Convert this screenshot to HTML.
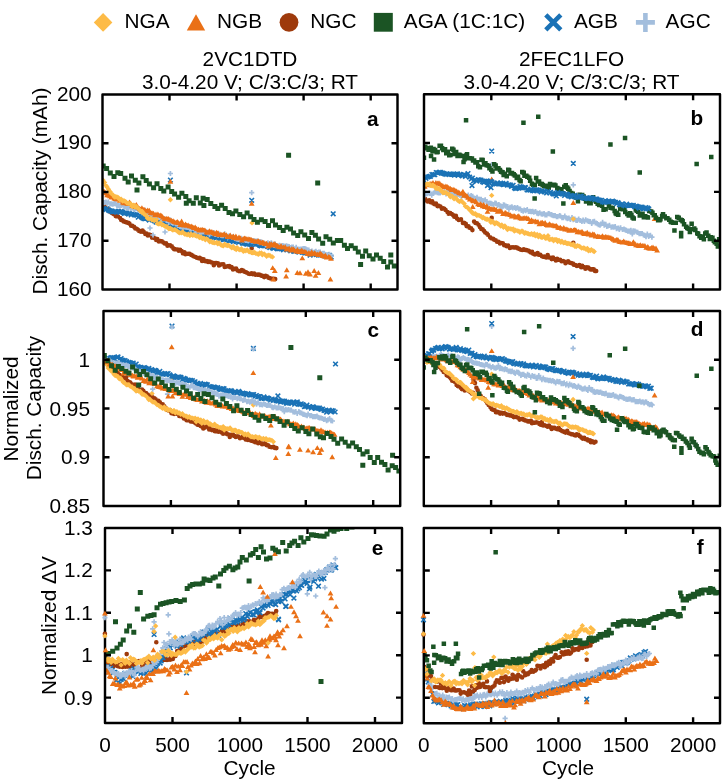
<!DOCTYPE html>
<html><head><meta charset="utf-8"><style>html,body{margin:0;padding:0;background:#fff;width:725px;height:782px;overflow:hidden}svg{display:block;will-change:transform}</style></head>
<body><svg width="725" height="782" viewBox="0 0 725 782" font-family="'Liberation Sans', sans-serif">
<rect width="725" height="782" fill="#fff"/>
<defs>
<clipPath id="cpa"><rect x="102.5" y="94.5" width="295.0" height="195.0"/></clipPath>
<clipPath id="cpb"><rect x="424.0" y="94.2" width="296.0" height="195.3"/></clipPath>
<clipPath id="cpc"><rect x="103.5" y="311.0" width="296.7" height="195.0"/></clipPath>
<clipPath id="cpd"><rect x="423.8" y="311.0" width="296.2" height="195.0"/></clipPath>
<clipPath id="cpe"><rect x="105.0" y="528.0" width="297.0" height="195.0"/></clipPath>
<clipPath id="cpf"><rect x="423.8" y="528.0" width="296.2" height="195.29999999999995"/></clipPath>
</defs>
<g clip-path="url(#cpa)">
<path fill="#9E3A0C" d="M101 204.9a2.3 2.3 0 1 0 4.6 0a2.3 2.3 0 1 0 -4.6 0M102.3 206.4a2.3 2.3 0 1 0 4.6 0a2.3 2.3 0 1 0 -4.6 0M103.7 208.2a2.3 2.3 0 1 0 4.6 0a2.3 2.3 0 1 0 -4.6 0M104.8 209.1a2.3 2.3 0 1 0 4.6 0a2.3 2.3 0 1 0 -4.6 0M106.3 209.4a2.3 2.3 0 1 0 4.6 0a2.3 2.3 0 1 0 -4.6 0M107.5 211.5a2.3 2.3 0 1 0 4.6 0a2.3 2.3 0 1 0 -4.6 0M109.3 212.7a2.3 2.3 0 1 0 4.6 0a2.3 2.3 0 1 0 -4.6 0M110.7 213.6a2.3 2.3 0 1 0 4.6 0a2.3 2.3 0 1 0 -4.6 0M111.7 214.2a2.3 2.3 0 1 0 4.6 0a2.3 2.3 0 1 0 -4.6 0M113.4 216.1a2.3 2.3 0 1 0 4.6 0a2.3 2.3 0 1 0 -4.6 0M114.8 216.3a2.3 2.3 0 1 0 4.6 0a2.3 2.3 0 1 0 -4.6 0M115.8 216.5a2.3 2.3 0 1 0 4.6 0a2.3 2.3 0 1 0 -4.6 0M117.8 218a2.3 2.3 0 1 0 4.6 0a2.3 2.3 0 1 0 -4.6 0M118.9 219.9a2.3 2.3 0 1 0 4.6 0a2.3 2.3 0 1 0 -4.6 0M120.2 220.4a2.3 2.3 0 1 0 4.6 0a2.3 2.3 0 1 0 -4.6 0M121.4 221.4a2.3 2.3 0 1 0 4.6 0a2.3 2.3 0 1 0 -4.6 0M123.3 222.1a2.3 2.3 0 1 0 4.6 0a2.3 2.3 0 1 0 -4.6 0M124.4 222.4a2.3 2.3 0 1 0 4.6 0a2.3 2.3 0 1 0 -4.6 0M125.9 222.9a2.3 2.3 0 1 0 4.6 0a2.3 2.3 0 1 0 -4.6 0M127.1 223.6a2.3 2.3 0 1 0 4.6 0a2.3 2.3 0 1 0 -4.6 0M128.8 225.7a2.3 2.3 0 1 0 4.6 0a2.3 2.3 0 1 0 -4.6 0M130 225.7a2.3 2.3 0 1 0 4.6 0a2.3 2.3 0 1 0 -4.6 0M131.7 226.8a2.3 2.3 0 1 0 4.6 0a2.3 2.3 0 1 0 -4.6 0M133 228.4a2.3 2.3 0 1 0 4.6 0a2.3 2.3 0 1 0 -4.6 0M134.4 228.7a2.3 2.3 0 1 0 4.6 0a2.3 2.3 0 1 0 -4.6 0M135.6 229.8a2.3 2.3 0 1 0 4.6 0a2.3 2.3 0 1 0 -4.6 0M136.8 230.9a2.3 2.3 0 1 0 4.6 0a2.3 2.3 0 1 0 -4.6 0M138.7 231.7a2.3 2.3 0 1 0 4.6 0a2.3 2.3 0 1 0 -4.6 0M140.2 230.5a2.3 2.3 0 1 0 4.6 0a2.3 2.3 0 1 0 -4.6 0M141.4 231.9a2.3 2.3 0 1 0 4.6 0a2.3 2.3 0 1 0 -4.6 0M143 233.9a2.3 2.3 0 1 0 4.6 0a2.3 2.3 0 1 0 -4.6 0M144.2 233.6a2.3 2.3 0 1 0 4.6 0a2.3 2.3 0 1 0 -4.6 0M145.6 235.4a2.3 2.3 0 1 0 4.6 0a2.3 2.3 0 1 0 -4.6 0M146.9 234.5a2.3 2.3 0 1 0 4.6 0a2.3 2.3 0 1 0 -4.6 0M148.2 235a2.3 2.3 0 1 0 4.6 0a2.3 2.3 0 1 0 -4.6 0M149.7 237.6a2.3 2.3 0 1 0 4.6 0a2.3 2.3 0 1 0 -4.6 0M150.9 237.3a2.3 2.3 0 1 0 4.6 0a2.3 2.3 0 1 0 -4.6 0M152.5 238.2a2.3 2.3 0 1 0 4.6 0a2.3 2.3 0 1 0 -4.6 0M153.9 239.9a2.3 2.3 0 1 0 4.6 0a2.3 2.3 0 1 0 -4.6 0M155 239.1a2.3 2.3 0 1 0 4.6 0a2.3 2.3 0 1 0 -4.6 0M156.6 241.5a2.3 2.3 0 1 0 4.6 0a2.3 2.3 0 1 0 -4.6 0M158 241a2.3 2.3 0 1 0 4.6 0a2.3 2.3 0 1 0 -4.6 0M159.6 241.4a2.3 2.3 0 1 0 4.6 0a2.3 2.3 0 1 0 -4.6 0M161.1 242.5a2.3 2.3 0 1 0 4.6 0a2.3 2.3 0 1 0 -4.6 0M162.4 243.5a2.3 2.3 0 1 0 4.6 0a2.3 2.3 0 1 0 -4.6 0M163.8 243.3a2.3 2.3 0 1 0 4.6 0a2.3 2.3 0 1 0 -4.6 0M165.2 245.8a2.3 2.3 0 1 0 4.6 0a2.3 2.3 0 1 0 -4.6 0M166.4 245.2a2.3 2.3 0 1 0 4.6 0a2.3 2.3 0 1 0 -4.6 0M167.8 245.4a2.3 2.3 0 1 0 4.6 0a2.3 2.3 0 1 0 -4.6 0M169.5 246.4a2.3 2.3 0 1 0 4.6 0a2.3 2.3 0 1 0 -4.6 0M171 248.2a2.3 2.3 0 1 0 4.6 0a2.3 2.3 0 1 0 -4.6 0M171.9 249.3a2.3 2.3 0 1 0 4.6 0a2.3 2.3 0 1 0 -4.6 0M173.2 249.3a2.3 2.3 0 1 0 4.6 0a2.3 2.3 0 1 0 -4.6 0M175.2 249.6a2.3 2.3 0 1 0 4.6 0a2.3 2.3 0 1 0 -4.6 0M176.5 250.8a2.3 2.3 0 1 0 4.6 0a2.3 2.3 0 1 0 -4.6 0M177.8 249.9a2.3 2.3 0 1 0 4.6 0a2.3 2.3 0 1 0 -4.6 0M179.3 251a2.3 2.3 0 1 0 4.6 0a2.3 2.3 0 1 0 -4.6 0M180.6 253.2a2.3 2.3 0 1 0 4.6 0a2.3 2.3 0 1 0 -4.6 0M182.1 252.3a2.3 2.3 0 1 0 4.6 0a2.3 2.3 0 1 0 -4.6 0M183.1 254.2a2.3 2.3 0 1 0 4.6 0a2.3 2.3 0 1 0 -4.6 0M184.7 253.8a2.3 2.3 0 1 0 4.6 0a2.3 2.3 0 1 0 -4.6 0M186.2 253.7a2.3 2.3 0 1 0 4.6 0a2.3 2.3 0 1 0 -4.6 0M187.3 253.8a2.3 2.3 0 1 0 4.6 0a2.3 2.3 0 1 0 -4.6 0M189 254.9a2.3 2.3 0 1 0 4.6 0a2.3 2.3 0 1 0 -4.6 0M190.2 255.6a2.3 2.3 0 1 0 4.6 0a2.3 2.3 0 1 0 -4.6 0M191.8 256.5a2.3 2.3 0 1 0 4.6 0a2.3 2.3 0 1 0 -4.6 0M193.3 257a2.3 2.3 0 1 0 4.6 0a2.3 2.3 0 1 0 -4.6 0M194.5 257.8a2.3 2.3 0 1 0 4.6 0a2.3 2.3 0 1 0 -4.6 0M196.2 258.2a2.3 2.3 0 1 0 4.6 0a2.3 2.3 0 1 0 -4.6 0M197.4 257.8a2.3 2.3 0 1 0 4.6 0a2.3 2.3 0 1 0 -4.6 0M198.9 258.9a2.3 2.3 0 1 0 4.6 0a2.3 2.3 0 1 0 -4.6 0M199.8 261a2.3 2.3 0 1 0 4.6 0a2.3 2.3 0 1 0 -4.6 0M201.3 259.4a2.3 2.3 0 1 0 4.6 0a2.3 2.3 0 1 0 -4.6 0M203 261.3a2.3 2.3 0 1 0 4.6 0a2.3 2.3 0 1 0 -4.6 0M204.6 261.1a2.3 2.3 0 1 0 4.6 0a2.3 2.3 0 1 0 -4.6 0M205.8 262a2.3 2.3 0 1 0 4.6 0a2.3 2.3 0 1 0 -4.6 0M207.3 261.6a2.3 2.3 0 1 0 4.6 0a2.3 2.3 0 1 0 -4.6 0M208.2 262.1a2.3 2.3 0 1 0 4.6 0a2.3 2.3 0 1 0 -4.6 0M210.1 262.8a2.3 2.3 0 1 0 4.6 0a2.3 2.3 0 1 0 -4.6 0M211.5 265.2a2.3 2.3 0 1 0 4.6 0a2.3 2.3 0 1 0 -4.6 0M212.8 263.1a2.3 2.3 0 1 0 4.6 0a2.3 2.3 0 1 0 -4.6 0M214.1 263a2.3 2.3 0 1 0 4.6 0a2.3 2.3 0 1 0 -4.6 0M215.6 263.3a2.3 2.3 0 1 0 4.6 0a2.3 2.3 0 1 0 -4.6 0M216.7 265.5a2.3 2.3 0 1 0 4.6 0a2.3 2.3 0 1 0 -4.6 0M218.4 264.6a2.3 2.3 0 1 0 4.6 0a2.3 2.3 0 1 0 -4.6 0M219.8 264.3a2.3 2.3 0 1 0 4.6 0a2.3 2.3 0 1 0 -4.6 0M221.1 264.4a2.3 2.3 0 1 0 4.6 0a2.3 2.3 0 1 0 -4.6 0M222.4 267a2.3 2.3 0 1 0 4.6 0a2.3 2.3 0 1 0 -4.6 0M223.6 266.8a2.3 2.3 0 1 0 4.6 0a2.3 2.3 0 1 0 -4.6 0M225.1 266.2a2.3 2.3 0 1 0 4.6 0a2.3 2.3 0 1 0 -4.6 0M226.9 266.1a2.3 2.3 0 1 0 4.6 0a2.3 2.3 0 1 0 -4.6 0M227.9 267.2a2.3 2.3 0 1 0 4.6 0a2.3 2.3 0 1 0 -4.6 0M229.2 267.1a2.3 2.3 0 1 0 4.6 0a2.3 2.3 0 1 0 -4.6 0M230.7 269.5a2.3 2.3 0 1 0 4.6 0a2.3 2.3 0 1 0 -4.6 0M232.3 268.8a2.3 2.3 0 1 0 4.6 0a2.3 2.3 0 1 0 -4.6 0M233.8 268.5a2.3 2.3 0 1 0 4.6 0a2.3 2.3 0 1 0 -4.6 0M235.3 270.5a2.3 2.3 0 1 0 4.6 0a2.3 2.3 0 1 0 -4.6 0M236.7 271.1a2.3 2.3 0 1 0 4.6 0a2.3 2.3 0 1 0 -4.6 0M238.2 271.1a2.3 2.3 0 1 0 4.6 0a2.3 2.3 0 1 0 -4.6 0M239.5 270.1a2.3 2.3 0 1 0 4.6 0a2.3 2.3 0 1 0 -4.6 0M240.7 270.5a2.3 2.3 0 1 0 4.6 0a2.3 2.3 0 1 0 -4.6 0M241.9 271.6a2.3 2.3 0 1 0 4.6 0a2.3 2.3 0 1 0 -4.6 0M243.8 272.2a2.3 2.3 0 1 0 4.6 0a2.3 2.3 0 1 0 -4.6 0M244.7 272.7a2.3 2.3 0 1 0 4.6 0a2.3 2.3 0 1 0 -4.6 0M246.4 273.8a2.3 2.3 0 1 0 4.6 0a2.3 2.3 0 1 0 -4.6 0M247.6 274a2.3 2.3 0 1 0 4.6 0a2.3 2.3 0 1 0 -4.6 0M249.3 273.2a2.3 2.3 0 1 0 4.6 0a2.3 2.3 0 1 0 -4.6 0M250.3 274.1a2.3 2.3 0 1 0 4.6 0a2.3 2.3 0 1 0 -4.6 0M251.9 273.5a2.3 2.3 0 1 0 4.6 0a2.3 2.3 0 1 0 -4.6 0M253.1 274.7a2.3 2.3 0 1 0 4.6 0a2.3 2.3 0 1 0 -4.6 0M254.9 274.7a2.3 2.3 0 1 0 4.6 0a2.3 2.3 0 1 0 -4.6 0M256.2 274.6a2.3 2.3 0 1 0 4.6 0a2.3 2.3 0 1 0 -4.6 0M257.6 274.9a2.3 2.3 0 1 0 4.6 0a2.3 2.3 0 1 0 -4.6 0M258.8 275.6a2.3 2.3 0 1 0 4.6 0a2.3 2.3 0 1 0 -4.6 0M260.1 275.9a2.3 2.3 0 1 0 4.6 0a2.3 2.3 0 1 0 -4.6 0M261.9 277.1a2.3 2.3 0 1 0 4.6 0a2.3 2.3 0 1 0 -4.6 0M263.3 275.9a2.3 2.3 0 1 0 4.6 0a2.3 2.3 0 1 0 -4.6 0M264.6 276.3a2.3 2.3 0 1 0 4.6 0a2.3 2.3 0 1 0 -4.6 0M266.2 277.8a2.3 2.3 0 1 0 4.6 0a2.3 2.3 0 1 0 -4.6 0M267.3 278.1a2.3 2.3 0 1 0 4.6 0a2.3 2.3 0 1 0 -4.6 0M268.5 278.5a2.3 2.3 0 1 0 4.6 0a2.3 2.3 0 1 0 -4.6 0M270.2 278.8a2.3 2.3 0 1 0 4.6 0a2.3 2.3 0 1 0 -4.6 0M271.4 278.9a2.3 2.3 0 1 0 4.6 0a2.3 2.3 0 1 0 -4.6 0M272.9 279a2.3 2.3 0 1 0 4.6 0a2.3 2.3 0 1 0 -4.6 0M249.4 248.2a2.3 2.3 0 1 0 4.6 0a2.3 2.3 0 1 0 -4.6 0"/>
<path fill="none" stroke="#1A72B6" stroke-width="1.6" d="M100.8 206.6l4.6 4.6m0 -4.6l-4.6 4.6M102.1 206.6l4.6 4.6m0 -4.6l-4.6 4.6M103.6 207.3l4.6 4.6m0 -4.6l-4.6 4.6M104.8 206.2l4.6 4.6m0 -4.6l-4.6 4.6M106.2 207.8l4.6 4.6m0 -4.6l-4.6 4.6M107.5 208.5l4.6 4.6m0 -4.6l-4.6 4.6M109 208.6l4.6 4.6m0 -4.6l-4.6 4.6M110.3 209.5l4.6 4.6m0 -4.6l-4.6 4.6M112.1 209.4l4.6 4.6m0 -4.6l-4.6 4.6M113.5 209.1l4.6 4.6m0 -4.6l-4.6 4.6M114.6 209.8l4.6 4.6m0 -4.6l-4.6 4.6M116.2 209l4.6 4.6m0 -4.6l-4.6 4.6M117.5 210l4.6 4.6m0 -4.6l-4.6 4.6M118.8 209l4.6 4.6m0 -4.6l-4.6 4.6M120.2 209.7l4.6 4.6m0 -4.6l-4.6 4.6M122 211l4.6 4.6m0 -4.6l-4.6 4.6M123 210.6l4.6 4.6m0 -4.6l-4.6 4.6M124.5 210.8l4.6 4.6m0 -4.6l-4.6 4.6M126.2 211.8l4.6 4.6m0 -4.6l-4.6 4.6M127.2 211.2l4.6 4.6m0 -4.6l-4.6 4.6M128.9 212.7l4.6 4.6m0 -4.6l-4.6 4.6M129.9 211.3l4.6 4.6m0 -4.6l-4.6 4.6M131.6 212.2l4.6 4.6m0 -4.6l-4.6 4.6M133.1 212.4l4.6 4.6m0 -4.6l-4.6 4.6M134.5 213l4.6 4.6m0 -4.6l-4.6 4.6M136 214.9l4.6 4.6m0 -4.6l-4.6 4.6M137.2 213.3l4.6 4.6m0 -4.6l-4.6 4.6M138.8 214.3l4.6 4.6m0 -4.6l-4.6 4.6M139.8 215.3l4.6 4.6m0 -4.6l-4.6 4.6M141.3 216l4.6 4.6m0 -4.6l-4.6 4.6M142.5 216.5l4.6 4.6m0 -4.6l-4.6 4.6M143.9 216l4.6 4.6m0 -4.6l-4.6 4.6M145.5 216.1l4.6 4.6m0 -4.6l-4.6 4.6M147 217.8l4.6 4.6m0 -4.6l-4.6 4.6M148.5 216.6l4.6 4.6m0 -4.6l-4.6 4.6M149.4 216.8l4.6 4.6m0 -4.6l-4.6 4.6M151.4 217.5l4.6 4.6m0 -4.6l-4.6 4.6M152.3 218.5l4.6 4.6m0 -4.6l-4.6 4.6M153.8 219.8l4.6 4.6m0 -4.6l-4.6 4.6M155.5 219.7l4.6 4.6m0 -4.6l-4.6 4.6M156.9 219.7l4.6 4.6m0 -4.6l-4.6 4.6M158.2 220l4.6 4.6m0 -4.6l-4.6 4.6M159.4 220.7l4.6 4.6m0 -4.6l-4.6 4.6M160.9 221l4.6 4.6m0 -4.6l-4.6 4.6M162.5 220.7l4.6 4.6m0 -4.6l-4.6 4.6M163.6 220.5l4.6 4.6m0 -4.6l-4.6 4.6M165.3 221.1l4.6 4.6m0 -4.6l-4.6 4.6M166.7 223.2l4.6 4.6m0 -4.6l-4.6 4.6M167.9 221.4l4.6 4.6m0 -4.6l-4.6 4.6M169.5 223.8l4.6 4.6m0 -4.6l-4.6 4.6M170.6 222.7l4.6 4.6m0 -4.6l-4.6 4.6M172.2 225.1l4.6 4.6m0 -4.6l-4.6 4.6M173.6 224.5l4.6 4.6m0 -4.6l-4.6 4.6M174.8 226.2l4.6 4.6m0 -4.6l-4.6 4.6M176.3 226l4.6 4.6m0 -4.6l-4.6 4.6M177.8 226.4l4.6 4.6m0 -4.6l-4.6 4.6M179.1 227.5l4.6 4.6m0 -4.6l-4.6 4.6M180.3 227.7l4.6 4.6m0 -4.6l-4.6 4.6M182.2 228.3l4.6 4.6m0 -4.6l-4.6 4.6M183.6 227.7l4.6 4.6m0 -4.6l-4.6 4.6M184.4 229.2l4.6 4.6m0 -4.6l-4.6 4.6M186.4 229.2l4.6 4.6m0 -4.6l-4.6 4.6M187.5 228.9l4.6 4.6m0 -4.6l-4.6 4.6M188.7 229.3l4.6 4.6m0 -4.6l-4.6 4.6M190.5 230.4l4.6 4.6m0 -4.6l-4.6 4.6M191.7 230.2l4.6 4.6m0 -4.6l-4.6 4.6M193.2 231.6l4.6 4.6m0 -4.6l-4.6 4.6M194.7 230.5l4.6 4.6m0 -4.6l-4.6 4.6M195.9 230.5l4.6 4.6m0 -4.6l-4.6 4.6M197 233l4.6 4.6m0 -4.6l-4.6 4.6M198.9 231.7l4.6 4.6m0 -4.6l-4.6 4.6M200.2 232.4l4.6 4.6m0 -4.6l-4.6 4.6M201.7 232.1l4.6 4.6m0 -4.6l-4.6 4.6M202.8 232.4l4.6 4.6m0 -4.6l-4.6 4.6M204.5 233.1l4.6 4.6m0 -4.6l-4.6 4.6M205.9 233.4l4.6 4.6m0 -4.6l-4.6 4.6M207 232.8l4.6 4.6m0 -4.6l-4.6 4.6M208.4 234.9l4.6 4.6m0 -4.6l-4.6 4.6M209.8 234l4.6 4.6m0 -4.6l-4.6 4.6M211 234.8l4.6 4.6m0 -4.6l-4.6 4.6M212.5 234.7l4.6 4.6m0 -4.6l-4.6 4.6M214 235.5l4.6 4.6m0 -4.6l-4.6 4.6M215.3 234.9l4.6 4.6m0 -4.6l-4.6 4.6M217.1 235.5l4.6 4.6m0 -4.6l-4.6 4.6M218.3 236.9l4.6 4.6m0 -4.6l-4.6 4.6M219.7 235.3l4.6 4.6m0 -4.6l-4.6 4.6M221 237.3l4.6 4.6m0 -4.6l-4.6 4.6M222.4 237.3l4.6 4.6m0 -4.6l-4.6 4.6M224.1 236.2l4.6 4.6m0 -4.6l-4.6 4.6M225.3 236.6l4.6 4.6m0 -4.6l-4.6 4.6M226.8 238.3l4.6 4.6m0 -4.6l-4.6 4.6M228.1 238.5l4.6 4.6m0 -4.6l-4.6 4.6M229.5 237.9l4.6 4.6m0 -4.6l-4.6 4.6M231.1 239.4l4.6 4.6m0 -4.6l-4.6 4.6M232.2 238.1l4.6 4.6m0 -4.6l-4.6 4.6M233.7 239l4.6 4.6m0 -4.6l-4.6 4.6M235.2 238.6l4.6 4.6m0 -4.6l-4.6 4.6M236.3 240.1l4.6 4.6m0 -4.6l-4.6 4.6M238.2 239.1l4.6 4.6m0 -4.6l-4.6 4.6M239.3 239.6l4.6 4.6m0 -4.6l-4.6 4.6M240.5 241.2l4.6 4.6m0 -4.6l-4.6 4.6M242.3 240.9l4.6 4.6m0 -4.6l-4.6 4.6M243.7 241.5l4.6 4.6m0 -4.6l-4.6 4.6M245 241.8l4.6 4.6m0 -4.6l-4.6 4.6M246.5 241.7l4.6 4.6m0 -4.6l-4.6 4.6M247.5 241.9l4.6 4.6m0 -4.6l-4.6 4.6M249.1 242.3l4.6 4.6m0 -4.6l-4.6 4.6M250.6 241.2l4.6 4.6m0 -4.6l-4.6 4.6M252.2 240.4l4.6 4.6m0 -4.6l-4.6 4.6M253.4 242.2l4.6 4.6m0 -4.6l-4.6 4.6M254.8 241.7l4.6 4.6m0 -4.6l-4.6 4.6M256 241.9l4.6 4.6m0 -4.6l-4.6 4.6M257.5 243.2l4.6 4.6m0 -4.6l-4.6 4.6M258.9 243.6l4.6 4.6m0 -4.6l-4.6 4.6M260.5 243l4.6 4.6m0 -4.6l-4.6 4.6M261.9 243.2l4.6 4.6m0 -4.6l-4.6 4.6M263.2 243l4.6 4.6m0 -4.6l-4.6 4.6M264.8 243.9l4.6 4.6m0 -4.6l-4.6 4.6M265.6 244.3l4.6 4.6m0 -4.6l-4.6 4.6M267.5 245.3l4.6 4.6m0 -4.6l-4.6 4.6M268.7 243.5l4.6 4.6m0 -4.6l-4.6 4.6M270.3 245.7l4.6 4.6m0 -4.6l-4.6 4.6M271.4 246.1l4.6 4.6m0 -4.6l-4.6 4.6M272.9 244.9l4.6 4.6m0 -4.6l-4.6 4.6M274.5 246l4.6 4.6m0 -4.6l-4.6 4.6M275.4 246.5l4.6 4.6m0 -4.6l-4.6 4.6M277 246.3l4.6 4.6m0 -4.6l-4.6 4.6M278.5 245.8l4.6 4.6m0 -4.6l-4.6 4.6M280.1 246.3l4.6 4.6m0 -4.6l-4.6 4.6M281.2 247.5l4.6 4.6m0 -4.6l-4.6 4.6M282.9 245.7l4.6 4.6m0 -4.6l-4.6 4.6M283.9 247.1l4.6 4.6m0 -4.6l-4.6 4.6M285.4 246.4l4.6 4.6m0 -4.6l-4.6 4.6M286.9 247.4l4.6 4.6m0 -4.6l-4.6 4.6M288.4 248.5l4.6 4.6m0 -4.6l-4.6 4.6M289.9 247.1l4.6 4.6m0 -4.6l-4.6 4.6M291.3 248.9l4.6 4.6m0 -4.6l-4.6 4.6M292.4 249.1l4.6 4.6m0 -4.6l-4.6 4.6M294 248l4.6 4.6m0 -4.6l-4.6 4.6M295.4 249.2l4.6 4.6m0 -4.6l-4.6 4.6M296.6 249.8l4.6 4.6m0 -4.6l-4.6 4.6M298.3 249.2l4.6 4.6m0 -4.6l-4.6 4.6M299.7 249.8l4.6 4.6m0 -4.6l-4.6 4.6M300.9 249.8l4.6 4.6m0 -4.6l-4.6 4.6M302.5 250.6l4.6 4.6m0 -4.6l-4.6 4.6M303.5 250.5l4.6 4.6m0 -4.6l-4.6 4.6M304.9 249.7l4.6 4.6m0 -4.6l-4.6 4.6M306.7 250l4.6 4.6m0 -4.6l-4.6 4.6M307.8 252.9l4.6 4.6m0 -4.6l-4.6 4.6M309.4 250.4l4.6 4.6m0 -4.6l-4.6 4.6M310.7 252.2l4.6 4.6m0 -4.6l-4.6 4.6M311.9 251.8l4.6 4.6m0 -4.6l-4.6 4.6M313.7 252l4.6 4.6m0 -4.6l-4.6 4.6M315 250.9l4.6 4.6m0 -4.6l-4.6 4.6M316.1 252.8l4.6 4.6m0 -4.6l-4.6 4.6M317.6 252.8l4.6 4.6m0 -4.6l-4.6 4.6M319.3 252.6l4.6 4.6m0 -4.6l-4.6 4.6M320.7 252.8l4.6 4.6m0 -4.6l-4.6 4.6M322.1 253.4l4.6 4.6m0 -4.6l-4.6 4.6M323.3 253.8l4.6 4.6m0 -4.6l-4.6 4.6M324.6 252.4l4.6 4.6m0 -4.6l-4.6 4.6M326.1 253.3l4.6 4.6m0 -4.6l-4.6 4.6M327.3 253.1l4.6 4.6m0 -4.6l-4.6 4.6M328.9 254.8l4.6 4.6m0 -4.6l-4.6 4.6M168.1 177.7l4.6 4.6m0 -4.6l-4.6 4.6M249.4 198l4.6 4.6m0 -4.6l-4.6 4.6M330.9 211.5l4.6 4.6m0 -4.6l-4.6 4.6"/>
<path fill="none" stroke="#A3BEDD" stroke-width="1.7" d="M100.2 202.7h5.2m-2.6 -2.6v5.2M101.8 202.6h5.2m-2.6 -2.6v5.2M103.4 202.2h5.2m-2.6 -2.6v5.2M104.7 203.2h5.2m-2.6 -2.6v5.2M105.7 202.2h5.2m-2.6 -2.6v5.2M107.4 203.8h5.2m-2.6 -2.6v5.2M108.7 203.8h5.2m-2.6 -2.6v5.2M110.2 204.2h5.2m-2.6 -2.6v5.2M111.7 203.6h5.2m-2.6 -2.6v5.2M113.3 203.9h5.2m-2.6 -2.6v5.2M114.3 205.3h5.2m-2.6 -2.6v5.2M115.7 205.7h5.2m-2.6 -2.6v5.2M117.3 205.9h5.2m-2.6 -2.6v5.2M118.8 205.3h5.2m-2.6 -2.6v5.2M120.1 205h5.2m-2.6 -2.6v5.2M121.4 206.4h5.2m-2.6 -2.6v5.2M123 206.9h5.2m-2.6 -2.6v5.2M124.2 207.9h5.2m-2.6 -2.6v5.2M125.9 208.2h5.2m-2.6 -2.6v5.2M126.9 206.7h5.2m-2.6 -2.6v5.2M128.2 208.7h5.2m-2.6 -2.6v5.2M130 207.9h5.2m-2.6 -2.6v5.2M131.1 209.3h5.2m-2.6 -2.6v5.2M132.8 208.9h5.2m-2.6 -2.6v5.2M134.1 208.3h5.2m-2.6 -2.6v5.2M135.4 209.9h5.2m-2.6 -2.6v5.2M136.6 210.3h5.2m-2.6 -2.6v5.2M138.4 211.1h5.2m-2.6 -2.6v5.2M139.3 211.3h5.2m-2.6 -2.6v5.2M141.3 211.8h5.2m-2.6 -2.6v5.2M142.6 210.4h5.2m-2.6 -2.6v5.2M143.7 212.6h5.2m-2.6 -2.6v5.2M145 212.4h5.2m-2.6 -2.6v5.2M146.8 213.6h5.2m-2.6 -2.6v5.2M148 213.8h5.2m-2.6 -2.6v5.2M149.2 214.6h5.2m-2.6 -2.6v5.2M150.8 214h5.2m-2.6 -2.6v5.2M152 217.1h5.2m-2.6 -2.6v5.2M153.5 215.6h5.2m-2.6 -2.6v5.2M155.1 216.5h5.2m-2.6 -2.6v5.2M156.6 216.4h5.2m-2.6 -2.6v5.2M158 218.3h5.2m-2.6 -2.6v5.2M159 219.4h5.2m-2.6 -2.6v5.2M160.6 218.8h5.2m-2.6 -2.6v5.2M162 218.8h5.2m-2.6 -2.6v5.2M163.7 220.5h5.2m-2.6 -2.6v5.2M164.6 220h5.2m-2.6 -2.6v5.2M166.2 222.3h5.2m-2.6 -2.6v5.2M167.8 220.2h5.2m-2.6 -2.6v5.2M168.9 222.3h5.2m-2.6 -2.6v5.2M170.3 223.2h5.2m-2.6 -2.6v5.2M171.8 222.9h5.2m-2.6 -2.6v5.2M173.1 223.8h5.2m-2.6 -2.6v5.2M174.9 225.4h5.2m-2.6 -2.6v5.2M175.8 225.5h5.2m-2.6 -2.6v5.2M177.2 226.5h5.2m-2.6 -2.6v5.2M178.6 225.5h5.2m-2.6 -2.6v5.2M180.3 228.6h5.2m-2.6 -2.6v5.2M181.5 225.8h5.2m-2.6 -2.6v5.2M183.2 227.2h5.2m-2.6 -2.6v5.2M184.6 227.3h5.2m-2.6 -2.6v5.2M186.1 227.4h5.2m-2.6 -2.6v5.2M187.1 228.9h5.2m-2.6 -2.6v5.2M188.3 229.2h5.2m-2.6 -2.6v5.2M189.9 228.2h5.2m-2.6 -2.6v5.2M191.7 229h5.2m-2.6 -2.6v5.2M193 230.5h5.2m-2.6 -2.6v5.2M193.9 232.6h5.2m-2.6 -2.6v5.2M195.7 230.7h5.2m-2.6 -2.6v5.2M197.3 232.4h5.2m-2.6 -2.6v5.2M198.7 232.1h5.2m-2.6 -2.6v5.2M199.9 231.8h5.2m-2.6 -2.6v5.2M201.4 231.9h5.2m-2.6 -2.6v5.2M202.8 231.3h5.2m-2.6 -2.6v5.2M203.9 231.9h5.2m-2.6 -2.6v5.2M205.2 232.7h5.2m-2.6 -2.6v5.2M206.9 234.7h5.2m-2.6 -2.6v5.2M208 232.5h5.2m-2.6 -2.6v5.2M209.5 233.1h5.2m-2.6 -2.6v5.2M211.3 232.6h5.2m-2.6 -2.6v5.2M212.4 234.3h5.2m-2.6 -2.6v5.2M213.8 234.1h5.2m-2.6 -2.6v5.2M215.5 235.1h5.2m-2.6 -2.6v5.2M216.5 234.2h5.2m-2.6 -2.6v5.2M218.3 235.4h5.2m-2.6 -2.6v5.2M219.6 235.7h5.2m-2.6 -2.6v5.2M220.7 235.6h5.2m-2.6 -2.6v5.2M222.1 233.9h5.2m-2.6 -2.6v5.2M223.4 236h5.2m-2.6 -2.6v5.2M225.2 237h5.2m-2.6 -2.6v5.2M226.2 236.1h5.2m-2.6 -2.6v5.2M227.5 236.2h5.2m-2.6 -2.6v5.2M229.4 237.2h5.2m-2.6 -2.6v5.2M230.7 237h5.2m-2.6 -2.6v5.2M232.1 238.4h5.2m-2.6 -2.6v5.2M233.5 238.7h5.2m-2.6 -2.6v5.2M234.5 239.2h5.2m-2.6 -2.6v5.2M236 239.3h5.2m-2.6 -2.6v5.2M237.6 239.1h5.2m-2.6 -2.6v5.2M238.7 238.3h5.2m-2.6 -2.6v5.2M240.4 239.9h5.2m-2.6 -2.6v5.2M241.9 240h5.2m-2.6 -2.6v5.2M243.3 240.3h5.2m-2.6 -2.6v5.2M244.7 240.4h5.2m-2.6 -2.6v5.2M245.7 240.9h5.2m-2.6 -2.6v5.2M247.2 240h5.2m-2.6 -2.6v5.2M249 241h5.2m-2.6 -2.6v5.2M250 240.9h5.2m-2.6 -2.6v5.2M251.6 240.8h5.2m-2.6 -2.6v5.2M252.7 241h5.2m-2.6 -2.6v5.2M254.7 240.9h5.2m-2.6 -2.6v5.2M255.6 241.8h5.2m-2.6 -2.6v5.2M257.1 241.8h5.2m-2.6 -2.6v5.2M258.6 241.8h5.2m-2.6 -2.6v5.2M260.1 243.4h5.2m-2.6 -2.6v5.2M261.7 243.2h5.2m-2.6 -2.6v5.2M262.9 244.9h5.2m-2.6 -2.6v5.2M264.1 244.4h5.2m-2.6 -2.6v5.2M265.3 242.9h5.2m-2.6 -2.6v5.2M267.1 243.8h5.2m-2.6 -2.6v5.2M268.7 242.9h5.2m-2.6 -2.6v5.2M269.5 244h5.2m-2.6 -2.6v5.2M271.4 245.5h5.2m-2.6 -2.6v5.2M272.4 243.8h5.2m-2.6 -2.6v5.2M274 245.5h5.2m-2.6 -2.6v5.2M275.4 246h5.2m-2.6 -2.6v5.2M276.9 245.4h5.2m-2.6 -2.6v5.2M278.5 246.3h5.2m-2.6 -2.6v5.2M279.7 245.7h5.2m-2.6 -2.6v5.2M280.9 245.8h5.2m-2.6 -2.6v5.2M282.5 246.3h5.2m-2.6 -2.6v5.2M283.8 245.9h5.2m-2.6 -2.6v5.2M285.1 246.4h5.2m-2.6 -2.6v5.2M286.5 246.6h5.2m-2.6 -2.6v5.2M288 247.7h5.2m-2.6 -2.6v5.2M289.3 247.1h5.2m-2.6 -2.6v5.2M290.6 247.1h5.2m-2.6 -2.6v5.2M292 248.9h5.2m-2.6 -2.6v5.2M293.6 247.4h5.2m-2.6 -2.6v5.2M294.9 249.5h5.2m-2.6 -2.6v5.2M296.6 249.4h5.2m-2.6 -2.6v5.2M298 249.2h5.2m-2.6 -2.6v5.2M299.1 249h5.2m-2.6 -2.6v5.2M300.7 248.7h5.2m-2.6 -2.6v5.2M302.2 248.7h5.2m-2.6 -2.6v5.2M303.3 249h5.2m-2.6 -2.6v5.2M304.8 249.8h5.2m-2.6 -2.6v5.2M306.2 250.2h5.2m-2.6 -2.6v5.2M307.7 251.7h5.2m-2.6 -2.6v5.2M309.3 251.2h5.2m-2.6 -2.6v5.2M310.2 252.5h5.2m-2.6 -2.6v5.2M312.1 252.2h5.2m-2.6 -2.6v5.2M313.3 251.3h5.2m-2.6 -2.6v5.2M314.8 252.5h5.2m-2.6 -2.6v5.2M316.1 252h5.2m-2.6 -2.6v5.2M317.6 252h5.2m-2.6 -2.6v5.2M318.7 254.4h5.2m-2.6 -2.6v5.2M320.3 253.4h5.2m-2.6 -2.6v5.2M321.5 253.4h5.2m-2.6 -2.6v5.2M323 254.7h5.2m-2.6 -2.6v5.2M324.5 255h5.2m-2.6 -2.6v5.2M325.6 254.9h5.2m-2.6 -2.6v5.2M326.9 254.3h5.2m-2.6 -2.6v5.2M328.8 256.2h5.2m-2.6 -2.6v5.2M167.8 173.5h5.2m-2.6 -2.6v5.2M249.1 192.6h5.2m-2.6 -2.6v5.2M147.4 228h5.2m-2.6 -2.6v5.2M150.4 235h5.2m-2.6 -2.6v5.2M162.4 232h5.2m-2.6 -2.6v5.2"/>
<path fill="#EA7016" d="M103.3 188.8l2.9 4.9h-5.8zM104.6 188.9l2.9 4.9h-5.8zM105.7 190.4l2.9 4.9h-5.8zM107.1 192.4l2.9 4.9h-5.8zM108.8 192.5l2.9 4.9h-5.8zM110 193.4l2.9 4.9h-5.8zM111.5 194.4l2.9 4.9h-5.8zM112.5 194.7l2.9 4.9h-5.8zM114.4 195.5l2.9 4.9h-5.8zM115.5 196.1l2.9 4.9h-5.8zM117 196.3l2.9 4.9h-5.8zM118.2 196.6l2.9 4.9h-5.8zM119.8 197.9l2.9 4.9h-5.8zM121.4 197.9l2.9 4.9h-5.8zM122.8 199.5l2.9 4.9h-5.8zM124 200.4l2.9 4.9h-5.8zM125.6 199.5l2.9 4.9h-5.8zM126.8 200.6l2.9 4.9h-5.8zM128.1 201l2.9 4.9h-5.8zM129.6 199.4l2.9 4.9h-5.8zM130.8 201.1l2.9 4.9h-5.8zM132.3 203.2l2.9 4.9h-5.8zM133.9 202.8l2.9 4.9h-5.8zM135.4 204.1l2.9 4.9h-5.8zM136.3 201.9l2.9 4.9h-5.8zM138.1 204.7l2.9 4.9h-5.8zM139.6 205.9l2.9 4.9h-5.8zM140.8 206.5l2.9 4.9h-5.8zM141.9 205.2l2.9 4.9h-5.8zM143.7 206.9l2.9 4.9h-5.8zM144.8 207.1l2.9 4.9h-5.8zM146.5 208.6l2.9 4.9h-5.8zM147.7 207.6l2.9 4.9h-5.8zM149.3 207.8l2.9 4.9h-5.8zM150.5 210.4l2.9 4.9h-5.8zM152 210.2l2.9 4.9h-5.8zM153.4 210.7l2.9 4.9h-5.8zM154.9 212.4l2.9 4.9h-5.8zM156 211.5l2.9 4.9h-5.8zM157.9 211.4l2.9 4.9h-5.8zM158.9 212.7l2.9 4.9h-5.8zM160.3 212.6l2.9 4.9h-5.8zM161.7 213l2.9 4.9h-5.8zM162.9 214.5l2.9 4.9h-5.8zM164.6 216l2.9 4.9h-5.8zM166.2 215.7l2.9 4.9h-5.8zM167.5 216.3l2.9 4.9h-5.8zM168.6 216.1l2.9 4.9h-5.8zM170 217.2l2.9 4.9h-5.8zM171.5 217.7l2.9 4.9h-5.8zM173.2 218.3l2.9 4.9h-5.8zM174.4 219.2l2.9 4.9h-5.8zM176.1 219.8l2.9 4.9h-5.8zM177.3 218.9l2.9 4.9h-5.8zM178.7 220.2l2.9 4.9h-5.8zM180.2 222.2l2.9 4.9h-5.8zM181.6 218.5l2.9 4.9h-5.8zM182.7 221.6l2.9 4.9h-5.8zM184.1 222.5l2.9 4.9h-5.8zM185.6 221.4l2.9 4.9h-5.8zM187 222.8l2.9 4.9h-5.8zM188.2 222.6l2.9 4.9h-5.8zM189.8 223.4l2.9 4.9h-5.8zM191.3 223.6l2.9 4.9h-5.8zM192.4 224.2l2.9 4.9h-5.8zM193.8 225.1l2.9 4.9h-5.8zM195.2 224.4l2.9 4.9h-5.8zM196.7 226l2.9 4.9h-5.8zM198.5 226.6l2.9 4.9h-5.8zM199.3 227.5l2.9 4.9h-5.8zM200.8 226.9l2.9 4.9h-5.8zM202.2 226.8l2.9 4.9h-5.8zM203.8 227.5l2.9 4.9h-5.8zM204.9 227.4l2.9 4.9h-5.8zM206.6 229.4l2.9 4.9h-5.8zM207.8 229.8l2.9 4.9h-5.8zM209.3 228.2l2.9 4.9h-5.8zM211 229.1l2.9 4.9h-5.8zM212 229.3l2.9 4.9h-5.8zM213.7 230l2.9 4.9h-5.8zM214.9 231.3l2.9 4.9h-5.8zM216.4 229.7l2.9 4.9h-5.8zM218 230.2l2.9 4.9h-5.8zM219 232l2.9 4.9h-5.8zM220.9 231.5l2.9 4.9h-5.8zM222.2 232.3l2.9 4.9h-5.8zM223.5 231.9l2.9 4.9h-5.8zM224.5 231.6l2.9 4.9h-5.8zM226.3 232.3l2.9 4.9h-5.8zM227.7 234l2.9 4.9h-5.8zM229.2 233.8l2.9 4.9h-5.8zM230.2 232.6l2.9 4.9h-5.8zM232.1 234.3l2.9 4.9h-5.8zM233.4 233.6l2.9 4.9h-5.8zM234.4 235l2.9 4.9h-5.8zM235.9 233.6l2.9 4.9h-5.8zM237.1 235.7l2.9 4.9h-5.8zM239 234.4l2.9 4.9h-5.8zM240.4 235.4l2.9 4.9h-5.8zM241.9 237.7l2.9 4.9h-5.8zM243.1 236.1l2.9 4.9h-5.8zM244.5 235.6l2.9 4.9h-5.8zM245.9 235.8l2.9 4.9h-5.8zM247.2 236.4l2.9 4.9h-5.8zM248.9 236.2l2.9 4.9h-5.8zM250.1 236.8l2.9 4.9h-5.8zM251.3 236.9l2.9 4.9h-5.8zM252.8 238.1l2.9 4.9h-5.8zM253.9 238l2.9 4.9h-5.8zM255.7 238.8l2.9 4.9h-5.8zM257.1 238.4l2.9 4.9h-5.8zM258.4 238.2l2.9 4.9h-5.8zM260 239.1l2.9 4.9h-5.8zM261.4 240.3l2.9 4.9h-5.8zM262.5 239.5l2.9 4.9h-5.8zM263.7 240.1l2.9 4.9h-5.8zM265.2 241.1l2.9 4.9h-5.8zM266.6 240.7l2.9 4.9h-5.8zM268.1 243.7l2.9 4.9h-5.8zM269.6 241l2.9 4.9h-5.8zM271.3 241.3l2.9 4.9h-5.8zM272.3 242.5l2.9 4.9h-5.8zM274 241l2.9 4.9h-5.8zM275.3 241.8l2.9 4.9h-5.8zM276.8 242.7l2.9 4.9h-5.8zM277.9 243.3l2.9 4.9h-5.8zM279.1 244.4l2.9 4.9h-5.8zM281 243l2.9 4.9h-5.8zM282 244.7l2.9 4.9h-5.8zM283.4 244.6l2.9 4.9h-5.8zM285.2 244.2l2.9 4.9h-5.8zM286.5 246.5l2.9 4.9h-5.8zM287.6 246.2l2.9 4.9h-5.8zM289.1 245.4l2.9 4.9h-5.8zM290.9 247.5l2.9 4.9h-5.8zM291.9 246.1l2.9 4.9h-5.8zM293.5 246.5l2.9 4.9h-5.8zM294.6 247.5l2.9 4.9h-5.8zM296.4 248.7l2.9 4.9h-5.8zM297.4 246.9l2.9 4.9h-5.8zM299 249.1l2.9 4.9h-5.8zM300.1 248.6l2.9 4.9h-5.8zM301.8 247.6l2.9 4.9h-5.8zM303.4 249.2l2.9 4.9h-5.8zM304.4 248.9l2.9 4.9h-5.8zM305.9 249.3l2.9 4.9h-5.8zM307.6 251.2l2.9 4.9h-5.8zM308.9 250l2.9 4.9h-5.8zM310.1 251.6l2.9 4.9h-5.8zM311.7 249.2l2.9 4.9h-5.8zM313 250.9l2.9 4.9h-5.8zM314.6 250.2l2.9 4.9h-5.8zM315.7 251.2l2.9 4.9h-5.8zM317.4 251.6l2.9 4.9h-5.8zM318.7 252l2.9 4.9h-5.8zM320.1 250.6l2.9 4.9h-5.8zM321.3 251.4l2.9 4.9h-5.8zM322.9 253l2.9 4.9h-5.8zM324.3 253.5l2.9 4.9h-5.8zM325.5 252.8l2.9 4.9h-5.8zM326.7 254.6l2.9 4.9h-5.8zM328.7 254l2.9 4.9h-5.8zM329.9 254.5l2.9 4.9h-5.8zM331 255.9l2.9 4.9h-5.8zM170.4 178.8l2.9 4.9h-5.8zM251.7 200.8l2.9 4.9h-5.8zM272.7 265.2l2.9 4.9h-5.8zM274.8 268l2.9 4.9h-5.8zM286.8 267.3l2.9 4.9h-5.8zM286.1 273.6l2.9 4.9h-5.8zM297.3 270.1l2.9 4.9h-5.8zM305.8 270.8l2.9 4.9h-5.8zM310 271.5l2.9 4.9h-5.8zM314.2 268l2.9 4.9h-5.8zM318.4 270.1l2.9 4.9h-5.8zM315.6 272.9l2.9 4.9h-5.8zM330.4 276.5l2.9 4.9h-5.8zM302.3 255.4l2.9 4.9h-5.8zM273.4 276.5l2.9 4.9h-5.8zM300 270.3l2.9 4.9h-5.8zM308 269.3l2.9 4.9h-5.8z"/>
<path fill="#FDBB47" d="M103.1 177.6l2.7 2.7 -2.7 2.7 -2.7 -2.7zM104.6 179.8l2.7 2.7 -2.7 2.7 -2.7 -2.7zM106 182.8l2.7 2.7 -2.7 2.7 -2.7 -2.7zM107 184.3l2.7 2.7 -2.7 2.7 -2.7 -2.7zM108.5 186.5l2.7 2.7 -2.7 2.7 -2.7 -2.7zM110.2 189l2.7 2.7 -2.7 2.7 -2.7 -2.7zM111.1 190.7l2.7 2.7 -2.7 2.7 -2.7 -2.7zM113 192.3l2.7 2.7 -2.7 2.7 -2.7 -2.7zM114.4 194.3l2.7 2.7 -2.7 2.7 -2.7 -2.7zM115.6 194.2l2.7 2.7 -2.7 2.7 -2.7 -2.7zM116.9 194.3l2.7 2.7 -2.7 2.7 -2.7 -2.7zM118.3 194.9l2.7 2.7 -2.7 2.7 -2.7 -2.7zM119.7 197l2.7 2.7 -2.7 2.7 -2.7 -2.7zM121.2 196.6l2.7 2.7 -2.7 2.7 -2.7 -2.7zM122.6 198.4l2.7 2.7 -2.7 2.7 -2.7 -2.7zM124 198.1l2.7 2.7 -2.7 2.7 -2.7 -2.7zM125.7 199.1l2.7 2.7 -2.7 2.7 -2.7 -2.7zM127 200.3l2.7 2.7 -2.7 2.7 -2.7 -2.7zM128.3 200.6l2.7 2.7 -2.7 2.7 -2.7 -2.7zM129.9 200.9l2.7 2.7 -2.7 2.7 -2.7 -2.7zM130.8 201.2l2.7 2.7 -2.7 2.7 -2.7 -2.7zM132.2 203.8l2.7 2.7 -2.7 2.7 -2.7 -2.7zM133.9 202.5l2.7 2.7 -2.7 2.7 -2.7 -2.7zM134.9 204.4l2.7 2.7 -2.7 2.7 -2.7 -2.7zM136.3 203.7l2.7 2.7 -2.7 2.7 -2.7 -2.7zM138 205.6l2.7 2.7 -2.7 2.7 -2.7 -2.7zM139.4 207l2.7 2.7 -2.7 2.7 -2.7 -2.7zM141.1 209.1l2.7 2.7 -2.7 2.7 -2.7 -2.7zM142.3 208.7l2.7 2.7 -2.7 2.7 -2.7 -2.7zM143.6 211.1l2.7 2.7 -2.7 2.7 -2.7 -2.7zM145 211.9l2.7 2.7 -2.7 2.7 -2.7 -2.7zM146.2 213.2l2.7 2.7 -2.7 2.7 -2.7 -2.7zM147.5 215.6l2.7 2.7 -2.7 2.7 -2.7 -2.7zM149 216l2.7 2.7 -2.7 2.7 -2.7 -2.7zM150.7 215.8l2.7 2.7 -2.7 2.7 -2.7 -2.7zM151.8 217.1l2.7 2.7 -2.7 2.7 -2.7 -2.7zM153.3 217.3l2.7 2.7 -2.7 2.7 -2.7 -2.7zM154.5 217.6l2.7 2.7 -2.7 2.7 -2.7 -2.7zM156.4 217.1l2.7 2.7 -2.7 2.7 -2.7 -2.7zM157.4 220.8l2.7 2.7 -2.7 2.7 -2.7 -2.7zM158.9 221.3l2.7 2.7 -2.7 2.7 -2.7 -2.7zM160.6 220.3l2.7 2.7 -2.7 2.7 -2.7 -2.7zM161.8 222l2.7 2.7 -2.7 2.7 -2.7 -2.7zM163.4 222.4l2.7 2.7 -2.7 2.7 -2.7 -2.7zM164.7 223.3l2.7 2.7 -2.7 2.7 -2.7 -2.7zM166.1 224.1l2.7 2.7 -2.7 2.7 -2.7 -2.7zM167.2 224l2.7 2.7 -2.7 2.7 -2.7 -2.7zM168.8 226.1l2.7 2.7 -2.7 2.7 -2.7 -2.7zM170.2 225.6l2.7 2.7 -2.7 2.7 -2.7 -2.7zM171.8 226.6l2.7 2.7 -2.7 2.7 -2.7 -2.7zM172.9 227.3l2.7 2.7 -2.7 2.7 -2.7 -2.7zM174.5 226.9l2.7 2.7 -2.7 2.7 -2.7 -2.7zM175.5 227.2l2.7 2.7 -2.7 2.7 -2.7 -2.7zM177.1 228.3l2.7 2.7 -2.7 2.7 -2.7 -2.7zM178.5 229.5l2.7 2.7 -2.7 2.7 -2.7 -2.7zM179.8 230l2.7 2.7 -2.7 2.7 -2.7 -2.7zM181.6 230.1l2.7 2.7 -2.7 2.7 -2.7 -2.7zM182.7 229.2l2.7 2.7 -2.7 2.7 -2.7 -2.7zM184.5 231.3l2.7 2.7 -2.7 2.7 -2.7 -2.7zM185.7 231.4l2.7 2.7 -2.7 2.7 -2.7 -2.7zM187.1 232l2.7 2.7 -2.7 2.7 -2.7 -2.7zM188.5 231.6l2.7 2.7 -2.7 2.7 -2.7 -2.7zM189.9 232.8l2.7 2.7 -2.7 2.7 -2.7 -2.7zM191 231.3l2.7 2.7 -2.7 2.7 -2.7 -2.7zM192.6 232.5l2.7 2.7 -2.7 2.7 -2.7 -2.7zM193.8 232l2.7 2.7 -2.7 2.7 -2.7 -2.7zM195.3 232.9l2.7 2.7 -2.7 2.7 -2.7 -2.7zM196.6 233.3l2.7 2.7 -2.7 2.7 -2.7 -2.7zM198.5 233.6l2.7 2.7 -2.7 2.7 -2.7 -2.7zM199.4 234.9l2.7 2.7 -2.7 2.7 -2.7 -2.7zM201.1 234.3l2.7 2.7 -2.7 2.7 -2.7 -2.7zM202.3 235.9l2.7 2.7 -2.7 2.7 -2.7 -2.7zM204 235.5l2.7 2.7 -2.7 2.7 -2.7 -2.7zM205.3 237.1l2.7 2.7 -2.7 2.7 -2.7 -2.7zM206.4 236.1l2.7 2.7 -2.7 2.7 -2.7 -2.7zM208.2 237.2l2.7 2.7 -2.7 2.7 -2.7 -2.7zM209.7 239l2.7 2.7 -2.7 2.7 -2.7 -2.7zM211 238.6l2.7 2.7 -2.7 2.7 -2.7 -2.7zM212.2 239.7l2.7 2.7 -2.7 2.7 -2.7 -2.7zM213.4 239.8l2.7 2.7 -2.7 2.7 -2.7 -2.7zM214.8 240.2l2.7 2.7 -2.7 2.7 -2.7 -2.7zM216.7 239.7l2.7 2.7 -2.7 2.7 -2.7 -2.7zM217.8 241.2l2.7 2.7 -2.7 2.7 -2.7 -2.7zM219 240.1l2.7 2.7 -2.7 2.7 -2.7 -2.7zM220.8 242l2.7 2.7 -2.7 2.7 -2.7 -2.7zM222.1 242.9l2.7 2.7 -2.7 2.7 -2.7 -2.7zM223.4 243l2.7 2.7 -2.7 2.7 -2.7 -2.7zM224.7 241.6l2.7 2.7 -2.7 2.7 -2.7 -2.7zM226.1 242.5l2.7 2.7 -2.7 2.7 -2.7 -2.7zM227.4 242.8l2.7 2.7 -2.7 2.7 -2.7 -2.7zM228.7 242.7l2.7 2.7 -2.7 2.7 -2.7 -2.7zM230.6 244.2l2.7 2.7 -2.7 2.7 -2.7 -2.7zM231.8 245l2.7 2.7 -2.7 2.7 -2.7 -2.7zM233.2 243.8l2.7 2.7 -2.7 2.7 -2.7 -2.7zM234.5 245.8l2.7 2.7 -2.7 2.7 -2.7 -2.7zM236.2 246.9l2.7 2.7 -2.7 2.7 -2.7 -2.7zM237.1 244.9l2.7 2.7 -2.7 2.7 -2.7 -2.7zM238.7 246.6l2.7 2.7 -2.7 2.7 -2.7 -2.7zM239.9 247.2l2.7 2.7 -2.7 2.7 -2.7 -2.7zM241.4 246.1l2.7 2.7 -2.7 2.7 -2.7 -2.7zM243.3 248.5l2.7 2.7 -2.7 2.7 -2.7 -2.7zM244.5 247.8l2.7 2.7 -2.7 2.7 -2.7 -2.7zM245.8 248l2.7 2.7 -2.7 2.7 -2.7 -2.7zM247.2 247.2l2.7 2.7 -2.7 2.7 -2.7 -2.7zM248.8 248.8l2.7 2.7 -2.7 2.7 -2.7 -2.7zM249.9 249l2.7 2.7 -2.7 2.7 -2.7 -2.7zM251.5 249.8l2.7 2.7 -2.7 2.7 -2.7 -2.7zM252.9 250.1l2.7 2.7 -2.7 2.7 -2.7 -2.7zM254.1 249.5l2.7 2.7 -2.7 2.7 -2.7 -2.7zM255.6 250.5l2.7 2.7 -2.7 2.7 -2.7 -2.7zM257.2 251.2l2.7 2.7 -2.7 2.7 -2.7 -2.7zM258.6 251.5l2.7 2.7 -2.7 2.7 -2.7 -2.7zM259.6 250.2l2.7 2.7 -2.7 2.7 -2.7 -2.7zM261.5 250.3l2.7 2.7 -2.7 2.7 -2.7 -2.7zM262.3 252l2.7 2.7 -2.7 2.7 -2.7 -2.7zM264.2 251.3l2.7 2.7 -2.7 2.7 -2.7 -2.7zM265.6 252.4l2.7 2.7 -2.7 2.7 -2.7 -2.7zM266.6 253.6l2.7 2.7 -2.7 2.7 -2.7 -2.7zM268.2 252.6l2.7 2.7 -2.7 2.7 -2.7 -2.7zM269.8 252.7l2.7 2.7 -2.7 2.7 -2.7 -2.7zM270.7 253.4l2.7 2.7 -2.7 2.7 -2.7 -2.7zM272.5 254.2l2.7 2.7 -2.7 2.7 -2.7 -2.7zM170.4 197l2.7 2.7 -2.7 2.7 -2.7 -2.7zM252 220.2l2.7 2.7 -2.7 2.7 -2.7 -2.7z"/>
<path fill="#1B5424" d="M100.7 163.4h5v5h-5zM104.1 166h5v5h-5zM107.8 170.4h5v5h-5zM111.5 174h5v5h-5zM115.3 170.3h5v5h-5zM118.2 171h5v5h-5zM122.5 175.8h5v5h-5zM125.7 179.6h5v5h-5zM129 173.4h5v5h-5zM132.8 177.8h5v5h-5zM136.4 180.5h5v5h-5zM140.4 174.2h5v5h-5zM143.7 177.9h5v5h-5zM146.9 181.5h5v5h-5zM151.1 185.2h5v5h-5zM154.5 181.2h5v5h-5zM158.3 185.9h5v5h-5zM161.3 188.6h5v5h-5zM165.6 184.5h5v5h-5zM169.2 189h5v5h-5zM172.1 191.4h5v5h-5zM176.1 194.8h5v5h-5zM179.4 190.8h5v5h-5zM183.3 194.1h5v5h-5zM186.6 198.3h5v5h-5zM190.8 200.8h5v5h-5zM193.8 195.3h5v5h-5zM197.8 200.6h5v5h-5zM201.4 203h5v5h-5zM204.7 197h5v5h-5zM208.3 200.9h5v5h-5zM212.4 203.9h5v5h-5zM215.3 206.1h5v5h-5zM219.1 202.8h5v5h-5zM222.7 206h5v5h-5zM226.5 209.9h5v5h-5zM230 211.3h5v5h-5zM233.4 208.5h5v5h-5zM237.3 212h5v5h-5zM241.1 214.3h5v5h-5zM244.6 210.4h5v5h-5zM248.1 214.2h5v5h-5zM251.5 216.9h5v5h-5zM254.9 219.8h5v5h-5zM258.9 217.2h5v5h-5zM262.6 218.9h5v5h-5zM266 222.9h5v5h-5zM270 218.3h5v5h-5zM273 222.4h5v5h-5zM277.1 225.1h5v5h-5zM280.7 228.1h5v5h-5zM284.4 224.8h5v5h-5zM288 226.6h5v5h-5zM291.1 230.4h5v5h-5zM295.2 232.9h5v5h-5zM298.4 229.2h5v5h-5zM302.2 232.5h5v5h-5zM306 236h5v5h-5zM309.4 230.1h5v5h-5zM312.9 232.7h5v5h-5zM316.1 236.6h5v5h-5zM320.2 240.7h5v5h-5zM323.5 234.2h5v5h-5zM327.2 236.8h5v5h-5zM330.8 240.6h5v5h-5zM334.9 238.1h5v5h-5zM338.2 238.1h5v5h-5zM341.9 242.7h5v5h-5zM345 245.9h5v5h-5zM348.7 243.3h5v5h-5zM352.8 245.8h5v5h-5zM355.8 249.6h5v5h-5zM360 253.7h5v5h-5zM363.2 248.6h5v5h-5zM366.8 253.2h5v5h-5zM370.5 256.4h5v5h-5zM374 252.4h5v5h-5zM377.7 255.7h5v5h-5zM381.2 258.9h5v5h-5zM385 264.5h5v5h-5zM388.3 259.5h5v5h-5zM391.8 263.5h5v5h-5zM315.2 180.6h5v5h-5zM358.1 261.9h5v5h-5zM286.1 152.7h5v5h-5zM388.3 252.4h5v5h-5zM183.8 200.7h5v5h-5zM200.6 195.8h5v5h-5zM134.5 187.5h5v5h-5z"/>
</g>
<g clip-path="url(#cpb)">
<path fill="#9E3A0C" d="M421.1 199.7a2.3 2.3 0 1 0 4.6 0a2.3 2.3 0 1 0 -4.6 0M422.9 199a2.3 2.3 0 1 0 4.6 0a2.3 2.3 0 1 0 -4.6 0M424 200.5a2.3 2.3 0 1 0 4.6 0a2.3 2.3 0 1 0 -4.6 0M425.3 201.5a2.3 2.3 0 1 0 4.6 0a2.3 2.3 0 1 0 -4.6 0M426.9 200.2a2.3 2.3 0 1 0 4.6 0a2.3 2.3 0 1 0 -4.6 0M428.3 202.2a2.3 2.3 0 1 0 4.6 0a2.3 2.3 0 1 0 -4.6 0M429.9 201.3a2.3 2.3 0 1 0 4.6 0a2.3 2.3 0 1 0 -4.6 0M431.1 203.4a2.3 2.3 0 1 0 4.6 0a2.3 2.3 0 1 0 -4.6 0M432.4 204.3a2.3 2.3 0 1 0 4.6 0a2.3 2.3 0 1 0 -4.6 0M433.7 203.6a2.3 2.3 0 1 0 4.6 0a2.3 2.3 0 1 0 -4.6 0M435.2 206.1a2.3 2.3 0 1 0 4.6 0a2.3 2.3 0 1 0 -4.6 0M436.5 205.9a2.3 2.3 0 1 0 4.6 0a2.3 2.3 0 1 0 -4.6 0M438.1 206.5a2.3 2.3 0 1 0 4.6 0a2.3 2.3 0 1 0 -4.6 0M439.6 208.8a2.3 2.3 0 1 0 4.6 0a2.3 2.3 0 1 0 -4.6 0M440.9 208.4a2.3 2.3 0 1 0 4.6 0a2.3 2.3 0 1 0 -4.6 0M442 208.8a2.3 2.3 0 1 0 4.6 0a2.3 2.3 0 1 0 -4.6 0M443.3 210a2.3 2.3 0 1 0 4.6 0a2.3 2.3 0 1 0 -4.6 0M445.2 212.1a2.3 2.3 0 1 0 4.6 0a2.3 2.3 0 1 0 -4.6 0M446.3 213.8a2.3 2.3 0 1 0 4.6 0a2.3 2.3 0 1 0 -4.6 0M447.9 213a2.3 2.3 0 1 0 4.6 0a2.3 2.3 0 1 0 -4.6 0M449.5 214a2.3 2.3 0 1 0 4.6 0a2.3 2.3 0 1 0 -4.6 0M450.9 215.2a2.3 2.3 0 1 0 4.6 0a2.3 2.3 0 1 0 -4.6 0M452 216.8a2.3 2.3 0 1 0 4.6 0a2.3 2.3 0 1 0 -4.6 0M453.6 215.9a2.3 2.3 0 1 0 4.6 0a2.3 2.3 0 1 0 -4.6 0M454.7 218.6a2.3 2.3 0 1 0 4.6 0a2.3 2.3 0 1 0 -4.6 0M456.5 220a2.3 2.3 0 1 0 4.6 0a2.3 2.3 0 1 0 -4.6 0M457.7 219.7a2.3 2.3 0 1 0 4.6 0a2.3 2.3 0 1 0 -4.6 0M458.7 219.3a2.3 2.3 0 1 0 4.6 0a2.3 2.3 0 1 0 -4.6 0M460.6 223a2.3 2.3 0 1 0 4.6 0a2.3 2.3 0 1 0 -4.6 0M461.6 222.9a2.3 2.3 0 1 0 4.6 0a2.3 2.3 0 1 0 -4.6 0M463.5 223.9a2.3 2.3 0 1 0 4.6 0a2.3 2.3 0 1 0 -4.6 0M464.3 226.1a2.3 2.3 0 1 0 4.6 0a2.3 2.3 0 1 0 -4.6 0M466.2 226.3a2.3 2.3 0 1 0 4.6 0a2.3 2.3 0 1 0 -4.6 0M467.2 227.8a2.3 2.3 0 1 0 4.6 0a2.3 2.3 0 1 0 -4.6 0M468.8 228.2a2.3 2.3 0 1 0 4.6 0a2.3 2.3 0 1 0 -4.6 0M470.1 230.1a2.3 2.3 0 1 0 4.6 0a2.3 2.3 0 1 0 -4.6 0M471.8 221.6a2.3 2.3 0 1 0 4.6 0a2.3 2.3 0 1 0 -4.6 0M473.2 223a2.3 2.3 0 1 0 4.6 0a2.3 2.3 0 1 0 -4.6 0M474.6 223.2a2.3 2.3 0 1 0 4.6 0a2.3 2.3 0 1 0 -4.6 0M476.2 224.8a2.3 2.3 0 1 0 4.6 0a2.3 2.3 0 1 0 -4.6 0M477.6 227.1a2.3 2.3 0 1 0 4.6 0a2.3 2.3 0 1 0 -4.6 0M479 228.9a2.3 2.3 0 1 0 4.6 0a2.3 2.3 0 1 0 -4.6 0M480.4 229.2a2.3 2.3 0 1 0 4.6 0a2.3 2.3 0 1 0 -4.6 0M481.6 230.8a2.3 2.3 0 1 0 4.6 0a2.3 2.3 0 1 0 -4.6 0M482.9 232.5a2.3 2.3 0 1 0 4.6 0a2.3 2.3 0 1 0 -4.6 0M484.6 233.6a2.3 2.3 0 1 0 4.6 0a2.3 2.3 0 1 0 -4.6 0M485.6 234.7a2.3 2.3 0 1 0 4.6 0a2.3 2.3 0 1 0 -4.6 0M487.8 237.3a2.3 2.3 0 1 0 4.6 0a2.3 2.3 0 1 0 -4.6 0M488.8 238.3a2.3 2.3 0 1 0 4.6 0a2.3 2.3 0 1 0 -4.6 0M490.8 238.8a2.3 2.3 0 1 0 4.6 0a2.3 2.3 0 1 0 -4.6 0M491.7 239.6a2.3 2.3 0 1 0 4.6 0a2.3 2.3 0 1 0 -4.6 0M493.4 240.2a2.3 2.3 0 1 0 4.6 0a2.3 2.3 0 1 0 -4.6 0M494.7 241.7a2.3 2.3 0 1 0 4.6 0a2.3 2.3 0 1 0 -4.6 0M496.2 241.7a2.3 2.3 0 1 0 4.6 0a2.3 2.3 0 1 0 -4.6 0M497.7 243.5a2.3 2.3 0 1 0 4.6 0a2.3 2.3 0 1 0 -4.6 0M498.8 243a2.3 2.3 0 1 0 4.6 0a2.3 2.3 0 1 0 -4.6 0M500.5 243.2a2.3 2.3 0 1 0 4.6 0a2.3 2.3 0 1 0 -4.6 0M501.9 245.2a2.3 2.3 0 1 0 4.6 0a2.3 2.3 0 1 0 -4.6 0M503.1 245.3a2.3 2.3 0 1 0 4.6 0a2.3 2.3 0 1 0 -4.6 0M504.5 246.3a2.3 2.3 0 1 0 4.6 0a2.3 2.3 0 1 0 -4.6 0M505.8 245.6a2.3 2.3 0 1 0 4.6 0a2.3 2.3 0 1 0 -4.6 0M507.6 247.9a2.3 2.3 0 1 0 4.6 0a2.3 2.3 0 1 0 -4.6 0M508.6 247.6a2.3 2.3 0 1 0 4.6 0a2.3 2.3 0 1 0 -4.6 0M509.9 247.3a2.3 2.3 0 1 0 4.6 0a2.3 2.3 0 1 0 -4.6 0M511.5 247.4a2.3 2.3 0 1 0 4.6 0a2.3 2.3 0 1 0 -4.6 0M513.2 247.4a2.3 2.3 0 1 0 4.6 0a2.3 2.3 0 1 0 -4.6 0M514.6 247.6a2.3 2.3 0 1 0 4.6 0a2.3 2.3 0 1 0 -4.6 0M515.7 248.4a2.3 2.3 0 1 0 4.6 0a2.3 2.3 0 1 0 -4.6 0M517 249a2.3 2.3 0 1 0 4.6 0a2.3 2.3 0 1 0 -4.6 0M518.6 249.8a2.3 2.3 0 1 0 4.6 0a2.3 2.3 0 1 0 -4.6 0M519.9 249.9a2.3 2.3 0 1 0 4.6 0a2.3 2.3 0 1 0 -4.6 0M521.5 249.4a2.3 2.3 0 1 0 4.6 0a2.3 2.3 0 1 0 -4.6 0M522.9 250a2.3 2.3 0 1 0 4.6 0a2.3 2.3 0 1 0 -4.6 0M524.2 250.1a2.3 2.3 0 1 0 4.6 0a2.3 2.3 0 1 0 -4.6 0M525.8 250.5a2.3 2.3 0 1 0 4.6 0a2.3 2.3 0 1 0 -4.6 0M527 251.4a2.3 2.3 0 1 0 4.6 0a2.3 2.3 0 1 0 -4.6 0M528.6 252.5a2.3 2.3 0 1 0 4.6 0a2.3 2.3 0 1 0 -4.6 0M529.8 251.8a2.3 2.3 0 1 0 4.6 0a2.3 2.3 0 1 0 -4.6 0M530.9 253.8a2.3 2.3 0 1 0 4.6 0a2.3 2.3 0 1 0 -4.6 0M532.6 254.4a2.3 2.3 0 1 0 4.6 0a2.3 2.3 0 1 0 -4.6 0M534.1 253.9a2.3 2.3 0 1 0 4.6 0a2.3 2.3 0 1 0 -4.6 0M535.3 253a2.3 2.3 0 1 0 4.6 0a2.3 2.3 0 1 0 -4.6 0M536.5 254.8a2.3 2.3 0 1 0 4.6 0a2.3 2.3 0 1 0 -4.6 0M538 254.8a2.3 2.3 0 1 0 4.6 0a2.3 2.3 0 1 0 -4.6 0M539.7 256.2a2.3 2.3 0 1 0 4.6 0a2.3 2.3 0 1 0 -4.6 0M540.7 256.7a2.3 2.3 0 1 0 4.6 0a2.3 2.3 0 1 0 -4.6 0M542 256.6a2.3 2.3 0 1 0 4.6 0a2.3 2.3 0 1 0 -4.6 0M543.9 257.4a2.3 2.3 0 1 0 4.6 0a2.3 2.3 0 1 0 -4.6 0M545.4 255a2.3 2.3 0 1 0 4.6 0a2.3 2.3 0 1 0 -4.6 0M546.7 257.4a2.3 2.3 0 1 0 4.6 0a2.3 2.3 0 1 0 -4.6 0M548.1 257.7a2.3 2.3 0 1 0 4.6 0a2.3 2.3 0 1 0 -4.6 0M549.4 259.1a2.3 2.3 0 1 0 4.6 0a2.3 2.3 0 1 0 -4.6 0M550.7 257.5a2.3 2.3 0 1 0 4.6 0a2.3 2.3 0 1 0 -4.6 0M552.2 259.1a2.3 2.3 0 1 0 4.6 0a2.3 2.3 0 1 0 -4.6 0M553.6 260.4a2.3 2.3 0 1 0 4.6 0a2.3 2.3 0 1 0 -4.6 0M554.8 258.8a2.3 2.3 0 1 0 4.6 0a2.3 2.3 0 1 0 -4.6 0M556.1 259.7a2.3 2.3 0 1 0 4.6 0a2.3 2.3 0 1 0 -4.6 0M557.8 259.9a2.3 2.3 0 1 0 4.6 0a2.3 2.3 0 1 0 -4.6 0M559.2 261.3a2.3 2.3 0 1 0 4.6 0a2.3 2.3 0 1 0 -4.6 0M560.8 261a2.3 2.3 0 1 0 4.6 0a2.3 2.3 0 1 0 -4.6 0M561.8 261.5a2.3 2.3 0 1 0 4.6 0a2.3 2.3 0 1 0 -4.6 0M563.2 263.2a2.3 2.3 0 1 0 4.6 0a2.3 2.3 0 1 0 -4.6 0M564.5 262.2a2.3 2.3 0 1 0 4.6 0a2.3 2.3 0 1 0 -4.6 0M565.8 261.2a2.3 2.3 0 1 0 4.6 0a2.3 2.3 0 1 0 -4.6 0M567.3 262.6a2.3 2.3 0 1 0 4.6 0a2.3 2.3 0 1 0 -4.6 0M569 263.1a2.3 2.3 0 1 0 4.6 0a2.3 2.3 0 1 0 -4.6 0M570.6 263.5a2.3 2.3 0 1 0 4.6 0a2.3 2.3 0 1 0 -4.6 0M571.5 264.7a2.3 2.3 0 1 0 4.6 0a2.3 2.3 0 1 0 -4.6 0M572.9 265a2.3 2.3 0 1 0 4.6 0a2.3 2.3 0 1 0 -4.6 0M574.6 266a2.3 2.3 0 1 0 4.6 0a2.3 2.3 0 1 0 -4.6 0M575.8 265.8a2.3 2.3 0 1 0 4.6 0a2.3 2.3 0 1 0 -4.6 0M577 265a2.3 2.3 0 1 0 4.6 0a2.3 2.3 0 1 0 -4.6 0M578.9 267.3a2.3 2.3 0 1 0 4.6 0a2.3 2.3 0 1 0 -4.6 0M579.9 265.9a2.3 2.3 0 1 0 4.6 0a2.3 2.3 0 1 0 -4.6 0M581.5 267.1a2.3 2.3 0 1 0 4.6 0a2.3 2.3 0 1 0 -4.6 0M583.1 268.8a2.3 2.3 0 1 0 4.6 0a2.3 2.3 0 1 0 -4.6 0M584.5 267.3a2.3 2.3 0 1 0 4.6 0a2.3 2.3 0 1 0 -4.6 0M586 267.5a2.3 2.3 0 1 0 4.6 0a2.3 2.3 0 1 0 -4.6 0M587.2 268.8a2.3 2.3 0 1 0 4.6 0a2.3 2.3 0 1 0 -4.6 0M588.3 269.5a2.3 2.3 0 1 0 4.6 0a2.3 2.3 0 1 0 -4.6 0M589.6 269.4a2.3 2.3 0 1 0 4.6 0a2.3 2.3 0 1 0 -4.6 0M591.4 269.4a2.3 2.3 0 1 0 4.6 0a2.3 2.3 0 1 0 -4.6 0M592.7 270.9a2.3 2.3 0 1 0 4.6 0a2.3 2.3 0 1 0 -4.6 0M593.9 271a2.3 2.3 0 1 0 4.6 0a2.3 2.3 0 1 0 -4.6 0M489.4 217.9a2.3 2.3 0 1 0 4.6 0a2.3 2.3 0 1 0 -4.6 0M571 242.8a2.3 2.3 0 1 0 4.6 0a2.3 2.3 0 1 0 -4.6 0"/>
<path fill="none" stroke="#A3BEDD" stroke-width="1.7" d="M421 195.5h5.2m-2.6 -2.6v5.2M422.1 195.7h5.2m-2.6 -2.6v5.2M424 193.6h5.2m-2.6 -2.6v5.2M424.9 193.5h5.2m-2.6 -2.6v5.2M426.7 192.9h5.2m-2.6 -2.6v5.2M428.1 193.3h5.2m-2.6 -2.6v5.2M429.1 195.2h5.2m-2.6 -2.6v5.2M430.9 193.2h5.2m-2.6 -2.6v5.2M432.2 192.2h5.2m-2.6 -2.6v5.2M433.6 192h5.2m-2.6 -2.6v5.2M434.8 192.7h5.2m-2.6 -2.6v5.2M436.2 193h5.2m-2.6 -2.6v5.2M437.5 192.9h5.2m-2.6 -2.6v5.2M439.1 192h5.2m-2.6 -2.6v5.2M440.6 192.4h5.2m-2.6 -2.6v5.2M442 191.9h5.2m-2.6 -2.6v5.2M443.4 194h5.2m-2.6 -2.6v5.2M444.6 192.6h5.2m-2.6 -2.6v5.2M446 192.2h5.2m-2.6 -2.6v5.2M447.7 192.6h5.2m-2.6 -2.6v5.2M449.2 192.7h5.2m-2.6 -2.6v5.2M450.1 192.8h5.2m-2.6 -2.6v5.2M451.6 194.8h5.2m-2.6 -2.6v5.2M453 194.7h5.2m-2.6 -2.6v5.2M454.8 194.5h5.2m-2.6 -2.6v5.2M455.6 194.5h5.2m-2.6 -2.6v5.2M457.5 194.4h5.2m-2.6 -2.6v5.2M458.9 196.8h5.2m-2.6 -2.6v5.2M460 195.3h5.2m-2.6 -2.6v5.2M461.6 194.6h5.2m-2.6 -2.6v5.2M462.8 196h5.2m-2.6 -2.6v5.2M464.4 197h5.2m-2.6 -2.6v5.2M465.7 195.2h5.2m-2.6 -2.6v5.2M467.3 197.4h5.2m-2.6 -2.6v5.2M468.5 195.6h5.2m-2.6 -2.6v5.2M470.1 196.3h5.2m-2.6 -2.6v5.2M471.3 198h5.2m-2.6 -2.6v5.2M472.6 198.5h5.2m-2.6 -2.6v5.2M474.4 197.3h5.2m-2.6 -2.6v5.2M475.3 199h5.2m-2.6 -2.6v5.2M477.1 199.3h5.2m-2.6 -2.6v5.2M478.6 199.4h5.2m-2.6 -2.6v5.2M479.9 200.7h5.2m-2.6 -2.6v5.2M481.2 200.9h5.2m-2.6 -2.6v5.2M482.6 199.8h5.2m-2.6 -2.6v5.2M484.2 201.7h5.2m-2.6 -2.6v5.2M485.3 203.6h5.2m-2.6 -2.6v5.2M486.9 203h5.2m-2.6 -2.6v5.2M488.3 203.3h5.2m-2.6 -2.6v5.2M489.7 204h5.2m-2.6 -2.6v5.2M490.9 204.6h5.2m-2.6 -2.6v5.2M492.4 203h5.2m-2.6 -2.6v5.2M493.5 203.3h5.2m-2.6 -2.6v5.2M494.8 205.5h5.2m-2.6 -2.6v5.2M496.3 204.7h5.2m-2.6 -2.6v5.2M498 205.9h5.2m-2.6 -2.6v5.2M499.2 207.8h5.2m-2.6 -2.6v5.2M500.9 204.8h5.2m-2.6 -2.6v5.2M501.8 205.2h5.2m-2.6 -2.6v5.2M503.3 206.1h5.2m-2.6 -2.6v5.2M505.1 206.6h5.2m-2.6 -2.6v5.2M506.3 209.1h5.2m-2.6 -2.6v5.2M507.5 207.3h5.2m-2.6 -2.6v5.2M509.3 206.9h5.2m-2.6 -2.6v5.2M510.3 208h5.2m-2.6 -2.6v5.2M512.2 207.5h5.2m-2.6 -2.6v5.2M513.2 208.3h5.2m-2.6 -2.6v5.2M514.9 207.6h5.2m-2.6 -2.6v5.2M516.1 208.9h5.2m-2.6 -2.6v5.2M517.8 209h5.2m-2.6 -2.6v5.2M518.8 210.5h5.2m-2.6 -2.6v5.2M520.6 211.1h5.2m-2.6 -2.6v5.2M521.6 210h5.2m-2.6 -2.6v5.2M523.1 210.7h5.2m-2.6 -2.6v5.2M524.6 209.6h5.2m-2.6 -2.6v5.2M525.9 211.3h5.2m-2.6 -2.6v5.2M527.4 211.3h5.2m-2.6 -2.6v5.2M528.8 211.7h5.2m-2.6 -2.6v5.2M530 211.3h5.2m-2.6 -2.6v5.2M531.2 212.1h5.2m-2.6 -2.6v5.2M533 211.5h5.2m-2.6 -2.6v5.2M534.4 213.1h5.2m-2.6 -2.6v5.2M535.7 213.7h5.2m-2.6 -2.6v5.2M537.1 212.8h5.2m-2.6 -2.6v5.2M538.8 214h5.2m-2.6 -2.6v5.2M539.8 214.2h5.2m-2.6 -2.6v5.2M541.5 213.7h5.2m-2.6 -2.6v5.2M542.5 214.8h5.2m-2.6 -2.6v5.2M544.2 214.8h5.2m-2.6 -2.6v5.2M545.8 213.5h5.2m-2.6 -2.6v5.2M546.7 213.8h5.2m-2.6 -2.6v5.2M548.5 214.7h5.2m-2.6 -2.6v5.2M549.6 215.2h5.2m-2.6 -2.6v5.2M550.8 215.7h5.2m-2.6 -2.6v5.2M552.5 215.7h5.2m-2.6 -2.6v5.2M554 216.7h5.2m-2.6 -2.6v5.2M555.2 216.7h5.2m-2.6 -2.6v5.2M557 215.5h5.2m-2.6 -2.6v5.2M557.8 216.2h5.2m-2.6 -2.6v5.2M559.4 217.7h5.2m-2.6 -2.6v5.2M560.8 217.6h5.2m-2.6 -2.6v5.2M562.2 216.2h5.2m-2.6 -2.6v5.2M563.6 217.8h5.2m-2.6 -2.6v5.2M564.8 218.7h5.2m-2.6 -2.6v5.2M566.3 218.1h5.2m-2.6 -2.6v5.2M567.8 219.4h5.2m-2.6 -2.6v5.2M569.4 217.7h5.2m-2.6 -2.6v5.2M570.6 219.6h5.2m-2.6 -2.6v5.2M572.2 219.1h5.2m-2.6 -2.6v5.2M573.5 220.4h5.2m-2.6 -2.6v5.2M574.8 220.4h5.2m-2.6 -2.6v5.2M576.1 219.1h5.2m-2.6 -2.6v5.2M577.5 220.5h5.2m-2.6 -2.6v5.2M579.3 221.4h5.2m-2.6 -2.6v5.2M580.5 220.2h5.2m-2.6 -2.6v5.2M581.8 221.4h5.2m-2.6 -2.6v5.2M583.1 219.8h5.2m-2.6 -2.6v5.2M584.9 220.8h5.2m-2.6 -2.6v5.2M586.2 221.3h5.2m-2.6 -2.6v5.2M587.6 221.5h5.2m-2.6 -2.6v5.2M589.1 223.5h5.2m-2.6 -2.6v5.2M590.1 221.9h5.2m-2.6 -2.6v5.2M591.8 221.3h5.2m-2.6 -2.6v5.2M592.8 223h5.2m-2.6 -2.6v5.2M594.6 223.7h5.2m-2.6 -2.6v5.2M595.8 224.6h5.2m-2.6 -2.6v5.2M597.4 225.2h5.2m-2.6 -2.6v5.2M598.5 224h5.2m-2.6 -2.6v5.2M600 222.3h5.2m-2.6 -2.6v5.2M601.6 225.1h5.2m-2.6 -2.6v5.2M603.2 224.4h5.2m-2.6 -2.6v5.2M604.2 226.3h5.2m-2.6 -2.6v5.2M605.5 226h5.2m-2.6 -2.6v5.2M606.9 225.3h5.2m-2.6 -2.6v5.2M608.6 227.2h5.2m-2.6 -2.6v5.2M610.1 226.8h5.2m-2.6 -2.6v5.2M611 227.1h5.2m-2.6 -2.6v5.2M612.6 226.5h5.2m-2.6 -2.6v5.2M613.9 228.7h5.2m-2.6 -2.6v5.2M615.8 228.1h5.2m-2.6 -2.6v5.2M616.7 229.3h5.2m-2.6 -2.6v5.2M618 227.8h5.2m-2.6 -2.6v5.2M619.9 229.5h5.2m-2.6 -2.6v5.2M621.4 229.2h5.2m-2.6 -2.6v5.2M622.7 229.9h5.2m-2.6 -2.6v5.2M623.7 230.4h5.2m-2.6 -2.6v5.2M625.2 231.2h5.2m-2.6 -2.6v5.2M626.7 231.1h5.2m-2.6 -2.6v5.2M628.3 230.4h5.2m-2.6 -2.6v5.2M629.7 233.8h5.2m-2.6 -2.6v5.2M630.6 230.9h5.2m-2.6 -2.6v5.2M632.3 231h5.2m-2.6 -2.6v5.2M633.9 232h5.2m-2.6 -2.6v5.2M635.1 232.3h5.2m-2.6 -2.6v5.2M636.6 233.7h5.2m-2.6 -2.6v5.2M638.2 233.6h5.2m-2.6 -2.6v5.2M639.6 233.5h5.2m-2.6 -2.6v5.2M640.9 234.8h5.2m-2.6 -2.6v5.2M642.1 235.4h5.2m-2.6 -2.6v5.2M643.4 236.6h5.2m-2.6 -2.6v5.2M644.7 234.2h5.2m-2.6 -2.6v5.2M646.1 236.3h5.2m-2.6 -2.6v5.2M647.8 235.3h5.2m-2.6 -2.6v5.2M649.3 237.2h5.2m-2.6 -2.6v5.2M489.1 164.5h5.2m-2.6 -2.6v5.2M570.7 184.9h5.2m-2.6 -2.6v5.2"/>
<path fill="#EA7016" d="M423.3 182.7l2.9 4.9h-5.8zM424.7 183.8l2.9 4.9h-5.8zM426.1 181.7l2.9 4.9h-5.8zM427.6 181.4l2.9 4.9h-5.8zM429.3 182.3l2.9 4.9h-5.8zM430.3 181l2.9 4.9h-5.8zM431.9 180.9l2.9 4.9h-5.8zM433 180.1l2.9 4.9h-5.8zM434.8 182.3l2.9 4.9h-5.8zM435.9 180.1l2.9 4.9h-5.8zM437.7 180.5l2.9 4.9h-5.8zM439 180.3l2.9 4.9h-5.8zM440.1 181.3l2.9 4.9h-5.8zM441.8 182.5l2.9 4.9h-5.8zM443 183.3l2.9 4.9h-5.8zM444.5 184.3l2.9 4.9h-5.8zM445.9 183.5l2.9 4.9h-5.8zM447.2 184.1l2.9 4.9h-5.8zM448.7 185.1l2.9 4.9h-5.8zM450.3 185.8l2.9 4.9h-5.8zM451.7 187.1l2.9 4.9h-5.8zM453.1 186.7l2.9 4.9h-5.8zM454.3 187.2l2.9 4.9h-5.8zM455.9 188.1l2.9 4.9h-5.8zM456.9 188.8l2.9 4.9h-5.8zM458.8 189.6l2.9 4.9h-5.8zM459.6 190.4l2.9 4.9h-5.8zM461.5 190.8l2.9 4.9h-5.8zM462.9 188.8l2.9 4.9h-5.8zM464 192.8l2.9 4.9h-5.8zM465.7 192.4l2.9 4.9h-5.8zM467.2 193.4l2.9 4.9h-5.8zM468.1 194.9l2.9 4.9h-5.8zM469.8 196.7l2.9 4.9h-5.8zM470.8 196.5l2.9 4.9h-5.8zM472.6 197.7l2.9 4.9h-5.8zM473.6 198.3l2.9 4.9h-5.8zM475.4 198.3l2.9 4.9h-5.8zM476.4 199.4l2.9 4.9h-5.8zM478 201.4l2.9 4.9h-5.8zM479.7 202.1l2.9 4.9h-5.8zM480.8 201.2l2.9 4.9h-5.8zM482.6 203.3l2.9 4.9h-5.8zM483.7 202l2.9 4.9h-5.8zM484.9 204.2l2.9 4.9h-5.8zM486.8 203.3l2.9 4.9h-5.8zM487.7 204.8l2.9 4.9h-5.8zM489.4 205.5l2.9 4.9h-5.8zM491 206.1l2.9 4.9h-5.8zM492.4 206.8l2.9 4.9h-5.8zM493.5 206.7l2.9 4.9h-5.8zM494.7 206.4l2.9 4.9h-5.8zM496.3 207l2.9 4.9h-5.8zM497.6 208.9l2.9 4.9h-5.8zM499 207.9l2.9 4.9h-5.8zM500.4 208.2l2.9 4.9h-5.8zM501.7 208.9l2.9 4.9h-5.8zM503 211l2.9 4.9h-5.8zM504.9 210.3l2.9 4.9h-5.8zM505.8 210.1l2.9 4.9h-5.8zM507.5 211.6l2.9 4.9h-5.8zM508.8 211.4l2.9 4.9h-5.8zM510.4 212.2l2.9 4.9h-5.8zM511.7 213.5l2.9 4.9h-5.8zM513.1 213.2l2.9 4.9h-5.8zM514.7 213.2l2.9 4.9h-5.8zM515.9 214.6l2.9 4.9h-5.8zM517.5 213.8l2.9 4.9h-5.8zM518.8 213.3l2.9 4.9h-5.8zM520.3 215.3l2.9 4.9h-5.8zM521.7 215.9l2.9 4.9h-5.8zM523 215.6l2.9 4.9h-5.8zM524.2 215.3l2.9 4.9h-5.8zM525.7 215.7l2.9 4.9h-5.8zM526.8 215.2l2.9 4.9h-5.8zM528.6 216.1l2.9 4.9h-5.8zM530 219.1l2.9 4.9h-5.8zM531.5 217.3l2.9 4.9h-5.8zM532.5 218.5l2.9 4.9h-5.8zM533.9 218.4l2.9 4.9h-5.8zM535.6 218.5l2.9 4.9h-5.8zM537 219.4l2.9 4.9h-5.8zM538 219.1l2.9 4.9h-5.8zM539.4 221.4l2.9 4.9h-5.8zM541 219.8l2.9 4.9h-5.8zM542.4 219.8l2.9 4.9h-5.8zM543.6 221.1l2.9 4.9h-5.8zM545.1 219.9l2.9 4.9h-5.8zM546.5 222.2l2.9 4.9h-5.8zM547.8 222.6l2.9 4.9h-5.8zM549.3 221.2l2.9 4.9h-5.8zM550.6 222.2l2.9 4.9h-5.8zM552.2 222.5l2.9 4.9h-5.8zM553.8 222.8l2.9 4.9h-5.8zM555.2 223.3l2.9 4.9h-5.8zM556.6 223.1l2.9 4.9h-5.8zM557.9 224.7l2.9 4.9h-5.8zM559.1 225.2l2.9 4.9h-5.8zM560.4 224.8l2.9 4.9h-5.8zM561.9 225.9l2.9 4.9h-5.8zM563.8 225l2.9 4.9h-5.8zM565.1 226.6l2.9 4.9h-5.8zM566.3 226.4l2.9 4.9h-5.8zM567.8 226.8l2.9 4.9h-5.8zM569.2 227.8l2.9 4.9h-5.8zM570.7 227.6l2.9 4.9h-5.8zM571.7 227.8l2.9 4.9h-5.8zM573.5 227.6l2.9 4.9h-5.8zM574.8 227l2.9 4.9h-5.8zM576 227.5l2.9 4.9h-5.8zM577.4 229.3l2.9 4.9h-5.8zM578.7 228.7l2.9 4.9h-5.8zM580.3 229.6l2.9 4.9h-5.8zM582 228.8l2.9 4.9h-5.8zM583.3 230.4l2.9 4.9h-5.8zM584.3 231.1l2.9 4.9h-5.8zM585.7 230.7l2.9 4.9h-5.8zM587.2 229.7l2.9 4.9h-5.8zM588.5 231.6l2.9 4.9h-5.8zM589.9 231.3l2.9 4.9h-5.8zM591.6 232.5l2.9 4.9h-5.8zM592.8 231.2l2.9 4.9h-5.8zM594.3 231.8l2.9 4.9h-5.8zM595.6 233.5l2.9 4.9h-5.8zM597.4 233.6l2.9 4.9h-5.8zM598.6 234.1l2.9 4.9h-5.8zM599.7 233.9l2.9 4.9h-5.8zM601.5 234.2l2.9 4.9h-5.8zM602.6 233.3l2.9 4.9h-5.8zM604.1 234.8l2.9 4.9h-5.8zM605.4 233.9l2.9 4.9h-5.8zM606.9 234.3l2.9 4.9h-5.8zM608.2 234.6l2.9 4.9h-5.8zM609.6 234.9l2.9 4.9h-5.8zM610.9 235l2.9 4.9h-5.8zM612.8 236.1l2.9 4.9h-5.8zM613.7 236.9l2.9 4.9h-5.8zM615.2 237.8l2.9 4.9h-5.8zM616.6 237.1l2.9 4.9h-5.8zM617.9 236.9l2.9 4.9h-5.8zM619.3 238.9l2.9 4.9h-5.8zM620.8 239.2l2.9 4.9h-5.8zM622.4 239.7l2.9 4.9h-5.8zM623.7 238.4l2.9 4.9h-5.8zM625 239.5l2.9 4.9h-5.8zM626.6 239.9l2.9 4.9h-5.8zM628 240l2.9 4.9h-5.8zM629.2 240.5l2.9 4.9h-5.8zM630.5 241l2.9 4.9h-5.8zM632.2 240.9l2.9 4.9h-5.8zM633.4 239.2l2.9 4.9h-5.8zM635.1 241.2l2.9 4.9h-5.8zM636 242.3l2.9 4.9h-5.8zM637.7 242.5l2.9 4.9h-5.8zM639 243.1l2.9 4.9h-5.8zM640.3 242.2l2.9 4.9h-5.8zM642.1 243l2.9 4.9h-5.8zM643.1 243l2.9 4.9h-5.8zM644.9 242.9l2.9 4.9h-5.8zM646.3 244.9l2.9 4.9h-5.8zM647.8 244l2.9 4.9h-5.8zM648.7 245.3l2.9 4.9h-5.8zM650.1 245.9l2.9 4.9h-5.8zM651.5 244.9l2.9 4.9h-5.8zM653 244.6l2.9 4.9h-5.8zM654.7 246.1l2.9 4.9h-5.8zM656 245.6l2.9 4.9h-5.8zM657.1 247.5l2.9 4.9h-5.8zM491.7 176.5l2.9 4.9h-5.8zM573.3 200l2.9 4.9h-5.8zM472.7 204l2.9 4.9h-5.8zM487.5 208.9l2.9 4.9h-5.8zM654.6 216.1l2.9 4.9h-5.8z"/>
<path fill="#FDBB47" d="M423.2 180.2l2.7 2.7 -2.7 2.7 -2.7 -2.7zM424.9 181.5l2.7 2.7 -2.7 2.7 -2.7 -2.7zM426.2 181.7l2.7 2.7 -2.7 2.7 -2.7 -2.7zM427.6 181.4l2.7 2.7 -2.7 2.7 -2.7 -2.7zM429.3 181.2l2.7 2.7 -2.7 2.7 -2.7 -2.7zM430.2 182.7l2.7 2.7 -2.7 2.7 -2.7 -2.7zM432.1 183.1l2.7 2.7 -2.7 2.7 -2.7 -2.7zM433 182.4l2.7 2.7 -2.7 2.7 -2.7 -2.7zM434.8 183.8l2.7 2.7 -2.7 2.7 -2.7 -2.7zM436 185.8l2.7 2.7 -2.7 2.7 -2.7 -2.7zM437.5 185.8l2.7 2.7 -2.7 2.7 -2.7 -2.7zM439.2 185.8l2.7 2.7 -2.7 2.7 -2.7 -2.7zM440.5 187.7l2.7 2.7 -2.7 2.7 -2.7 -2.7zM441.5 188.1l2.7 2.7 -2.7 2.7 -2.7 -2.7zM443 190l2.7 2.7 -2.7 2.7 -2.7 -2.7zM444.5 189.9l2.7 2.7 -2.7 2.7 -2.7 -2.7zM446 189.7l2.7 2.7 -2.7 2.7 -2.7 -2.7zM447 190.8l2.7 2.7 -2.7 2.7 -2.7 -2.7zM448.9 191.6l2.7 2.7 -2.7 2.7 -2.7 -2.7zM450.3 194l2.7 2.7 -2.7 2.7 -2.7 -2.7zM451.8 193.4l2.7 2.7 -2.7 2.7 -2.7 -2.7zM452.7 194.1l2.7 2.7 -2.7 2.7 -2.7 -2.7zM454.1 196.2l2.7 2.7 -2.7 2.7 -2.7 -2.7zM455.9 195.2l2.7 2.7 -2.7 2.7 -2.7 -2.7zM457.1 196.8l2.7 2.7 -2.7 2.7 -2.7 -2.7zM458.3 198.2l2.7 2.7 -2.7 2.7 -2.7 -2.7zM459.6 198.9l2.7 2.7 -2.7 2.7 -2.7 -2.7zM461.1 197.9l2.7 2.7 -2.7 2.7 -2.7 -2.7zM462.8 199.7l2.7 2.7 -2.7 2.7 -2.7 -2.7zM464.2 200.9l2.7 2.7 -2.7 2.7 -2.7 -2.7zM465.4 203.5l2.7 2.7 -2.7 2.7 -2.7 -2.7zM467.2 204.7l2.7 2.7 -2.7 2.7 -2.7 -2.7zM468.3 205.5l2.7 2.7 -2.7 2.7 -2.7 -2.7zM469.7 207.4l2.7 2.7 -2.7 2.7 -2.7 -2.7zM471 208.3l2.7 2.7 -2.7 2.7 -2.7 -2.7zM472.4 210.3l2.7 2.7 -2.7 2.7 -2.7 -2.7zM473.8 210.9l2.7 2.7 -2.7 2.7 -2.7 -2.7zM475.5 211l2.7 2.7 -2.7 2.7 -2.7 -2.7zM476.7 212.7l2.7 2.7 -2.7 2.7 -2.7 -2.7zM477.9 212.4l2.7 2.7 -2.7 2.7 -2.7 -2.7zM479.5 212.9l2.7 2.7 -2.7 2.7 -2.7 -2.7zM481.2 213.7l2.7 2.7 -2.7 2.7 -2.7 -2.7zM482.4 215.2l2.7 2.7 -2.7 2.7 -2.7 -2.7zM483.5 214.7l2.7 2.7 -2.7 2.7 -2.7 -2.7zM485.1 216.1l2.7 2.7 -2.7 2.7 -2.7 -2.7zM486.5 216.5l2.7 2.7 -2.7 2.7 -2.7 -2.7zM487.6 216.6l2.7 2.7 -2.7 2.7 -2.7 -2.7zM489.6 217.4l2.7 2.7 -2.7 2.7 -2.7 -2.7zM490.9 219.7l2.7 2.7 -2.7 2.7 -2.7 -2.7zM491.9 218.4l2.7 2.7 -2.7 2.7 -2.7 -2.7zM493.5 219.4l2.7 2.7 -2.7 2.7 -2.7 -2.7zM494.8 221.2l2.7 2.7 -2.7 2.7 -2.7 -2.7zM496.1 220l2.7 2.7 -2.7 2.7 -2.7 -2.7zM497.6 220.8l2.7 2.7 -2.7 2.7 -2.7 -2.7zM498.8 221.5l2.7 2.7 -2.7 2.7 -2.7 -2.7zM500.6 223.3l2.7 2.7 -2.7 2.7 -2.7 -2.7zM501.8 222.2l2.7 2.7 -2.7 2.7 -2.7 -2.7zM503.4 224.6l2.7 2.7 -2.7 2.7 -2.7 -2.7zM504.9 223.3l2.7 2.7 -2.7 2.7 -2.7 -2.7zM506.1 224.8l2.7 2.7 -2.7 2.7 -2.7 -2.7zM507.4 226.9l2.7 2.7 -2.7 2.7 -2.7 -2.7zM508.7 225.8l2.7 2.7 -2.7 2.7 -2.7 -2.7zM510.4 226.2l2.7 2.7 -2.7 2.7 -2.7 -2.7zM511.8 226.4l2.7 2.7 -2.7 2.7 -2.7 -2.7zM513.3 226.3l2.7 2.7 -2.7 2.7 -2.7 -2.7zM514.3 228.3l2.7 2.7 -2.7 2.7 -2.7 -2.7zM515.6 227.6l2.7 2.7 -2.7 2.7 -2.7 -2.7zM517.5 228.2l2.7 2.7 -2.7 2.7 -2.7 -2.7zM518.8 228.5l2.7 2.7 -2.7 2.7 -2.7 -2.7zM519.9 229.6l2.7 2.7 -2.7 2.7 -2.7 -2.7zM521.6 228.4l2.7 2.7 -2.7 2.7 -2.7 -2.7zM522.6 228.6l2.7 2.7 -2.7 2.7 -2.7 -2.7zM524.4 230.6l2.7 2.7 -2.7 2.7 -2.7 -2.7zM525.7 230l2.7 2.7 -2.7 2.7 -2.7 -2.7zM527.2 230.7l2.7 2.7 -2.7 2.7 -2.7 -2.7zM528.3 231l2.7 2.7 -2.7 2.7 -2.7 -2.7zM530.1 231.7l2.7 2.7 -2.7 2.7 -2.7 -2.7zM531.6 231l2.7 2.7 -2.7 2.7 -2.7 -2.7zM533 232.2l2.7 2.7 -2.7 2.7 -2.7 -2.7zM534.3 231l2.7 2.7 -2.7 2.7 -2.7 -2.7zM535.4 233.2l2.7 2.7 -2.7 2.7 -2.7 -2.7zM537.2 231.8l2.7 2.7 -2.7 2.7 -2.7 -2.7zM538.4 234l2.7 2.7 -2.7 2.7 -2.7 -2.7zM539.8 232.4l2.7 2.7 -2.7 2.7 -2.7 -2.7zM541.2 234.5l2.7 2.7 -2.7 2.7 -2.7 -2.7zM542.3 234.5l2.7 2.7 -2.7 2.7 -2.7 -2.7zM544.1 233.5l2.7 2.7 -2.7 2.7 -2.7 -2.7zM545.4 235.5l2.7 2.7 -2.7 2.7 -2.7 -2.7zM546.5 235.4l2.7 2.7 -2.7 2.7 -2.7 -2.7zM548 233.1l2.7 2.7 -2.7 2.7 -2.7 -2.7zM549.3 236.8l2.7 2.7 -2.7 2.7 -2.7 -2.7zM550.9 236.5l2.7 2.7 -2.7 2.7 -2.7 -2.7zM552.6 236.6l2.7 2.7 -2.7 2.7 -2.7 -2.7zM553.6 238l2.7 2.7 -2.7 2.7 -2.7 -2.7zM555 236.7l2.7 2.7 -2.7 2.7 -2.7 -2.7zM556.7 237l2.7 2.7 -2.7 2.7 -2.7 -2.7zM557.6 238.9l2.7 2.7 -2.7 2.7 -2.7 -2.7zM559.1 237.7l2.7 2.7 -2.7 2.7 -2.7 -2.7zM560.8 239.5l2.7 2.7 -2.7 2.7 -2.7 -2.7zM561.9 238.5l2.7 2.7 -2.7 2.7 -2.7 -2.7zM563.6 240.2l2.7 2.7 -2.7 2.7 -2.7 -2.7zM565.1 239.6l2.7 2.7 -2.7 2.7 -2.7 -2.7zM566.3 240.5l2.7 2.7 -2.7 2.7 -2.7 -2.7zM567.4 240.8l2.7 2.7 -2.7 2.7 -2.7 -2.7zM568.9 240.8l2.7 2.7 -2.7 2.7 -2.7 -2.7zM570.5 241.5l2.7 2.7 -2.7 2.7 -2.7 -2.7zM572.2 242.2l2.7 2.7 -2.7 2.7 -2.7 -2.7zM573.4 241.5l2.7 2.7 -2.7 2.7 -2.7 -2.7zM574.8 243.6l2.7 2.7 -2.7 2.7 -2.7 -2.7zM576.2 243.8l2.7 2.7 -2.7 2.7 -2.7 -2.7zM577.4 242.9l2.7 2.7 -2.7 2.7 -2.7 -2.7zM579 243.4l2.7 2.7 -2.7 2.7 -2.7 -2.7zM580 244.1l2.7 2.7 -2.7 2.7 -2.7 -2.7zM581.6 245.4l2.7 2.7 -2.7 2.7 -2.7 -2.7zM583.3 245.3l2.7 2.7 -2.7 2.7 -2.7 -2.7zM584.3 245.4l2.7 2.7 -2.7 2.7 -2.7 -2.7zM586 246.6l2.7 2.7 -2.7 2.7 -2.7 -2.7zM587.4 245.8l2.7 2.7 -2.7 2.7 -2.7 -2.7zM588.5 248.1l2.7 2.7 -2.7 2.7 -2.7 -2.7zM590.3 247.9l2.7 2.7 -2.7 2.7 -2.7 -2.7zM591.3 246.9l2.7 2.7 -2.7 2.7 -2.7 -2.7zM593.2 248.3l2.7 2.7 -2.7 2.7 -2.7 -2.7zM594.2 248.8l2.7 2.7 -2.7 2.7 -2.7 -2.7zM491.7 192.7l2.7 2.7 -2.7 2.7 -2.7 -2.7zM573.3 216.2l2.7 2.7 -2.7 2.7 -2.7 -2.7z"/>
<path fill="#1B5424" d="M421.7 155.5h4.5v4.5h-4.5zM423.1 144.6h4.5v4.5h-4.5zM424.9 146h4.5v4.5h-4.5zM426.3 147.5h4.5v4.5h-4.5zM427.2 146.5h4.5v4.5h-4.5zM428.6 145.4h4.5v4.5h-4.5zM430.3 148.9h4.5v4.5h-4.5zM431.3 146.8h4.5v4.5h-4.5zM432.9 147.8h4.5v4.5h-4.5zM434.5 150h4.5v4.5h-4.5zM435.4 149.7h4.5v4.5h-4.5zM437.4 143.5h4.5v4.5h-4.5zM438.7 143.4h4.5v4.5h-4.5zM439.9 145.9h4.5v4.5h-4.5zM441.1 147.7h4.5v4.5h-4.5zM442.8 146.9h4.5v4.5h-4.5zM444 151.1h4.5v4.5h-4.5zM445.8 149.6h4.5v4.5h-4.5zM447 153h4.5v4.5h-4.5zM448.2 152.8h4.5v4.5h-4.5zM450 146.4h4.5v4.5h-4.5zM451.2 147.4h4.5v4.5h-4.5zM452.3 151.7h4.5v4.5h-4.5zM453.9 149.8h4.5v4.5h-4.5zM455.3 153.8h4.5v4.5h-4.5zM457.1 152.6h4.5v4.5h-4.5zM458 153.3h4.5v4.5h-4.5zM459.5 153.8h4.5v4.5h-4.5zM461.3 159.7h4.5v4.5h-4.5zM462.3 157h4.5v4.5h-4.5zM464 153.2h4.5v4.5h-4.5zM464.8 152.1h4.5v4.5h-4.5zM466.5 155.9h4.5v4.5h-4.5zM467.7 155.9h4.5v4.5h-4.5zM469.7 156.3h4.5v4.5h-4.5zM470.8 158.3h4.5v4.5h-4.5zM471.9 158.2h4.5v4.5h-4.5zM473.2 160.3h4.5v4.5h-4.5zM474.9 160.1h4.5v4.5h-4.5zM476 163.9h4.5v4.5h-4.5zM477.7 165.1h4.5v4.5h-4.5zM479.3 157.4h4.5v4.5h-4.5zM480.4 157.7h4.5v4.5h-4.5zM481.7 162.3h4.5v4.5h-4.5zM483.2 160.9h4.5v4.5h-4.5zM484.5 162.9h4.5v4.5h-4.5zM486.4 163.5h4.5v4.5h-4.5zM487.2 165.9h4.5v4.5h-4.5zM489.1 167.6h4.5v4.5h-4.5zM490.2 169.3h4.5v4.5h-4.5zM491.9 162.1h4.5v4.5h-4.5zM493.4 163.3h4.5v4.5h-4.5zM494.3 166.3h4.5v4.5h-4.5zM496.2 166.1h4.5v4.5h-4.5zM497.7 167.7h4.5v4.5h-4.5zM498.8 169.4h4.5v4.5h-4.5zM500.3 170h4.5v4.5h-4.5zM501.4 172.7h4.5v4.5h-4.5zM502.7 171.6h4.5v4.5h-4.5zM504.5 174h4.5v4.5h-4.5zM506 167.6h4.5v4.5h-4.5zM506.9 168h4.5v4.5h-4.5zM508.2 171.3h4.5v4.5h-4.5zM509.8 170.7h4.5v4.5h-4.5zM511.5 172.1h4.5v4.5h-4.5zM512.6 173.2h4.5v4.5h-4.5zM514.5 175.8h4.5v4.5h-4.5zM515.8 174.5h4.5v4.5h-4.5zM517.3 177.8h4.5v4.5h-4.5zM518.4 179.1h4.5v4.5h-4.5zM520 169.7h4.5v4.5h-4.5zM521.5 170.5h4.5v4.5h-4.5zM522.2 173.5h4.5v4.5h-4.5zM524 173.5h4.5v4.5h-4.5zM525.1 174.4h4.5v4.5h-4.5zM527 175.5h4.5v4.5h-4.5zM527.9 178.6h4.5v4.5h-4.5zM529.7 181.4h4.5v4.5h-4.5zM530.8 182.4h4.5v4.5h-4.5zM532.5 182.9h4.5v4.5h-4.5zM533.9 175.8h4.5v4.5h-4.5zM535.5 179.2h4.5v4.5h-4.5zM536.8 179.3h4.5v4.5h-4.5zM537.9 181.4h4.5v4.5h-4.5zM539.5 181.7h4.5v4.5h-4.5zM540.5 182.7h4.5v4.5h-4.5zM541.8 184h4.5v4.5h-4.5zM543.7 183.6h4.5v4.5h-4.5zM545.3 185.1h4.5v4.5h-4.5zM546.5 185.5h4.5v4.5h-4.5zM547.8 181.7h4.5v4.5h-4.5zM549.3 182.7h4.5v4.5h-4.5zM550.7 183h4.5v4.5h-4.5zM552 182.4h4.5v4.5h-4.5zM553.2 183.3h4.5v4.5h-4.5zM555 185.8h4.5v4.5h-4.5zM556 186.5h4.5v4.5h-4.5zM557.9 187.1h4.5v4.5h-4.5zM559.2 187.8h4.5v4.5h-4.5zM560.6 190.9h4.5v4.5h-4.5zM562 184.5h4.5v4.5h-4.5zM563.5 183.1h4.5v4.5h-4.5zM564.9 185.3h4.5v4.5h-4.5zM566 186.5h4.5v4.5h-4.5zM567.3 188.8h4.5v4.5h-4.5zM568.9 190.7h4.5v4.5h-4.5zM570.5 191.6h4.5v4.5h-4.5zM571.7 194.6h4.5v4.5h-4.5zM572.6 194.1h4.5v4.5h-4.5zM574 195.3h4.5v4.5h-4.5zM575.7 199h4.5v4.5h-4.5zM577.4 192.6h4.5v4.5h-4.5zM578.9 194.2h4.5v4.5h-4.5zM579.9 192.7h4.5v4.5h-4.5zM581.4 194.2h4.5v4.5h-4.5zM582.8 196.4h4.5v4.5h-4.5zM583.8 199.3h4.5v4.5h-4.5zM585.2 199.3h4.5v4.5h-4.5zM587 200.9h4.5v4.5h-4.5zM588.4 201.1h4.5v4.5h-4.5zM590 197h4.5v4.5h-4.5zM590.9 195h4.5v4.5h-4.5zM592.8 198h4.5v4.5h-4.5zM593.8 199.5h4.5v4.5h-4.5zM595.4 201.4h4.5v4.5h-4.5zM596.9 202.8h4.5v4.5h-4.5zM597.9 202.3h4.5v4.5h-4.5zM599.9 203.5h4.5v4.5h-4.5zM601.3 207.4h4.5v4.5h-4.5zM602.7 207.1h4.5v4.5h-4.5zM603.4 207h4.5v4.5h-4.5zM605.3 200.1h4.5v4.5h-4.5zM606.7 203.8h4.5v4.5h-4.5zM608.3 205.4h4.5v4.5h-4.5zM609.1 205.4h4.5v4.5h-4.5zM610.4 206h4.5v4.5h-4.5zM612.4 208.7h4.5v4.5h-4.5zM613.4 210.9h4.5v4.5h-4.5zM614.6 210.5h4.5v4.5h-4.5zM616 212.4h4.5v4.5h-4.5zM617.9 206.1h4.5v4.5h-4.5zM619.2 206.8h4.5v4.5h-4.5zM620.7 207h4.5v4.5h-4.5zM622.2 207.1h4.5v4.5h-4.5zM623 209.7h4.5v4.5h-4.5zM625.1 211.7h4.5v4.5h-4.5zM626.5 213.3h4.5v4.5h-4.5zM627.9 210.9h4.5v4.5h-4.5zM629.2 212.5h4.5v4.5h-4.5zM630.3 215.3h4.5v4.5h-4.5zM631.5 216.3h4.5v4.5h-4.5zM633.5 207.3h4.5v4.5h-4.5zM634.5 208.5h4.5v4.5h-4.5zM635.9 209.6h4.5v4.5h-4.5zM637.5 213.2h4.5v4.5h-4.5zM638.9 211.8h4.5v4.5h-4.5zM640.3 211.6h4.5v4.5h-4.5zM641.6 215h4.5v4.5h-4.5zM643 214.1h4.5v4.5h-4.5zM644.6 214.9h4.5v4.5h-4.5zM645.7 215.2h4.5v4.5h-4.5zM647 208.7h4.5v4.5h-4.5zM648.9 209.2h4.5v4.5h-4.5zM650.2 210.5h4.5v4.5h-4.5zM651.5 212.9h4.5v4.5h-4.5zM652.5 212.9h4.5v4.5h-4.5zM653.8 215.4h4.5v4.5h-4.5zM655.9 217.9h4.5v4.5h-4.5zM657.3 218h4.5v4.5h-4.5zM658.2 217h4.5v4.5h-4.5zM659.9 213.8h4.5v4.5h-4.5zM660.8 212h4.5v4.5h-4.5zM662.5 214.3h4.5v4.5h-4.5zM664.1 216.1h4.5v4.5h-4.5zM665.2 216h4.5v4.5h-4.5zM667 217.5h4.5v4.5h-4.5zM668.5 219.5h4.5v4.5h-4.5zM669.3 220h4.5v4.5h-4.5zM671.1 220.5h4.5v4.5h-4.5zM672.3 220.6h4.5v4.5h-4.5zM673.5 220.4h4.5v4.5h-4.5zM675 214.8h4.5v4.5h-4.5zM676.5 215.4h4.5v4.5h-4.5zM678.3 217.6h4.5v4.5h-4.5zM679.6 218.1h4.5v4.5h-4.5zM680.4 219h4.5v4.5h-4.5zM681.8 221.9h4.5v4.5h-4.5zM683.9 224.6h4.5v4.5h-4.5zM685 225.7h4.5v4.5h-4.5zM686.4 226.5h4.5v4.5h-4.5zM687.6 229.7h4.5v4.5h-4.5zM689.4 221.5h4.5v4.5h-4.5zM690.6 227h4.5v4.5h-4.5zM692 226.3h4.5v4.5h-4.5zM693.1 227.7h4.5v4.5h-4.5zM695 231h4.5v4.5h-4.5zM695.9 231.6h4.5v4.5h-4.5zM697.3 234.1h4.5v4.5h-4.5zM699 235.4h4.5v4.5h-4.5zM700.6 234.3h4.5v4.5h-4.5zM701.6 236.9h4.5v4.5h-4.5zM703 231.3h4.5v4.5h-4.5zM704.3 230.2h4.5v4.5h-4.5zM706 233.5h4.5v4.5h-4.5zM707.6 236.7h4.5v4.5h-4.5zM708.5 235.1h4.5v4.5h-4.5zM710.2 235.4h4.5v4.5h-4.5zM711.6 238.6h4.5v4.5h-4.5zM712.6 240h4.5v4.5h-4.5zM714.4 241.5h4.5v4.5h-4.5zM715.6 244.2h4.5v4.5h-4.5zM716.9 237h4.5v4.5h-4.5zM463.8 118h4.5v4.5h-4.5zM521.2 120.5h4.5v4.5h-4.5zM536 114.5h4.5v4.5h-4.5zM550.6 149.2h4.5v4.5h-4.5zM532.4 196.2h4.5v4.5h-4.5zM561.1 201.2h4.5v4.5h-4.5zM608.2 142.2h4.5v4.5h-4.5zM622.8 135.8h4.5v4.5h-4.5zM637.5 170.2h4.5v4.5h-4.5zM694.4 161.8h4.5v4.5h-4.5zM709 154.8h4.5v4.5h-4.5zM672.2 228.2h4.5v4.5h-4.5zM678.9 230.7h4.5v4.5h-4.5zM678.9 233.9h4.5v4.5h-4.5zM614.4 211.7h4.5v4.5h-4.5zM431.8 157.2h4.5v4.5h-4.5zM428.8 153.8h4.5v4.5h-4.5z"/>
<path fill="none" stroke="#1A72B6" stroke-width="1.6" d="M421.2 177.3l4.6 4.6m0 -4.6l-4.6 4.6M422.8 175.2l4.6 4.6m0 -4.6l-4.6 4.6M423.7 176l4.6 4.6m0 -4.6l-4.6 4.6M425.4 174.7l4.6 4.6m0 -4.6l-4.6 4.6M426.8 174.2l4.6 4.6m0 -4.6l-4.6 4.6M428.1 174l4.6 4.6m0 -4.6l-4.6 4.6M429.6 172.2l4.6 4.6m0 -4.6l-4.6 4.6M431.1 172.4l4.6 4.6m0 -4.6l-4.6 4.6M432.5 172.4l4.6 4.6m0 -4.6l-4.6 4.6M434 170.2l4.6 4.6m0 -4.6l-4.6 4.6M435.3 170.6l4.6 4.6m0 -4.6l-4.6 4.6M436.9 170l4.6 4.6m0 -4.6l-4.6 4.6M438.1 170l4.6 4.6m0 -4.6l-4.6 4.6M439.3 170.9l4.6 4.6m0 -4.6l-4.6 4.6M440.6 170.9l4.6 4.6m0 -4.6l-4.6 4.6M441.9 171.4l4.6 4.6m0 -4.6l-4.6 4.6M443.5 172l4.6 4.6m0 -4.6l-4.6 4.6M444.8 171.7l4.6 4.6m0 -4.6l-4.6 4.6M446.5 172l4.6 4.6m0 -4.6l-4.6 4.6M447.9 171.5l4.6 4.6m0 -4.6l-4.6 4.6M449.3 172.1l4.6 4.6m0 -4.6l-4.6 4.6M450.5 172l4.6 4.6m0 -4.6l-4.6 4.6M452 172.8l4.6 4.6m0 -4.6l-4.6 4.6M453.3 172.1l4.6 4.6m0 -4.6l-4.6 4.6M455.1 171.5l4.6 4.6m0 -4.6l-4.6 4.6M455.9 173.2l4.6 4.6m0 -4.6l-4.6 4.6M457.5 172.1l4.6 4.6m0 -4.6l-4.6 4.6M459 172.5l4.6 4.6m0 -4.6l-4.6 4.6M460.2 173.7l4.6 4.6m0 -4.6l-4.6 4.6M462 172.4l4.6 4.6m0 -4.6l-4.6 4.6M463.2 174.1l4.6 4.6m0 -4.6l-4.6 4.6M464.5 172.7l4.6 4.6m0 -4.6l-4.6 4.6M465.7 171.2l4.6 4.6m0 -4.6l-4.6 4.6M467.3 174.9l4.6 4.6m0 -4.6l-4.6 4.6M468.9 176.6l4.6 4.6m0 -4.6l-4.6 4.6M470.1 175.7l4.6 4.6m0 -4.6l-4.6 4.6M471.3 178.5l4.6 4.6m0 -4.6l-4.6 4.6M473 177.7l4.6 4.6m0 -4.6l-4.6 4.6M474.3 178.8l4.6 4.6m0 -4.6l-4.6 4.6M476 177.4l4.6 4.6m0 -4.6l-4.6 4.6M477.3 177.9l4.6 4.6m0 -4.6l-4.6 4.6M478.7 177.8l4.6 4.6m0 -4.6l-4.6 4.6M480.2 179.3l4.6 4.6m0 -4.6l-4.6 4.6M481.6 180.2l4.6 4.6m0 -4.6l-4.6 4.6M482.7 179.1l4.6 4.6m0 -4.6l-4.6 4.6M484.2 178.7l4.6 4.6m0 -4.6l-4.6 4.6M485.5 179.1l4.6 4.6m0 -4.6l-4.6 4.6M486.8 180.7l4.6 4.6m0 -4.6l-4.6 4.6M488.2 178.9l4.6 4.6m0 -4.6l-4.6 4.6M489.6 179.7l4.6 4.6m0 -4.6l-4.6 4.6M491 181.1l4.6 4.6m0 -4.6l-4.6 4.6M492.4 181.4l4.6 4.6m0 -4.6l-4.6 4.6M494.1 181.7l4.6 4.6m0 -4.6l-4.6 4.6M495.3 180.6l4.6 4.6m0 -4.6l-4.6 4.6M496.5 181.6l4.6 4.6m0 -4.6l-4.6 4.6M498.2 180.8l4.6 4.6m0 -4.6l-4.6 4.6M499.4 181.8l4.6 4.6m0 -4.6l-4.6 4.6M501.1 182.4l4.6 4.6m0 -4.6l-4.6 4.6M502.2 182l4.6 4.6m0 -4.6l-4.6 4.6M503.8 181.1l4.6 4.6m0 -4.6l-4.6 4.6M505 182.8l4.6 4.6m0 -4.6l-4.6 4.6M506.6 182.5l4.6 4.6m0 -4.6l-4.6 4.6M508.2 182.7l4.6 4.6m0 -4.6l-4.6 4.6M509.3 184.1l4.6 4.6m0 -4.6l-4.6 4.6M510.8 183l4.6 4.6m0 -4.6l-4.6 4.6M512.2 185.5l4.6 4.6m0 -4.6l-4.6 4.6M513.3 186.3l4.6 4.6m0 -4.6l-4.6 4.6M514.7 185.9l4.6 4.6m0 -4.6l-4.6 4.6M516.6 185.8l4.6 4.6m0 -4.6l-4.6 4.6M517.7 184.3l4.6 4.6m0 -4.6l-4.6 4.6M519.3 184.8l4.6 4.6m0 -4.6l-4.6 4.6M520.5 185.5l4.6 4.6m0 -4.6l-4.6 4.6M522.2 185.4l4.6 4.6m0 -4.6l-4.6 4.6M523.2 185.4l4.6 4.6m0 -4.6l-4.6 4.6M524.8 187.5l4.6 4.6m0 -4.6l-4.6 4.6M526.2 187.7l4.6 4.6m0 -4.6l-4.6 4.6M527.8 187.7l4.6 4.6m0 -4.6l-4.6 4.6M528.7 186.8l4.6 4.6m0 -4.6l-4.6 4.6M530.3 188.3l4.6 4.6m0 -4.6l-4.6 4.6M531.8 188.5l4.6 4.6m0 -4.6l-4.6 4.6M533.3 187.7l4.6 4.6m0 -4.6l-4.6 4.6M534.4 187.5l4.6 4.6m0 -4.6l-4.6 4.6M536 187.7l4.6 4.6m0 -4.6l-4.6 4.6M537.5 188.6l4.6 4.6m0 -4.6l-4.6 4.6M538.9 189.7l4.6 4.6m0 -4.6l-4.6 4.6M540 188.2l4.6 4.6m0 -4.6l-4.6 4.6M541.6 189.2l4.6 4.6m0 -4.6l-4.6 4.6M542.9 189.3l4.6 4.6m0 -4.6l-4.6 4.6M544.3 190.7l4.6 4.6m0 -4.6l-4.6 4.6M545.7 189.3l4.6 4.6m0 -4.6l-4.6 4.6M547.5 190.6l4.6 4.6m0 -4.6l-4.6 4.6M548.3 190l4.6 4.6m0 -4.6l-4.6 4.6M550.3 191l4.6 4.6m0 -4.6l-4.6 4.6M551.1 191.6l4.6 4.6m0 -4.6l-4.6 4.6M552.5 191.8l4.6 4.6m0 -4.6l-4.6 4.6M554 193.7l4.6 4.6m0 -4.6l-4.6 4.6M555.5 190l4.6 4.6m0 -4.6l-4.6 4.6M557.2 191.2l4.6 4.6m0 -4.6l-4.6 4.6M558.6 191.1l4.6 4.6m0 -4.6l-4.6 4.6M560.1 191.6l4.6 4.6m0 -4.6l-4.6 4.6M561.1 191.5l4.6 4.6m0 -4.6l-4.6 4.6M562.3 193.2l4.6 4.6m0 -4.6l-4.6 4.6M564.1 191.7l4.6 4.6m0 -4.6l-4.6 4.6M565.6 192.3l4.6 4.6m0 -4.6l-4.6 4.6M566.6 193.8l4.6 4.6m0 -4.6l-4.6 4.6M568.4 194l4.6 4.6m0 -4.6l-4.6 4.6M569.3 194.6l4.6 4.6m0 -4.6l-4.6 4.6M571.1 193.5l4.6 4.6m0 -4.6l-4.6 4.6M572.4 193l4.6 4.6m0 -4.6l-4.6 4.6M574 194.9l4.6 4.6m0 -4.6l-4.6 4.6M575.4 194.5l4.6 4.6m0 -4.6l-4.6 4.6M576.3 195.2l4.6 4.6m0 -4.6l-4.6 4.6M578 193.8l4.6 4.6m0 -4.6l-4.6 4.6M579.2 194l4.6 4.6m0 -4.6l-4.6 4.6M580.8 195.5l4.6 4.6m0 -4.6l-4.6 4.6M581.9 195.9l4.6 4.6m0 -4.6l-4.6 4.6M583.5 195.8l4.6 4.6m0 -4.6l-4.6 4.6M584.9 196l4.6 4.6m0 -4.6l-4.6 4.6M586.1 196.3l4.6 4.6m0 -4.6l-4.6 4.6M587.8 195.5l4.6 4.6m0 -4.6l-4.6 4.6M589.4 195.6l4.6 4.6m0 -4.6l-4.6 4.6M590.3 196.4l4.6 4.6m0 -4.6l-4.6 4.6M592.3 197.1l4.6 4.6m0 -4.6l-4.6 4.6M593.4 196.7l4.6 4.6m0 -4.6l-4.6 4.6M594.6 196.9l4.6 4.6m0 -4.6l-4.6 4.6M596.5 197.8l4.6 4.6m0 -4.6l-4.6 4.6M597.6 198.1l4.6 4.6m0 -4.6l-4.6 4.6M599 198l4.6 4.6m0 -4.6l-4.6 4.6M600.3 199.7l4.6 4.6m0 -4.6l-4.6 4.6M602 200l4.6 4.6m0 -4.6l-4.6 4.6M603 198.2l4.6 4.6m0 -4.6l-4.6 4.6M604.4 199.4l4.6 4.6m0 -4.6l-4.6 4.6M605.9 199.1l4.6 4.6m0 -4.6l-4.6 4.6M607.1 199.6l4.6 4.6m0 -4.6l-4.6 4.6M609 199.4l4.6 4.6m0 -4.6l-4.6 4.6M610.2 198.8l4.6 4.6m0 -4.6l-4.6 4.6M611.7 199.6l4.6 4.6m0 -4.6l-4.6 4.6M613.2 200l4.6 4.6m0 -4.6l-4.6 4.6M614.4 201.4l4.6 4.6m0 -4.6l-4.6 4.6M615.7 200.4l4.6 4.6m0 -4.6l-4.6 4.6M617.2 202.4l4.6 4.6m0 -4.6l-4.6 4.6M618.6 202.5l4.6 4.6m0 -4.6l-4.6 4.6M619.9 201.5l4.6 4.6m0 -4.6l-4.6 4.6M621.2 202.7l4.6 4.6m0 -4.6l-4.6 4.6M622.7 203.5l4.6 4.6m0 -4.6l-4.6 4.6M624.3 201.9l4.6 4.6m0 -4.6l-4.6 4.6M625.4 203.1l4.6 4.6m0 -4.6l-4.6 4.6M627.3 203.1l4.6 4.6m0 -4.6l-4.6 4.6M628.2 203l4.6 4.6m0 -4.6l-4.6 4.6M629.7 203.2l4.6 4.6m0 -4.6l-4.6 4.6M631 203l4.6 4.6m0 -4.6l-4.6 4.6M632.5 204.5l4.6 4.6m0 -4.6l-4.6 4.6M633.9 203.7l4.6 4.6m0 -4.6l-4.6 4.6M635.5 204.5l4.6 4.6m0 -4.6l-4.6 4.6M637 205.8l4.6 4.6m0 -4.6l-4.6 4.6M638 204.8l4.6 4.6m0 -4.6l-4.6 4.6M639.8 204.9l4.6 4.6m0 -4.6l-4.6 4.6M640.9 206.5l4.6 4.6m0 -4.6l-4.6 4.6M642.3 206l4.6 4.6m0 -4.6l-4.6 4.6M643.6 205.2l4.6 4.6m0 -4.6l-4.6 4.6M645.4 205.7l4.6 4.6m0 -4.6l-4.6 4.6M646.5 206.8l4.6 4.6m0 -4.6l-4.6 4.6M489.4 148.8l4.6 4.6m0 -4.6l-4.6 4.6M571 161.1l4.6 4.6m0 -4.6l-4.6 4.6M469.7 183.3l4.6 4.6m0 -4.6l-4.6 4.6M485.2 183.3l4.6 4.6m0 -4.6l-4.6 4.6M488.7 185.4l4.6 4.6m0 -4.6l-4.6 4.6"/>
</g>
<g clip-path="url(#cpc)">
<path fill="#9E3A0C" d="M101.9 361.9a2.3 2.3 0 1 0 4.6 0a2.3 2.3 0 1 0 -4.6 0M103 361.8a2.3 2.3 0 1 0 4.6 0a2.3 2.3 0 1 0 -4.6 0M104.8 362.4a2.3 2.3 0 1 0 4.6 0a2.3 2.3 0 1 0 -4.6 0M105.9 364.2a2.3 2.3 0 1 0 4.6 0a2.3 2.3 0 1 0 -4.6 0M107.6 365.4a2.3 2.3 0 1 0 4.6 0a2.3 2.3 0 1 0 -4.6 0M108.5 366a2.3 2.3 0 1 0 4.6 0a2.3 2.3 0 1 0 -4.6 0M110.3 368.4a2.3 2.3 0 1 0 4.6 0a2.3 2.3 0 1 0 -4.6 0M111.5 369.2a2.3 2.3 0 1 0 4.6 0a2.3 2.3 0 1 0 -4.6 0M112.7 370.6a2.3 2.3 0 1 0 4.6 0a2.3 2.3 0 1 0 -4.6 0M114.4 372.3a2.3 2.3 0 1 0 4.6 0a2.3 2.3 0 1 0 -4.6 0M115.4 372.9a2.3 2.3 0 1 0 4.6 0a2.3 2.3 0 1 0 -4.6 0M116.9 374.7a2.3 2.3 0 1 0 4.6 0a2.3 2.3 0 1 0 -4.6 0M118.7 375.7a2.3 2.3 0 1 0 4.6 0a2.3 2.3 0 1 0 -4.6 0M119.9 376.2a2.3 2.3 0 1 0 4.6 0a2.3 2.3 0 1 0 -4.6 0M121.2 377.5a2.3 2.3 0 1 0 4.6 0a2.3 2.3 0 1 0 -4.6 0M122.5 378.3a2.3 2.3 0 1 0 4.6 0a2.3 2.3 0 1 0 -4.6 0M123.9 377.5a2.3 2.3 0 1 0 4.6 0a2.3 2.3 0 1 0 -4.6 0M125.3 381.1a2.3 2.3 0 1 0 4.6 0a2.3 2.3 0 1 0 -4.6 0M126.9 382a2.3 2.3 0 1 0 4.6 0a2.3 2.3 0 1 0 -4.6 0M128 382.6a2.3 2.3 0 1 0 4.6 0a2.3 2.3 0 1 0 -4.6 0M129.5 384.3a2.3 2.3 0 1 0 4.6 0a2.3 2.3 0 1 0 -4.6 0M131.1 385.2a2.3 2.3 0 1 0 4.6 0a2.3 2.3 0 1 0 -4.6 0M132.7 384.6a2.3 2.3 0 1 0 4.6 0a2.3 2.3 0 1 0 -4.6 0M134.1 387.7a2.3 2.3 0 1 0 4.6 0a2.3 2.3 0 1 0 -4.6 0M135.6 387.9a2.3 2.3 0 1 0 4.6 0a2.3 2.3 0 1 0 -4.6 0M136.5 389.7a2.3 2.3 0 1 0 4.6 0a2.3 2.3 0 1 0 -4.6 0M137.9 390.5a2.3 2.3 0 1 0 4.6 0a2.3 2.3 0 1 0 -4.6 0M139.7 389.6a2.3 2.3 0 1 0 4.6 0a2.3 2.3 0 1 0 -4.6 0M141 390.8a2.3 2.3 0 1 0 4.6 0a2.3 2.3 0 1 0 -4.6 0M142.1 392.6a2.3 2.3 0 1 0 4.6 0a2.3 2.3 0 1 0 -4.6 0M143.7 393.1a2.3 2.3 0 1 0 4.6 0a2.3 2.3 0 1 0 -4.6 0M145.4 394.5a2.3 2.3 0 1 0 4.6 0a2.3 2.3 0 1 0 -4.6 0M146.7 395a2.3 2.3 0 1 0 4.6 0a2.3 2.3 0 1 0 -4.6 0M148.2 396.5a2.3 2.3 0 1 0 4.6 0a2.3 2.3 0 1 0 -4.6 0M149.3 396a2.3 2.3 0 1 0 4.6 0a2.3 2.3 0 1 0 -4.6 0M150.5 397.5a2.3 2.3 0 1 0 4.6 0a2.3 2.3 0 1 0 -4.6 0M152.1 398.2a2.3 2.3 0 1 0 4.6 0a2.3 2.3 0 1 0 -4.6 0M153.3 399.2a2.3 2.3 0 1 0 4.6 0a2.3 2.3 0 1 0 -4.6 0M154.7 400.9a2.3 2.3 0 1 0 4.6 0a2.3 2.3 0 1 0 -4.6 0M156.1 400.8a2.3 2.3 0 1 0 4.6 0a2.3 2.3 0 1 0 -4.6 0M157.6 402.4a2.3 2.3 0 1 0 4.6 0a2.3 2.3 0 1 0 -4.6 0M158.9 404.4a2.3 2.3 0 1 0 4.6 0a2.3 2.3 0 1 0 -4.6 0M160.4 404.2a2.3 2.3 0 1 0 4.6 0a2.3 2.3 0 1 0 -4.6 0M162 406.3a2.3 2.3 0 1 0 4.6 0a2.3 2.3 0 1 0 -4.6 0M163.4 408.4a2.3 2.3 0 1 0 4.6 0a2.3 2.3 0 1 0 -4.6 0M164.4 409.5a2.3 2.3 0 1 0 4.6 0a2.3 2.3 0 1 0 -4.6 0M166.3 410.4a2.3 2.3 0 1 0 4.6 0a2.3 2.3 0 1 0 -4.6 0M167.7 410.2a2.3 2.3 0 1 0 4.6 0a2.3 2.3 0 1 0 -4.6 0M169.2 413.2a2.3 2.3 0 1 0 4.6 0a2.3 2.3 0 1 0 -4.6 0M170.1 412.6a2.3 2.3 0 1 0 4.6 0a2.3 2.3 0 1 0 -4.6 0M171.8 413.9a2.3 2.3 0 1 0 4.6 0a2.3 2.3 0 1 0 -4.6 0M173.1 413a2.3 2.3 0 1 0 4.6 0a2.3 2.3 0 1 0 -4.6 0M174.6 413.8a2.3 2.3 0 1 0 4.6 0a2.3 2.3 0 1 0 -4.6 0M176.1 414.3a2.3 2.3 0 1 0 4.6 0a2.3 2.3 0 1 0 -4.6 0M177 416a2.3 2.3 0 1 0 4.6 0a2.3 2.3 0 1 0 -4.6 0M178.9 416.3a2.3 2.3 0 1 0 4.6 0a2.3 2.3 0 1 0 -4.6 0M180.3 416.7a2.3 2.3 0 1 0 4.6 0a2.3 2.3 0 1 0 -4.6 0M181.6 418.5a2.3 2.3 0 1 0 4.6 0a2.3 2.3 0 1 0 -4.6 0M182.8 417.5a2.3 2.3 0 1 0 4.6 0a2.3 2.3 0 1 0 -4.6 0M184.3 420.3a2.3 2.3 0 1 0 4.6 0a2.3 2.3 0 1 0 -4.6 0M185.5 420.3a2.3 2.3 0 1 0 4.6 0a2.3 2.3 0 1 0 -4.6 0M187.2 420.3a2.3 2.3 0 1 0 4.6 0a2.3 2.3 0 1 0 -4.6 0M188.5 421.4a2.3 2.3 0 1 0 4.6 0a2.3 2.3 0 1 0 -4.6 0M189.9 421.6a2.3 2.3 0 1 0 4.6 0a2.3 2.3 0 1 0 -4.6 0M191.4 421.4a2.3 2.3 0 1 0 4.6 0a2.3 2.3 0 1 0 -4.6 0M192.5 422.6a2.3 2.3 0 1 0 4.6 0a2.3 2.3 0 1 0 -4.6 0M193.8 423.6a2.3 2.3 0 1 0 4.6 0a2.3 2.3 0 1 0 -4.6 0M195.3 424.7a2.3 2.3 0 1 0 4.6 0a2.3 2.3 0 1 0 -4.6 0M196.6 424.9a2.3 2.3 0 1 0 4.6 0a2.3 2.3 0 1 0 -4.6 0M198.5 426.1a2.3 2.3 0 1 0 4.6 0a2.3 2.3 0 1 0 -4.6 0M199.5 425.9a2.3 2.3 0 1 0 4.6 0a2.3 2.3 0 1 0 -4.6 0M201 428.5a2.3 2.3 0 1 0 4.6 0a2.3 2.3 0 1 0 -4.6 0M202.6 427.6a2.3 2.3 0 1 0 4.6 0a2.3 2.3 0 1 0 -4.6 0M203.8 426.6a2.3 2.3 0 1 0 4.6 0a2.3 2.3 0 1 0 -4.6 0M205.5 425.5a2.3 2.3 0 1 0 4.6 0a2.3 2.3 0 1 0 -4.6 0M206.9 429.4a2.3 2.3 0 1 0 4.6 0a2.3 2.3 0 1 0 -4.6 0M208 428.4a2.3 2.3 0 1 0 4.6 0a2.3 2.3 0 1 0 -4.6 0M209.6 430.1a2.3 2.3 0 1 0 4.6 0a2.3 2.3 0 1 0 -4.6 0M211.1 429.7a2.3 2.3 0 1 0 4.6 0a2.3 2.3 0 1 0 -4.6 0M212.6 431.2a2.3 2.3 0 1 0 4.6 0a2.3 2.3 0 1 0 -4.6 0M213.8 429.9a2.3 2.3 0 1 0 4.6 0a2.3 2.3 0 1 0 -4.6 0M215.1 431.5a2.3 2.3 0 1 0 4.6 0a2.3 2.3 0 1 0 -4.6 0M216.2 431.8a2.3 2.3 0 1 0 4.6 0a2.3 2.3 0 1 0 -4.6 0M218 431.4a2.3 2.3 0 1 0 4.6 0a2.3 2.3 0 1 0 -4.6 0M219.4 432.5a2.3 2.3 0 1 0 4.6 0a2.3 2.3 0 1 0 -4.6 0M220.8 433.8a2.3 2.3 0 1 0 4.6 0a2.3 2.3 0 1 0 -4.6 0M222 431.2a2.3 2.3 0 1 0 4.6 0a2.3 2.3 0 1 0 -4.6 0M223.7 433.1a2.3 2.3 0 1 0 4.6 0a2.3 2.3 0 1 0 -4.6 0M225 434.3a2.3 2.3 0 1 0 4.6 0a2.3 2.3 0 1 0 -4.6 0M226.2 434.5a2.3 2.3 0 1 0 4.6 0a2.3 2.3 0 1 0 -4.6 0M227.5 436.9a2.3 2.3 0 1 0 4.6 0a2.3 2.3 0 1 0 -4.6 0M228.8 434.8a2.3 2.3 0 1 0 4.6 0a2.3 2.3 0 1 0 -4.6 0M230.6 434.6a2.3 2.3 0 1 0 4.6 0a2.3 2.3 0 1 0 -4.6 0M231.8 435.9a2.3 2.3 0 1 0 4.6 0a2.3 2.3 0 1 0 -4.6 0M233.5 436.9a2.3 2.3 0 1 0 4.6 0a2.3 2.3 0 1 0 -4.6 0M234.6 436.4a2.3 2.3 0 1 0 4.6 0a2.3 2.3 0 1 0 -4.6 0M236 436.6a2.3 2.3 0 1 0 4.6 0a2.3 2.3 0 1 0 -4.6 0M237.7 438.2a2.3 2.3 0 1 0 4.6 0a2.3 2.3 0 1 0 -4.6 0M238.8 437.8a2.3 2.3 0 1 0 4.6 0a2.3 2.3 0 1 0 -4.6 0M240.6 435.9a2.3 2.3 0 1 0 4.6 0a2.3 2.3 0 1 0 -4.6 0M241.7 438a2.3 2.3 0 1 0 4.6 0a2.3 2.3 0 1 0 -4.6 0M243.4 439.5a2.3 2.3 0 1 0 4.6 0a2.3 2.3 0 1 0 -4.6 0M244.3 438a2.3 2.3 0 1 0 4.6 0a2.3 2.3 0 1 0 -4.6 0M245.6 440a2.3 2.3 0 1 0 4.6 0a2.3 2.3 0 1 0 -4.6 0M247 439.4a2.3 2.3 0 1 0 4.6 0a2.3 2.3 0 1 0 -4.6 0M248.9 440.8a2.3 2.3 0 1 0 4.6 0a2.3 2.3 0 1 0 -4.6 0M250.1 439.9a2.3 2.3 0 1 0 4.6 0a2.3 2.3 0 1 0 -4.6 0M251.6 441.4a2.3 2.3 0 1 0 4.6 0a2.3 2.3 0 1 0 -4.6 0M252.9 442.3a2.3 2.3 0 1 0 4.6 0a2.3 2.3 0 1 0 -4.6 0M254.6 440.9a2.3 2.3 0 1 0 4.6 0a2.3 2.3 0 1 0 -4.6 0M255.9 443.3a2.3 2.3 0 1 0 4.6 0a2.3 2.3 0 1 0 -4.6 0M257.1 441.8a2.3 2.3 0 1 0 4.6 0a2.3 2.3 0 1 0 -4.6 0M258.3 442a2.3 2.3 0 1 0 4.6 0a2.3 2.3 0 1 0 -4.6 0M259.8 444.2a2.3 2.3 0 1 0 4.6 0a2.3 2.3 0 1 0 -4.6 0M261.2 444a2.3 2.3 0 1 0 4.6 0a2.3 2.3 0 1 0 -4.6 0M262.6 443.3a2.3 2.3 0 1 0 4.6 0a2.3 2.3 0 1 0 -4.6 0M264.2 445.1a2.3 2.3 0 1 0 4.6 0a2.3 2.3 0 1 0 -4.6 0M265.7 445.2a2.3 2.3 0 1 0 4.6 0a2.3 2.3 0 1 0 -4.6 0M267.1 446.7a2.3 2.3 0 1 0 4.6 0a2.3 2.3 0 1 0 -4.6 0M268.1 447a2.3 2.3 0 1 0 4.6 0a2.3 2.3 0 1 0 -4.6 0M269.5 447.2a2.3 2.3 0 1 0 4.6 0a2.3 2.3 0 1 0 -4.6 0M271.2 446.8a2.3 2.3 0 1 0 4.6 0a2.3 2.3 0 1 0 -4.6 0M272.6 447.9a2.3 2.3 0 1 0 4.6 0a2.3 2.3 0 1 0 -4.6 0M274.1 448.1a2.3 2.3 0 1 0 4.6 0a2.3 2.3 0 1 0 -4.6 0"/>
<path fill="#FDBB47" d="M104.1 359.6l2.7 2.7 -2.7 2.7 -2.7 -2.7zM105.6 360.7l2.7 2.7 -2.7 2.7 -2.7 -2.7zM106.5 361.9l2.7 2.7 -2.7 2.7 -2.7 -2.7zM108.2 365.4l2.7 2.7 -2.7 2.7 -2.7 -2.7zM109.8 366.7l2.7 2.7 -2.7 2.7 -2.7 -2.7zM111.1 368.3l2.7 2.7 -2.7 2.7 -2.7 -2.7zM112.3 368.8l2.7 2.7 -2.7 2.7 -2.7 -2.7zM114.1 371.8l2.7 2.7 -2.7 2.7 -2.7 -2.7zM115.2 372.8l2.7 2.7 -2.7 2.7 -2.7 -2.7zM116.5 373l2.7 2.7 -2.7 2.7 -2.7 -2.7zM118 373.8l2.7 2.7 -2.7 2.7 -2.7 -2.7zM119.3 376.1l2.7 2.7 -2.7 2.7 -2.7 -2.7zM120.7 375.5l2.7 2.7 -2.7 2.7 -2.7 -2.7zM122.2 377.8l2.7 2.7 -2.7 2.7 -2.7 -2.7zM123.3 379.6l2.7 2.7 -2.7 2.7 -2.7 -2.7zM125.1 380.8l2.7 2.7 -2.7 2.7 -2.7 -2.7zM126.4 382l2.7 2.7 -2.7 2.7 -2.7 -2.7zM127.9 382l2.7 2.7 -2.7 2.7 -2.7 -2.7zM129 382l2.7 2.7 -2.7 2.7 -2.7 -2.7zM130.3 383.5l2.7 2.7 -2.7 2.7 -2.7 -2.7zM132.1 384.2l2.7 2.7 -2.7 2.7 -2.7 -2.7zM133.3 385.7l2.7 2.7 -2.7 2.7 -2.7 -2.7zM134.9 386l2.7 2.7 -2.7 2.7 -2.7 -2.7zM136.1 388.3l2.7 2.7 -2.7 2.7 -2.7 -2.7zM137.5 387.7l2.7 2.7 -2.7 2.7 -2.7 -2.7zM138.9 388.6l2.7 2.7 -2.7 2.7 -2.7 -2.7zM140.4 388.8l2.7 2.7 -2.7 2.7 -2.7 -2.7zM141.9 391.3l2.7 2.7 -2.7 2.7 -2.7 -2.7zM143 391.6l2.7 2.7 -2.7 2.7 -2.7 -2.7zM144.5 392.2l2.7 2.7 -2.7 2.7 -2.7 -2.7zM146 393.3l2.7 2.7 -2.7 2.7 -2.7 -2.7zM147.5 394.9l2.7 2.7 -2.7 2.7 -2.7 -2.7zM148.7 396.8l2.7 2.7 -2.7 2.7 -2.7 -2.7zM149.9 396.6l2.7 2.7 -2.7 2.7 -2.7 -2.7zM151.6 398.3l2.7 2.7 -2.7 2.7 -2.7 -2.7zM153 399.3l2.7 2.7 -2.7 2.7 -2.7 -2.7zM154.7 399.6l2.7 2.7 -2.7 2.7 -2.7 -2.7zM155.8 400.8l2.7 2.7 -2.7 2.7 -2.7 -2.7zM156.9 401.8l2.7 2.7 -2.7 2.7 -2.7 -2.7zM158.7 402.8l2.7 2.7 -2.7 2.7 -2.7 -2.7zM159.7 403.6l2.7 2.7 -2.7 2.7 -2.7 -2.7zM161.3 404.6l2.7 2.7 -2.7 2.7 -2.7 -2.7zM162.5 405.5l2.7 2.7 -2.7 2.7 -2.7 -2.7zM164.3 404.3l2.7 2.7 -2.7 2.7 -2.7 -2.7zM165.4 406.8l2.7 2.7 -2.7 2.7 -2.7 -2.7zM167.3 406.1l2.7 2.7 -2.7 2.7 -2.7 -2.7zM168.2 407.5l2.7 2.7 -2.7 2.7 -2.7 -2.7zM170.1 407l2.7 2.7 -2.7 2.7 -2.7 -2.7zM171.4 408.4l2.7 2.7 -2.7 2.7 -2.7 -2.7zM172.6 408.8l2.7 2.7 -2.7 2.7 -2.7 -2.7zM174 407.8l2.7 2.7 -2.7 2.7 -2.7 -2.7zM175.3 410.2l2.7 2.7 -2.7 2.7 -2.7 -2.7zM176.9 408.9l2.7 2.7 -2.7 2.7 -2.7 -2.7zM178 410.4l2.7 2.7 -2.7 2.7 -2.7 -2.7zM179.5 410.2l2.7 2.7 -2.7 2.7 -2.7 -2.7zM180.7 411.6l2.7 2.7 -2.7 2.7 -2.7 -2.7zM182.4 411.1l2.7 2.7 -2.7 2.7 -2.7 -2.7zM183.6 412.6l2.7 2.7 -2.7 2.7 -2.7 -2.7zM185.5 413.4l2.7 2.7 -2.7 2.7 -2.7 -2.7zM186.6 413.5l2.7 2.7 -2.7 2.7 -2.7 -2.7zM187.8 414.6l2.7 2.7 -2.7 2.7 -2.7 -2.7zM189.3 414l2.7 2.7 -2.7 2.7 -2.7 -2.7zM190.6 415.2l2.7 2.7 -2.7 2.7 -2.7 -2.7zM192 415.2l2.7 2.7 -2.7 2.7 -2.7 -2.7zM193.3 415.9l2.7 2.7 -2.7 2.7 -2.7 -2.7zM195.1 415.4l2.7 2.7 -2.7 2.7 -2.7 -2.7zM196.2 419.1l2.7 2.7 -2.7 2.7 -2.7 -2.7zM198 416.2l2.7 2.7 -2.7 2.7 -2.7 -2.7zM199.5 418.5l2.7 2.7 -2.7 2.7 -2.7 -2.7zM200.8 417.2l2.7 2.7 -2.7 2.7 -2.7 -2.7zM201.8 420.5l2.7 2.7 -2.7 2.7 -2.7 -2.7zM203.6 418.1l2.7 2.7 -2.7 2.7 -2.7 -2.7zM204.9 420l2.7 2.7 -2.7 2.7 -2.7 -2.7zM206.5 419.5l2.7 2.7 -2.7 2.7 -2.7 -2.7zM207.5 419.3l2.7 2.7 -2.7 2.7 -2.7 -2.7zM209.1 421.5l2.7 2.7 -2.7 2.7 -2.7 -2.7zM210.5 421.3l2.7 2.7 -2.7 2.7 -2.7 -2.7zM211.6 422.3l2.7 2.7 -2.7 2.7 -2.7 -2.7zM213.3 422.6l2.7 2.7 -2.7 2.7 -2.7 -2.7zM214.7 421.5l2.7 2.7 -2.7 2.7 -2.7 -2.7zM216.2 423.7l2.7 2.7 -2.7 2.7 -2.7 -2.7zM217.6 423.7l2.7 2.7 -2.7 2.7 -2.7 -2.7zM218.5 424.4l2.7 2.7 -2.7 2.7 -2.7 -2.7zM220.4 424.9l2.7 2.7 -2.7 2.7 -2.7 -2.7zM221.5 425.3l2.7 2.7 -2.7 2.7 -2.7 -2.7zM223.2 423.9l2.7 2.7 -2.7 2.7 -2.7 -2.7zM224.2 427.3l2.7 2.7 -2.7 2.7 -2.7 -2.7zM225.7 426l2.7 2.7 -2.7 2.7 -2.7 -2.7zM227.1 425.9l2.7 2.7 -2.7 2.7 -2.7 -2.7zM228.7 426.3l2.7 2.7 -2.7 2.7 -2.7 -2.7zM230.1 425.3l2.7 2.7 -2.7 2.7 -2.7 -2.7zM231.6 427.4l2.7 2.7 -2.7 2.7 -2.7 -2.7zM232.5 427.8l2.7 2.7 -2.7 2.7 -2.7 -2.7zM234.1 427.5l2.7 2.7 -2.7 2.7 -2.7 -2.7zM235.7 427.6l2.7 2.7 -2.7 2.7 -2.7 -2.7zM236.8 429.2l2.7 2.7 -2.7 2.7 -2.7 -2.7zM238.6 428.8l2.7 2.7 -2.7 2.7 -2.7 -2.7zM239.7 429.1l2.7 2.7 -2.7 2.7 -2.7 -2.7zM241.3 429.8l2.7 2.7 -2.7 2.7 -2.7 -2.7zM242.3 430l2.7 2.7 -2.7 2.7 -2.7 -2.7zM244.2 432l2.7 2.7 -2.7 2.7 -2.7 -2.7zM245.2 431.2l2.7 2.7 -2.7 2.7 -2.7 -2.7zM246.7 432.3l2.7 2.7 -2.7 2.7 -2.7 -2.7zM248.1 431.3l2.7 2.7 -2.7 2.7 -2.7 -2.7zM249.5 433.1l2.7 2.7 -2.7 2.7 -2.7 -2.7zM251 434l2.7 2.7 -2.7 2.7 -2.7 -2.7zM252.4 434l2.7 2.7 -2.7 2.7 -2.7 -2.7zM254 434.6l2.7 2.7 -2.7 2.7 -2.7 -2.7zM255.5 433.9l2.7 2.7 -2.7 2.7 -2.7 -2.7zM256.8 434.4l2.7 2.7 -2.7 2.7 -2.7 -2.7zM258.1 435.7l2.7 2.7 -2.7 2.7 -2.7 -2.7zM259.2 434.6l2.7 2.7 -2.7 2.7 -2.7 -2.7zM260.6 435.5l2.7 2.7 -2.7 2.7 -2.7 -2.7zM261.9 436.4l2.7 2.7 -2.7 2.7 -2.7 -2.7zM263.4 435.8l2.7 2.7 -2.7 2.7 -2.7 -2.7zM265.2 436.5l2.7 2.7 -2.7 2.7 -2.7 -2.7zM266.1 435.9l2.7 2.7 -2.7 2.7 -2.7 -2.7zM267.7 437.7l2.7 2.7 -2.7 2.7 -2.7 -2.7zM269.1 436.9l2.7 2.7 -2.7 2.7 -2.7 -2.7zM270.4 437.4l2.7 2.7 -2.7 2.7 -2.7 -2.7zM271.9 437.7l2.7 2.7 -2.7 2.7 -2.7 -2.7zM273.3 439.1l2.7 2.7 -2.7 2.7 -2.7 -2.7zM171.7 377.4l2.7 2.7 -2.7 2.7 -2.7 -2.7zM253.3 402.3l2.7 2.7 -2.7 2.7 -2.7 -2.7zM152 390.7l2.7 2.7 -2.7 2.7 -2.7 -2.7z"/>
<path fill="none" stroke="#1A72B6" stroke-width="1.6" d="M101.7 355.3l4.6 4.6m0 -4.6l-4.6 4.6M103.4 356.8l4.6 4.6m0 -4.6l-4.6 4.6M104.3 356.4l4.6 4.6m0 -4.6l-4.6 4.6M106 356.1l4.6 4.6m0 -4.6l-4.6 4.6M107.1 357.1l4.6 4.6m0 -4.6l-4.6 4.6M108.7 355.2l4.6 4.6m0 -4.6l-4.6 4.6M110.4 355.3l4.6 4.6m0 -4.6l-4.6 4.6M111.6 356l4.6 4.6m0 -4.6l-4.6 4.6M112.6 357l4.6 4.6m0 -4.6l-4.6 4.6M114.6 355.1l4.6 4.6m0 -4.6l-4.6 4.6M115.7 354.6l4.6 4.6m0 -4.6l-4.6 4.6M117.1 357.3l4.6 4.6m0 -4.6l-4.6 4.6M118.8 356.2l4.6 4.6m0 -4.6l-4.6 4.6M120 357.9l4.6 4.6m0 -4.6l-4.6 4.6M121.1 358.4l4.6 4.6m0 -4.6l-4.6 4.6M122.7 358.2l4.6 4.6m0 -4.6l-4.6 4.6M124.2 359.2l4.6 4.6m0 -4.6l-4.6 4.6M125.4 360.6l4.6 4.6m0 -4.6l-4.6 4.6M126.7 360.1l4.6 4.6m0 -4.6l-4.6 4.6M128.2 360.6l4.6 4.6m0 -4.6l-4.6 4.6M129.5 361.4l4.6 4.6m0 -4.6l-4.6 4.6M130.9 360.7l4.6 4.6m0 -4.6l-4.6 4.6M132.3 363l4.6 4.6m0 -4.6l-4.6 4.6M133.9 361.8l4.6 4.6m0 -4.6l-4.6 4.6M135.2 364.4l4.6 4.6m0 -4.6l-4.6 4.6M136.5 364.9l4.6 4.6m0 -4.6l-4.6 4.6M138.2 365.1l4.6 4.6m0 -4.6l-4.6 4.6M139.6 365.8l4.6 4.6m0 -4.6l-4.6 4.6M141.1 365.6l4.6 4.6m0 -4.6l-4.6 4.6M142.1 365.3l4.6 4.6m0 -4.6l-4.6 4.6M143.8 366.4l4.6 4.6m0 -4.6l-4.6 4.6M145 366.9l4.6 4.6m0 -4.6l-4.6 4.6M146.5 366.1l4.6 4.6m0 -4.6l-4.6 4.6M147.9 367.9l4.6 4.6m0 -4.6l-4.6 4.6M149.3 367.3l4.6 4.6m0 -4.6l-4.6 4.6M150.7 368.7l4.6 4.6m0 -4.6l-4.6 4.6M152.4 368l4.6 4.6m0 -4.6l-4.6 4.6M153.6 368.4l4.6 4.6m0 -4.6l-4.6 4.6M154.8 370.1l4.6 4.6m0 -4.6l-4.6 4.6M156.5 370.2l4.6 4.6m0 -4.6l-4.6 4.6M157.5 369.1l4.6 4.6m0 -4.6l-4.6 4.6M159.3 371l4.6 4.6m0 -4.6l-4.6 4.6M160.5 371.8l4.6 4.6m0 -4.6l-4.6 4.6M161.8 371.7l4.6 4.6m0 -4.6l-4.6 4.6M163.5 372l4.6 4.6m0 -4.6l-4.6 4.6M164.5 371.5l4.6 4.6m0 -4.6l-4.6 4.6M165.8 371.3l4.6 4.6m0 -4.6l-4.6 4.6M167.4 372.5l4.6 4.6m0 -4.6l-4.6 4.6M168.9 374.4l4.6 4.6m0 -4.6l-4.6 4.6M170.4 374l4.6 4.6m0 -4.6l-4.6 4.6M171.6 373.6l4.6 4.6m0 -4.6l-4.6 4.6M173.1 375.3l4.6 4.6m0 -4.6l-4.6 4.6M174.8 375.4l4.6 4.6m0 -4.6l-4.6 4.6M176.2 374.6l4.6 4.6m0 -4.6l-4.6 4.6M177.4 375l4.6 4.6m0 -4.6l-4.6 4.6M178.6 375l4.6 4.6m0 -4.6l-4.6 4.6M180.1 377.1l4.6 4.6m0 -4.6l-4.6 4.6M181.7 376l4.6 4.6m0 -4.6l-4.6 4.6M183.1 376.8l4.6 4.6m0 -4.6l-4.6 4.6M184.6 378.3l4.6 4.6m0 -4.6l-4.6 4.6M185.6 377.7l4.6 4.6m0 -4.6l-4.6 4.6M187 378.1l4.6 4.6m0 -4.6l-4.6 4.6M188.4 378.1l4.6 4.6m0 -4.6l-4.6 4.6M190.1 378.4l4.6 4.6m0 -4.6l-4.6 4.6M191.6 380l4.6 4.6m0 -4.6l-4.6 4.6M192.7 379.5l4.6 4.6m0 -4.6l-4.6 4.6M194.1 381.7l4.6 4.6m0 -4.6l-4.6 4.6M195.6 381.1l4.6 4.6m0 -4.6l-4.6 4.6M196.9 382.2l4.6 4.6m0 -4.6l-4.6 4.6M198.3 381.1l4.6 4.6m0 -4.6l-4.6 4.6M199.5 383l4.6 4.6m0 -4.6l-4.6 4.6M200.9 383l4.6 4.6m0 -4.6l-4.6 4.6M202.4 381.9l4.6 4.6m0 -4.6l-4.6 4.6M203.8 382.1l4.6 4.6m0 -4.6l-4.6 4.6M205.1 382.5l4.6 4.6m0 -4.6l-4.6 4.6M207 384.3l4.6 4.6m0 -4.6l-4.6 4.6M208.2 384.6l4.6 4.6m0 -4.6l-4.6 4.6M209.4 384.7l4.6 4.6m0 -4.6l-4.6 4.6M211.2 384.7l4.6 4.6m0 -4.6l-4.6 4.6M212.1 384.9l4.6 4.6m0 -4.6l-4.6 4.6M213.6 385.5l4.6 4.6m0 -4.6l-4.6 4.6M215.3 385.2l4.6 4.6m0 -4.6l-4.6 4.6M216.8 386.6l4.6 4.6m0 -4.6l-4.6 4.6M218.1 387.3l4.6 4.6m0 -4.6l-4.6 4.6M219.1 386.9l4.6 4.6m0 -4.6l-4.6 4.6M220.7 386.2l4.6 4.6m0 -4.6l-4.6 4.6M221.8 386.5l4.6 4.6m0 -4.6l-4.6 4.6M223.2 388.4l4.6 4.6m0 -4.6l-4.6 4.6M225.1 388.7l4.6 4.6m0 -4.6l-4.6 4.6M226 388.5l4.6 4.6m0 -4.6l-4.6 4.6M227.5 388.9l4.6 4.6m0 -4.6l-4.6 4.6M228.9 388.4l4.6 4.6m0 -4.6l-4.6 4.6M230.6 391.4l4.6 4.6m0 -4.6l-4.6 4.6M232 390.2l4.6 4.6m0 -4.6l-4.6 4.6M233.1 389.2l4.6 4.6m0 -4.6l-4.6 4.6M234.6 390.1l4.6 4.6m0 -4.6l-4.6 4.6M236.4 389l4.6 4.6m0 -4.6l-4.6 4.6M237.3 390l4.6 4.6m0 -4.6l-4.6 4.6M238.6 391.3l4.6 4.6m0 -4.6l-4.6 4.6M240.4 390.8l4.6 4.6m0 -4.6l-4.6 4.6M241.5 391.2l4.6 4.6m0 -4.6l-4.6 4.6M243.1 391.5l4.6 4.6m0 -4.6l-4.6 4.6M244.4 392.7l4.6 4.6m0 -4.6l-4.6 4.6M245.6 391.3l4.6 4.6m0 -4.6l-4.6 4.6M247.4 392.7l4.6 4.6m0 -4.6l-4.6 4.6M248.9 392.5l4.6 4.6m0 -4.6l-4.6 4.6M250 392.4l4.6 4.6m0 -4.6l-4.6 4.6M251.3 392.3l4.6 4.6m0 -4.6l-4.6 4.6M253.2 393.8l4.6 4.6m0 -4.6l-4.6 4.6M254.1 393.2l4.6 4.6m0 -4.6l-4.6 4.6M255.5 394.4l4.6 4.6m0 -4.6l-4.6 4.6M257 394.4l4.6 4.6m0 -4.6l-4.6 4.6M258.3 396.2l4.6 4.6m0 -4.6l-4.6 4.6M259.7 396l4.6 4.6m0 -4.6l-4.6 4.6M261.6 394.6l4.6 4.6m0 -4.6l-4.6 4.6M262.4 395.9l4.6 4.6m0 -4.6l-4.6 4.6M264.3 395.9l4.6 4.6m0 -4.6l-4.6 4.6M265.5 395.7l4.6 4.6m0 -4.6l-4.6 4.6M266.6 396.5l4.6 4.6m0 -4.6l-4.6 4.6M268.1 397.9l4.6 4.6m0 -4.6l-4.6 4.6M269.8 396.7l4.6 4.6m0 -4.6l-4.6 4.6M271.1 398.1l4.6 4.6m0 -4.6l-4.6 4.6M272.3 397.2l4.6 4.6m0 -4.6l-4.6 4.6M273.8 398.4l4.6 4.6m0 -4.6l-4.6 4.6M275.6 398.8l4.6 4.6m0 -4.6l-4.6 4.6M276.8 398l4.6 4.6m0 -4.6l-4.6 4.6M278.2 399.9l4.6 4.6m0 -4.6l-4.6 4.6M279.8 399.1l4.6 4.6m0 -4.6l-4.6 4.6M280.7 398.8l4.6 4.6m0 -4.6l-4.6 4.6M282.2 398.9l4.6 4.6m0 -4.6l-4.6 4.6M283.9 400.8l4.6 4.6m0 -4.6l-4.6 4.6M285.1 400.8l4.6 4.6m0 -4.6l-4.6 4.6M286.5 399.9l4.6 4.6m0 -4.6l-4.6 4.6M288.1 399.8l4.6 4.6m0 -4.6l-4.6 4.6M289.6 401l4.6 4.6m0 -4.6l-4.6 4.6M290.9 399.9l4.6 4.6m0 -4.6l-4.6 4.6M292.3 401.9l4.6 4.6m0 -4.6l-4.6 4.6M293.5 400.4l4.6 4.6m0 -4.6l-4.6 4.6M295 399.6l4.6 4.6m0 -4.6l-4.6 4.6M296.1 401.7l4.6 4.6m0 -4.6l-4.6 4.6M297.6 402.2l4.6 4.6m0 -4.6l-4.6 4.6M298.9 401.5l4.6 4.6m0 -4.6l-4.6 4.6M300.6 402.4l4.6 4.6m0 -4.6l-4.6 4.6M302.2 404.3l4.6 4.6m0 -4.6l-4.6 4.6M303.5 404.1l4.6 4.6m0 -4.6l-4.6 4.6M304.6 402.8l4.6 4.6m0 -4.6l-4.6 4.6M306.2 404.9l4.6 4.6m0 -4.6l-4.6 4.6M307.4 404.3l4.6 4.6m0 -4.6l-4.6 4.6M309.1 405.8l4.6 4.6m0 -4.6l-4.6 4.6M310.3 404.6l4.6 4.6m0 -4.6l-4.6 4.6M311.5 404.9l4.6 4.6m0 -4.6l-4.6 4.6M313 406l4.6 4.6m0 -4.6l-4.6 4.6M314.3 405.9l4.6 4.6m0 -4.6l-4.6 4.6M315.8 405.7l4.6 4.6m0 -4.6l-4.6 4.6M317.2 405.8l4.6 4.6m0 -4.6l-4.6 4.6M318.7 407.1l4.6 4.6m0 -4.6l-4.6 4.6M320.2 406.7l4.6 4.6m0 -4.6l-4.6 4.6M321.8 408.1l4.6 4.6m0 -4.6l-4.6 4.6M323.1 408.2l4.6 4.6m0 -4.6l-4.6 4.6M324.3 409.9l4.6 4.6m0 -4.6l-4.6 4.6M325.6 408.6l4.6 4.6m0 -4.6l-4.6 4.6M326.9 407.9l4.6 4.6m0 -4.6l-4.6 4.6M328.6 409.3l4.6 4.6m0 -4.6l-4.6 4.6M329.6 408.4l4.6 4.6m0 -4.6l-4.6 4.6M331 408.6l4.6 4.6m0 -4.6l-4.6 4.6M332.8 409.7l4.6 4.6m0 -4.6l-4.6 4.6M169.7 323.7l4.6 4.6m0 -4.6l-4.6 4.6M251.1 346l4.6 4.6m0 -4.6l-4.6 4.6M275.6 393.6l4.6 4.6m0 -4.6l-4.6 4.6M333.2 361.7l4.6 4.6m0 -4.6l-4.6 4.6"/>
<path fill="none" stroke="#A3BEDD" stroke-width="1.7" d="M101.4 360.3h5.2m-2.6 -2.6v5.2M103.1 359.6h5.2m-2.6 -2.6v5.2M104.3 359.7h5.2m-2.6 -2.6v5.2M105.5 361.4h5.2m-2.6 -2.6v5.2M107.2 360.3h5.2m-2.6 -2.6v5.2M108.3 361.8h5.2m-2.6 -2.6v5.2M109.5 363.3h5.2m-2.6 -2.6v5.2M110.9 362.5h5.2m-2.6 -2.6v5.2M112.9 363h5.2m-2.6 -2.6v5.2M113.8 363.3h5.2m-2.6 -2.6v5.2M115.6 362.7h5.2m-2.6 -2.6v5.2M116.5 362.6h5.2m-2.6 -2.6v5.2M118.2 365h5.2m-2.6 -2.6v5.2M119.5 365.3h5.2m-2.6 -2.6v5.2M120.9 364.8h5.2m-2.6 -2.6v5.2M122.2 365.5h5.2m-2.6 -2.6v5.2M123.7 365.2h5.2m-2.6 -2.6v5.2M125.4 365.9h5.2m-2.6 -2.6v5.2M126.6 366.7h5.2m-2.6 -2.6v5.2M127.8 367.5h5.2m-2.6 -2.6v5.2M129.6 367.1h5.2m-2.6 -2.6v5.2M131 367.4h5.2m-2.6 -2.6v5.2M132.2 369.9h5.2m-2.6 -2.6v5.2M133.5 370.2h5.2m-2.6 -2.6v5.2M134.7 370.6h5.2m-2.6 -2.6v5.2M136.1 371.4h5.2m-2.6 -2.6v5.2M137.7 371.9h5.2m-2.6 -2.6v5.2M139 371.2h5.2m-2.6 -2.6v5.2M140.9 373.1h5.2m-2.6 -2.6v5.2M142.1 372.8h5.2m-2.6 -2.6v5.2M143.3 373.3h5.2m-2.6 -2.6v5.2M144.9 373.5h5.2m-2.6 -2.6v5.2M146 375h5.2m-2.6 -2.6v5.2M147.9 375.7h5.2m-2.6 -2.6v5.2M149 376h5.2m-2.6 -2.6v5.2M150.5 375.7h5.2m-2.6 -2.6v5.2M151.6 378.2h5.2m-2.6 -2.6v5.2M153.2 377.4h5.2m-2.6 -2.6v5.2M154.7 377.7h5.2m-2.6 -2.6v5.2M155.9 378.9h5.2m-2.6 -2.6v5.2M157.1 378.2h5.2m-2.6 -2.6v5.2M158.8 380.2h5.2m-2.6 -2.6v5.2M160.4 379.9h5.2m-2.6 -2.6v5.2M161.6 380.6h5.2m-2.6 -2.6v5.2M163.3 380h5.2m-2.6 -2.6v5.2M164.4 380.5h5.2m-2.6 -2.6v5.2M166 380.5h5.2m-2.6 -2.6v5.2M166.9 380.8h5.2m-2.6 -2.6v5.2M168.7 381.5h5.2m-2.6 -2.6v5.2M170 382.7h5.2m-2.6 -2.6v5.2M171.3 382.4h5.2m-2.6 -2.6v5.2M173 383.5h5.2m-2.6 -2.6v5.2M174 382.2h5.2m-2.6 -2.6v5.2M175.6 383h5.2m-2.6 -2.6v5.2M176.9 382.8h5.2m-2.6 -2.6v5.2M178.7 385.1h5.2m-2.6 -2.6v5.2M180 383.5h5.2m-2.6 -2.6v5.2M181 384.9h5.2m-2.6 -2.6v5.2M182.4 384.9h5.2m-2.6 -2.6v5.2M183.7 384.9h5.2m-2.6 -2.6v5.2M185.2 388.7h5.2m-2.6 -2.6v5.2M187.1 387.3h5.2m-2.6 -2.6v5.2M188.4 386h5.2m-2.6 -2.6v5.2M189.8 384.9h5.2m-2.6 -2.6v5.2M190.9 387.6h5.2m-2.6 -2.6v5.2M192.4 387.7h5.2m-2.6 -2.6v5.2M193.8 388.2h5.2m-2.6 -2.6v5.2M195.4 388.6h5.2m-2.6 -2.6v5.2M196.3 389.7h5.2m-2.6 -2.6v5.2M197.8 389.7h5.2m-2.6 -2.6v5.2M199.4 389h5.2m-2.6 -2.6v5.2M200.6 390.4h5.2m-2.6 -2.6v5.2M202.5 389.7h5.2m-2.6 -2.6v5.2M203.3 391.6h5.2m-2.6 -2.6v5.2M205.3 390.9h5.2m-2.6 -2.6v5.2M206.2 390.3h5.2m-2.6 -2.6v5.2M207.6 393.8h5.2m-2.6 -2.6v5.2M209.2 391.6h5.2m-2.6 -2.6v5.2M210.7 393.2h5.2m-2.6 -2.6v5.2M212.3 393.1h5.2m-2.6 -2.6v5.2M213.4 393.8h5.2m-2.6 -2.6v5.2M215 394.2h5.2m-2.6 -2.6v5.2M216.4 396.1h5.2m-2.6 -2.6v5.2M217.9 395.1h5.2m-2.6 -2.6v5.2M218.9 395h5.2m-2.6 -2.6v5.2M220.4 394.7h5.2m-2.6 -2.6v5.2M221.5 395.4h5.2m-2.6 -2.6v5.2M223.1 395.3h5.2m-2.6 -2.6v5.2M224.5 395.7h5.2m-2.6 -2.6v5.2M225.8 396.4h5.2m-2.6 -2.6v5.2M227.6 396.6h5.2m-2.6 -2.6v5.2M228.7 396.7h5.2m-2.6 -2.6v5.2M230 398.8h5.2m-2.6 -2.6v5.2M231.4 397.4h5.2m-2.6 -2.6v5.2M232.7 397.5h5.2m-2.6 -2.6v5.2M234.6 398.7h5.2m-2.6 -2.6v5.2M235.8 398h5.2m-2.6 -2.6v5.2M237.2 398.7h5.2m-2.6 -2.6v5.2M238.5 398.9h5.2m-2.6 -2.6v5.2M240.3 400.4h5.2m-2.6 -2.6v5.2M241.3 399.8h5.2m-2.6 -2.6v5.2M242.8 399.8h5.2m-2.6 -2.6v5.2M244.3 401.7h5.2m-2.6 -2.6v5.2M245.9 401.1h5.2m-2.6 -2.6v5.2M247.2 402.2h5.2m-2.6 -2.6v5.2M248.6 401.5h5.2m-2.6 -2.6v5.2M249.6 400.2h5.2m-2.6 -2.6v5.2M251.5 402.6h5.2m-2.6 -2.6v5.2M252.8 401.8h5.2m-2.6 -2.6v5.2M253.9 404.1h5.2m-2.6 -2.6v5.2M255.6 402.6h5.2m-2.6 -2.6v5.2M257.1 404.6h5.2m-2.6 -2.6v5.2M258.3 404.3h5.2m-2.6 -2.6v5.2M259.7 404.9h5.2m-2.6 -2.6v5.2M261.2 403.9h5.2m-2.6 -2.6v5.2M262.6 404.5h5.2m-2.6 -2.6v5.2M264 405.3h5.2m-2.6 -2.6v5.2M264.9 405.3h5.2m-2.6 -2.6v5.2M266.4 405.1h5.2m-2.6 -2.6v5.2M267.8 405.4h5.2m-2.6 -2.6v5.2M269.4 407.2h5.2m-2.6 -2.6v5.2M270.5 407.7h5.2m-2.6 -2.6v5.2M272.2 406.8h5.2m-2.6 -2.6v5.2M273.9 407.8h5.2m-2.6 -2.6v5.2M275.3 408h5.2m-2.6 -2.6v5.2M276.1 407.4h5.2m-2.6 -2.6v5.2M277.9 408.2h5.2m-2.6 -2.6v5.2M279 408.7h5.2m-2.6 -2.6v5.2M280.8 408.6h5.2m-2.6 -2.6v5.2M281.7 411.6h5.2m-2.6 -2.6v5.2M283.2 409.4h5.2m-2.6 -2.6v5.2M284.7 410h5.2m-2.6 -2.6v5.2M285.9 409.6h5.2m-2.6 -2.6v5.2M287.7 410.2h5.2m-2.6 -2.6v5.2M288.8 410.1h5.2m-2.6 -2.6v5.2M290.5 411.8h5.2m-2.6 -2.6v5.2M292.1 412.1h5.2m-2.6 -2.6v5.2M293.2 411.7h5.2m-2.6 -2.6v5.2M294.6 413.5h5.2m-2.6 -2.6v5.2M296.3 411.7h5.2m-2.6 -2.6v5.2M297.3 412.6h5.2m-2.6 -2.6v5.2M299 413.1h5.2m-2.6 -2.6v5.2M300.3 414.1h5.2m-2.6 -2.6v5.2M301.3 414.4h5.2m-2.6 -2.6v5.2M302.9 415h5.2m-2.6 -2.6v5.2M304.5 415.7h5.2m-2.6 -2.6v5.2M305.5 414.2h5.2m-2.6 -2.6v5.2M307.4 415.7h5.2m-2.6 -2.6v5.2M308.8 415.7h5.2m-2.6 -2.6v5.2M310.2 416.7h5.2m-2.6 -2.6v5.2M311.6 416.7h5.2m-2.6 -2.6v5.2M312.9 416.6h5.2m-2.6 -2.6v5.2M314.4 416.2h5.2m-2.6 -2.6v5.2M315.6 417.3h5.2m-2.6 -2.6v5.2M316.9 417.9h5.2m-2.6 -2.6v5.2M318.5 418h5.2m-2.6 -2.6v5.2M319.8 418.5h5.2m-2.6 -2.6v5.2M321.1 419.4h5.2m-2.6 -2.6v5.2M322.5 419.1h5.2m-2.6 -2.6v5.2M324 420.6h5.2m-2.6 -2.6v5.2M325.3 419.8h5.2m-2.6 -2.6v5.2M327 418.6h5.2m-2.6 -2.6v5.2M328.4 420.7h5.2m-2.6 -2.6v5.2M329.8 421h5.2m-2.6 -2.6v5.2M169.4 327h5.2m-2.6 -2.6v5.2M250.8 349h5.2m-2.6 -2.6v5.2M150.1 389.2h5.2m-2.6 -2.6v5.2M164.9 394.1h5.2m-2.6 -2.6v5.2"/>
<path fill="#EA7016" d="M104.1 358.3l2.9 4.9h-5.8zM105.3 359.4l2.9 4.9h-5.8zM106.8 359.4l2.9 4.9h-5.8zM108.2 359l2.9 4.9h-5.8zM109.7 361.4l2.9 4.9h-5.8zM110.8 361.6l2.9 4.9h-5.8zM112.3 361.8l2.9 4.9h-5.8zM113.6 362.8l2.9 4.9h-5.8zM115.1 363.3l2.9 4.9h-5.8zM116.8 363.6l2.9 4.9h-5.8zM118.3 364.7l2.9 4.9h-5.8zM119.1 365.4l2.9 4.9h-5.8zM121 366.6l2.9 4.9h-5.8zM122.3 367l2.9 4.9h-5.8zM123.3 370.7l2.9 4.9h-5.8zM124.8 367.9l2.9 4.9h-5.8zM126.6 370.2l2.9 4.9h-5.8zM127.6 369.5l2.9 4.9h-5.8zM129.4 370.5l2.9 4.9h-5.8zM130.6 372.2l2.9 4.9h-5.8zM132.3 372.5l2.9 4.9h-5.8zM133.4 373.5l2.9 4.9h-5.8zM134.6 373.3l2.9 4.9h-5.8zM136.3 373.5l2.9 4.9h-5.8zM137.6 374.9l2.9 4.9h-5.8zM138.7 374.5l2.9 4.9h-5.8zM140.6 374.8l2.9 4.9h-5.8zM142 375.7l2.9 4.9h-5.8zM143.5 378.1l2.9 4.9h-5.8zM144.7 377.8l2.9 4.9h-5.8zM146 378.9l2.9 4.9h-5.8zM147.2 376.5l2.9 4.9h-5.8zM149.1 380.4l2.9 4.9h-5.8zM150.3 379.5l2.9 4.9h-5.8zM151.7 379.7l2.9 4.9h-5.8zM153.1 380.7l2.9 4.9h-5.8zM154.6 381.2l2.9 4.9h-5.8zM155.7 381.2l2.9 4.9h-5.8zM157 383.4l2.9 4.9h-5.8zM158.9 384.1l2.9 4.9h-5.8zM159.7 382.3l2.9 4.9h-5.8zM161.3 384.5l2.9 4.9h-5.8zM162.8 385.7l2.9 4.9h-5.8zM163.9 385.2l2.9 4.9h-5.8zM165.5 386.1l2.9 4.9h-5.8zM167.2 386l2.9 4.9h-5.8zM168.5 387.1l2.9 4.9h-5.8zM169.9 387.3l2.9 4.9h-5.8zM170.9 388.2l2.9 4.9h-5.8zM172.6 387.8l2.9 4.9h-5.8zM173.8 388l2.9 4.9h-5.8zM175.3 390.3l2.9 4.9h-5.8zM176.7 389.1l2.9 4.9h-5.8zM178.2 390.4l2.9 4.9h-5.8zM179.5 391.2l2.9 4.9h-5.8zM181.2 390.7l2.9 4.9h-5.8zM182.4 393.8l2.9 4.9h-5.8zM184 391.6l2.9 4.9h-5.8zM185.1 391.7l2.9 4.9h-5.8zM186.4 391.9l2.9 4.9h-5.8zM187.9 394.1l2.9 4.9h-5.8zM189.6 393l2.9 4.9h-5.8zM190.7 395l2.9 4.9h-5.8zM192.4 394.4l2.9 4.9h-5.8zM193.7 395.9l2.9 4.9h-5.8zM194.9 394.4l2.9 4.9h-5.8zM196.2 396.6l2.9 4.9h-5.8zM197.6 397.2l2.9 4.9h-5.8zM199.2 397.1l2.9 4.9h-5.8zM200.7 396.2l2.9 4.9h-5.8zM201.9 398.6l2.9 4.9h-5.8zM203.7 398.6l2.9 4.9h-5.8zM204.5 397.7l2.9 4.9h-5.8zM206.4 399.8l2.9 4.9h-5.8zM207.4 398.2l2.9 4.9h-5.8zM209.3 398.8l2.9 4.9h-5.8zM210.2 400.2l2.9 4.9h-5.8zM212.1 400.6l2.9 4.9h-5.8zM213.1 400.5l2.9 4.9h-5.8zM214.5 400.4l2.9 4.9h-5.8zM215.7 401.7l2.9 4.9h-5.8zM217.2 403l2.9 4.9h-5.8zM218.7 401.6l2.9 4.9h-5.8zM220.5 403.2l2.9 4.9h-5.8zM221.9 402.5l2.9 4.9h-5.8zM222.7 403.6l2.9 4.9h-5.8zM224.4 403.6l2.9 4.9h-5.8zM225.5 403.8l2.9 4.9h-5.8zM227 403.5l2.9 4.9h-5.8zM228.7 405.1l2.9 4.9h-5.8zM230 405.2l2.9 4.9h-5.8zM231.6 406.1l2.9 4.9h-5.8zM233 405.3l2.9 4.9h-5.8zM234 407.4l2.9 4.9h-5.8zM235.7 405.6l2.9 4.9h-5.8zM237.2 406.4l2.9 4.9h-5.8zM238.6 407.7l2.9 4.9h-5.8zM239.8 408.1l2.9 4.9h-5.8zM241.2 407.6l2.9 4.9h-5.8zM242.6 408.5l2.9 4.9h-5.8zM243.9 409.4l2.9 4.9h-5.8zM245.4 410l2.9 4.9h-5.8zM247 409.1l2.9 4.9h-5.8zM248.1 410.2l2.9 4.9h-5.8zM249.6 409.1l2.9 4.9h-5.8zM251 411.3l2.9 4.9h-5.8zM252.6 411.1l2.9 4.9h-5.8zM253.6 413.2l2.9 4.9h-5.8zM255.2 410.8l2.9 4.9h-5.8zM256.8 411.7l2.9 4.9h-5.8zM257.9 412.6l2.9 4.9h-5.8zM259.6 411.3l2.9 4.9h-5.8zM260.8 413.4l2.9 4.9h-5.8zM262 413.4l2.9 4.9h-5.8zM263.5 413.9l2.9 4.9h-5.8zM264.8 412.9l2.9 4.9h-5.8zM266.4 414.5l2.9 4.9h-5.8zM267.7 414.4l2.9 4.9h-5.8zM269.1 413.8l2.9 4.9h-5.8zM270.8 414.1l2.9 4.9h-5.8zM272.2 416l2.9 4.9h-5.8zM273.6 415.3l2.9 4.9h-5.8zM275 413.8l2.9 4.9h-5.8zM276.4 415.9l2.9 4.9h-5.8zM277.9 416.5l2.9 4.9h-5.8zM278.8 416l2.9 4.9h-5.8zM280.6 416.4l2.9 4.9h-5.8zM281.6 417.9l2.9 4.9h-5.8zM283.1 418.4l2.9 4.9h-5.8zM284.8 418.8l2.9 4.9h-5.8zM285.8 419.8l2.9 4.9h-5.8zM287.7 418.8l2.9 4.9h-5.8zM289.1 419.3l2.9 4.9h-5.8zM289.9 421.4l2.9 4.9h-5.8zM291.7 421.6l2.9 4.9h-5.8zM293.3 420.4l2.9 4.9h-5.8zM294.4 422l2.9 4.9h-5.8zM295.8 421.3l2.9 4.9h-5.8zM297.3 422.1l2.9 4.9h-5.8zM298.6 423l2.9 4.9h-5.8zM300 424.4l2.9 4.9h-5.8zM301.5 423.5l2.9 4.9h-5.8zM303.1 424.9l2.9 4.9h-5.8zM303.9 424.6l2.9 4.9h-5.8zM305.4 426.1l2.9 4.9h-5.8zM306.7 425.5l2.9 4.9h-5.8zM308.1 425l2.9 4.9h-5.8zM309.6 425l2.9 4.9h-5.8zM311.4 426.2l2.9 4.9h-5.8zM312.5 426.4l2.9 4.9h-5.8zM314.1 426.7l2.9 4.9h-5.8zM315.3 426.4l2.9 4.9h-5.8zM317.1 428.3l2.9 4.9h-5.8zM318 427.9l2.9 4.9h-5.8zM319.5 428.6l2.9 4.9h-5.8zM320.9 428.8l2.9 4.9h-5.8zM322.2 428.6l2.9 4.9h-5.8zM323.5 429.1l2.9 4.9h-5.8zM325.1 429.4l2.9 4.9h-5.8zM326.4 430.7l2.9 4.9h-5.8zM327.7 429.7l2.9 4.9h-5.8zM329.6 429.6l2.9 4.9h-5.8zM330.7 429.7l2.9 4.9h-5.8zM331.9 430.6l2.9 4.9h-5.8zM333.7 431.4l2.9 4.9h-5.8zM171.7 344.3l2.9 4.9h-5.8zM253.3 370.2l2.9 4.9h-5.8zM168.2 393.6l2.9 4.9h-5.8zM172.4 393.6l2.9 4.9h-5.8zM289.1 444.3l2.9 4.9h-5.8zM288.3 451l2.9 4.9h-5.8zM299.9 446.8l2.9 4.9h-5.8zM308.1 447.7l2.9 4.9h-5.8zM313.1 449.3l2.9 4.9h-5.8zM317.3 445.2l2.9 4.9h-5.8zM319.7 450.1l2.9 4.9h-5.8zM321.4 446.8l2.9 4.9h-5.8zM332.2 454.3l2.9 4.9h-5.8zM275.8 455l2.9 4.9h-5.8zM288.5 443.8l2.9 4.9h-5.8zM270.9 422.7l2.9 4.9h-5.8zM321 427.3l2.9 4.9h-5.8zM327 430.3l2.9 4.9h-5.8zM334.6 431.9l2.9 4.9h-5.8z"/>
<path fill="#1B5424" d="M101.8 352.9h5v5h-5zM105.3 358.2h5v5h-5zM109.1 363.2h5v5h-5zM112.7 367.7h5v5h-5zM115.9 364.1h5v5h-5zM119.3 365.9h5v5h-5zM123.4 368.8h5v5h-5zM126.5 370.4h5v5h-5zM130.1 364.5h5v5h-5zM133.9 368.6h5v5h-5zM137.2 372h5v5h-5zM141 369.1h5v5h-5zM144.4 372.3h5v5h-5zM148.2 376.2h5v5h-5zM152.2 380.5h5v5h-5zM155.8 376.4h5v5h-5zM159.4 380h5v5h-5zM162.9 383.5h5v5h-5zM166.5 387.1h5v5h-5zM169.8 383.1h5v5h-5zM173.8 386.8h5v5h-5zM176.8 390.1h5v5h-5zM180.4 384.8h5v5h-5zM184 388.4h5v5h-5zM187.8 391.3h5v5h-5zM191.1 395.8h5v5h-5zM195.2 391.9h5v5h-5zM198.4 396h5v5h-5zM202.4 399h5v5h-5zM205.9 392.1h5v5h-5zM209.6 395.2h5v5h-5zM213.2 399.7h5v5h-5zM216.9 402.3h5v5h-5zM220.3 396.4h5v5h-5zM223.9 401.1h5v5h-5zM227.3 404h5v5h-5zM231.1 408.3h5v5h-5zM234.4 403.2h5v5h-5zM238.6 407.8h5v5h-5zM242.2 411.1h5v5h-5zM245.1 407.9h5v5h-5zM248.7 412h5v5h-5zM252.6 414.7h5v5h-5zM256.3 417.8h5v5h-5zM259.9 413.6h5v5h-5zM263.3 416.1h5v5h-5zM267.2 418h5v5h-5zM270.6 413.9h5v5h-5zM274.2 416.2h5v5h-5zM277.5 418.9h5v5h-5zM281.6 422.8h5v5h-5zM284.7 419.2h5v5h-5zM289 423.1h5v5h-5zM292.3 426.1h5v5h-5zM295.8 428.5h5v5h-5zM299.6 425.3h5v5h-5zM303.4 429h5v5h-5zM306.4 431.2h5v5h-5zM310.2 426.5h5v5h-5zM314.3 431.5h5v5h-5zM317.8 434.3h5v5h-5zM321 435.3h5v5h-5zM324.6 431.1h5v5h-5zM328.5 434h5v5h-5zM331.5 436.8h5v5h-5zM335.2 440.7h5v5h-5zM339.1 436.6h5v5h-5zM342.7 439.7h5v5h-5zM346.3 443.5h5v5h-5zM350.1 440.6h5v5h-5zM353.8 444.2h5v5h-5zM357 447.1h5v5h-5zM360.5 451.6h5v5h-5zM364.6 449.2h5v5h-5zM367.7 455h5v5h-5zM371.8 460h5v5h-5zM375.2 455.1h5v5h-5zM379 459.7h5v5h-5zM382.4 462.1h5v5h-5zM385.6 467.4h5v5h-5zM389.7 463.3h5v5h-5zM393.1 465h5v5h-5zM396.4 468.4h5v5h-5zM136.2 382.5h5v5h-5zM201.5 391.3h5v5h-5zM360.3 462.8h5v5h-5zM390.1 452.8h5v5h-5zM288.4 345h5v5h-5zM317.3 375.2h5v5h-5z"/>
</g>
<g clip-path="url(#cpd)">
<path fill="#9E3A0C" d="M421.9 360.7a2.3 2.3 0 1 0 4.6 0a2.3 2.3 0 1 0 -4.6 0M423.3 361.2a2.3 2.3 0 1 0 4.6 0a2.3 2.3 0 1 0 -4.6 0M424.8 361a2.3 2.3 0 1 0 4.6 0a2.3 2.3 0 1 0 -4.6 0M426.2 361.8a2.3 2.3 0 1 0 4.6 0a2.3 2.3 0 1 0 -4.6 0M427.2 361.6a2.3 2.3 0 1 0 4.6 0a2.3 2.3 0 1 0 -4.6 0M429.2 362.3a2.3 2.3 0 1 0 4.6 0a2.3 2.3 0 1 0 -4.6 0M430.2 363a2.3 2.3 0 1 0 4.6 0a2.3 2.3 0 1 0 -4.6 0M431.7 363.9a2.3 2.3 0 1 0 4.6 0a2.3 2.3 0 1 0 -4.6 0M433.1 364a2.3 2.3 0 1 0 4.6 0a2.3 2.3 0 1 0 -4.6 0M434.7 363.7a2.3 2.3 0 1 0 4.6 0a2.3 2.3 0 1 0 -4.6 0M435.6 366.1a2.3 2.3 0 1 0 4.6 0a2.3 2.3 0 1 0 -4.6 0M437.5 367.1a2.3 2.3 0 1 0 4.6 0a2.3 2.3 0 1 0 -4.6 0M438.8 368.6a2.3 2.3 0 1 0 4.6 0a2.3 2.3 0 1 0 -4.6 0M440.1 370.1a2.3 2.3 0 1 0 4.6 0a2.3 2.3 0 1 0 -4.6 0M441.4 371.9a2.3 2.3 0 1 0 4.6 0a2.3 2.3 0 1 0 -4.6 0M442.9 372.4a2.3 2.3 0 1 0 4.6 0a2.3 2.3 0 1 0 -4.6 0M444.4 375.2a2.3 2.3 0 1 0 4.6 0a2.3 2.3 0 1 0 -4.6 0M445.7 376a2.3 2.3 0 1 0 4.6 0a2.3 2.3 0 1 0 -4.6 0M447.4 376.9a2.3 2.3 0 1 0 4.6 0a2.3 2.3 0 1 0 -4.6 0M448.5 378.4a2.3 2.3 0 1 0 4.6 0a2.3 2.3 0 1 0 -4.6 0M449.9 380.8a2.3 2.3 0 1 0 4.6 0a2.3 2.3 0 1 0 -4.6 0M451.5 381.1a2.3 2.3 0 1 0 4.6 0a2.3 2.3 0 1 0 -4.6 0M452.4 381.8a2.3 2.3 0 1 0 4.6 0a2.3 2.3 0 1 0 -4.6 0M454.3 384.9a2.3 2.3 0 1 0 4.6 0a2.3 2.3 0 1 0 -4.6 0M455.5 386.1a2.3 2.3 0 1 0 4.6 0a2.3 2.3 0 1 0 -4.6 0M456.7 385a2.3 2.3 0 1 0 4.6 0a2.3 2.3 0 1 0 -4.6 0M458.4 387.8a2.3 2.3 0 1 0 4.6 0a2.3 2.3 0 1 0 -4.6 0M459.6 389.1a2.3 2.3 0 1 0 4.6 0a2.3 2.3 0 1 0 -4.6 0M461.1 388.5a2.3 2.3 0 1 0 4.6 0a2.3 2.3 0 1 0 -4.6 0M462.5 390.5a2.3 2.3 0 1 0 4.6 0a2.3 2.3 0 1 0 -4.6 0M464.2 389.4a2.3 2.3 0 1 0 4.6 0a2.3 2.3 0 1 0 -4.6 0M465.4 390.3a2.3 2.3 0 1 0 4.6 0a2.3 2.3 0 1 0 -4.6 0M466.7 391.1a2.3 2.3 0 1 0 4.6 0a2.3 2.3 0 1 0 -4.6 0M468.2 392.3a2.3 2.3 0 1 0 4.6 0a2.3 2.3 0 1 0 -4.6 0M469.6 393.5a2.3 2.3 0 1 0 4.6 0a2.3 2.3 0 1 0 -4.6 0M470.7 392.7a2.3 2.3 0 1 0 4.6 0a2.3 2.3 0 1 0 -4.6 0M471.3 379.9a2.3 2.3 0 1 0 4.6 0a2.3 2.3 0 1 0 -4.6 0M472.7 383.1a2.3 2.3 0 1 0 4.6 0a2.3 2.3 0 1 0 -4.6 0M474.1 387.7a2.3 2.3 0 1 0 4.6 0a2.3 2.3 0 1 0 -4.6 0M475.4 390.4a2.3 2.3 0 1 0 4.6 0a2.3 2.3 0 1 0 -4.6 0M476.7 393.8a2.3 2.3 0 1 0 4.6 0a2.3 2.3 0 1 0 -4.6 0M478.3 395.7a2.3 2.3 0 1 0 4.6 0a2.3 2.3 0 1 0 -4.6 0M479.2 397.5a2.3 2.3 0 1 0 4.6 0a2.3 2.3 0 1 0 -4.6 0M480.6 398a2.3 2.3 0 1 0 4.6 0a2.3 2.3 0 1 0 -4.6 0M482.5 399.3a2.3 2.3 0 1 0 4.6 0a2.3 2.3 0 1 0 -4.6 0M483.8 401.3a2.3 2.3 0 1 0 4.6 0a2.3 2.3 0 1 0 -4.6 0M485.1 403.3a2.3 2.3 0 1 0 4.6 0a2.3 2.3 0 1 0 -4.6 0M486.4 405a2.3 2.3 0 1 0 4.6 0a2.3 2.3 0 1 0 -4.6 0M488.2 407.2a2.3 2.3 0 1 0 4.6 0a2.3 2.3 0 1 0 -4.6 0M489.4 409.1a2.3 2.3 0 1 0 4.6 0a2.3 2.3 0 1 0 -4.6 0M490.6 409.8a2.3 2.3 0 1 0 4.6 0a2.3 2.3 0 1 0 -4.6 0M492.3 410a2.3 2.3 0 1 0 4.6 0a2.3 2.3 0 1 0 -4.6 0M493.6 412.2a2.3 2.3 0 1 0 4.6 0a2.3 2.3 0 1 0 -4.6 0M495.1 411.7a2.3 2.3 0 1 0 4.6 0a2.3 2.3 0 1 0 -4.6 0M496.7 412.2a2.3 2.3 0 1 0 4.6 0a2.3 2.3 0 1 0 -4.6 0M497.8 413.6a2.3 2.3 0 1 0 4.6 0a2.3 2.3 0 1 0 -4.6 0M498.9 412.7a2.3 2.3 0 1 0 4.6 0a2.3 2.3 0 1 0 -4.6 0M500.4 413.6a2.3 2.3 0 1 0 4.6 0a2.3 2.3 0 1 0 -4.6 0M501.9 413.1a2.3 2.3 0 1 0 4.6 0a2.3 2.3 0 1 0 -4.6 0M503.3 413.7a2.3 2.3 0 1 0 4.6 0a2.3 2.3 0 1 0 -4.6 0M504.8 415a2.3 2.3 0 1 0 4.6 0a2.3 2.3 0 1 0 -4.6 0M506.3 414.7a2.3 2.3 0 1 0 4.6 0a2.3 2.3 0 1 0 -4.6 0M507.6 415.5a2.3 2.3 0 1 0 4.6 0a2.3 2.3 0 1 0 -4.6 0M508.7 415.1a2.3 2.3 0 1 0 4.6 0a2.3 2.3 0 1 0 -4.6 0M510.1 416.1a2.3 2.3 0 1 0 4.6 0a2.3 2.3 0 1 0 -4.6 0M511.5 417.1a2.3 2.3 0 1 0 4.6 0a2.3 2.3 0 1 0 -4.6 0M513.3 416.6a2.3 2.3 0 1 0 4.6 0a2.3 2.3 0 1 0 -4.6 0M514.5 417.2a2.3 2.3 0 1 0 4.6 0a2.3 2.3 0 1 0 -4.6 0M516 417.8a2.3 2.3 0 1 0 4.6 0a2.3 2.3 0 1 0 -4.6 0M517.3 419.6a2.3 2.3 0 1 0 4.6 0a2.3 2.3 0 1 0 -4.6 0M518.9 419a2.3 2.3 0 1 0 4.6 0a2.3 2.3 0 1 0 -4.6 0M520.5 418.7a2.3 2.3 0 1 0 4.6 0a2.3 2.3 0 1 0 -4.6 0M521.7 419.9a2.3 2.3 0 1 0 4.6 0a2.3 2.3 0 1 0 -4.6 0M522.8 420.4a2.3 2.3 0 1 0 4.6 0a2.3 2.3 0 1 0 -4.6 0M524.5 420.8a2.3 2.3 0 1 0 4.6 0a2.3 2.3 0 1 0 -4.6 0M525.6 421.5a2.3 2.3 0 1 0 4.6 0a2.3 2.3 0 1 0 -4.6 0M527.3 421.4a2.3 2.3 0 1 0 4.6 0a2.3 2.3 0 1 0 -4.6 0M528.6 420.7a2.3 2.3 0 1 0 4.6 0a2.3 2.3 0 1 0 -4.6 0M529.7 423.2a2.3 2.3 0 1 0 4.6 0a2.3 2.3 0 1 0 -4.6 0M531.2 422.6a2.3 2.3 0 1 0 4.6 0a2.3 2.3 0 1 0 -4.6 0M532.6 422.7a2.3 2.3 0 1 0 4.6 0a2.3 2.3 0 1 0 -4.6 0M534.1 422.3a2.3 2.3 0 1 0 4.6 0a2.3 2.3 0 1 0 -4.6 0M535.8 422.8a2.3 2.3 0 1 0 4.6 0a2.3 2.3 0 1 0 -4.6 0M537.1 424a2.3 2.3 0 1 0 4.6 0a2.3 2.3 0 1 0 -4.6 0M538.4 424.7a2.3 2.3 0 1 0 4.6 0a2.3 2.3 0 1 0 -4.6 0M539.7 422a2.3 2.3 0 1 0 4.6 0a2.3 2.3 0 1 0 -4.6 0M540.9 425.4a2.3 2.3 0 1 0 4.6 0a2.3 2.3 0 1 0 -4.6 0M542.4 425.2a2.3 2.3 0 1 0 4.6 0a2.3 2.3 0 1 0 -4.6 0M544.2 426a2.3 2.3 0 1 0 4.6 0a2.3 2.3 0 1 0 -4.6 0M545.3 426.7a2.3 2.3 0 1 0 4.6 0a2.3 2.3 0 1 0 -4.6 0M546.7 425.6a2.3 2.3 0 1 0 4.6 0a2.3 2.3 0 1 0 -4.6 0M548.5 427.4a2.3 2.3 0 1 0 4.6 0a2.3 2.3 0 1 0 -4.6 0M549.4 429a2.3 2.3 0 1 0 4.6 0a2.3 2.3 0 1 0 -4.6 0M551.2 427.7a2.3 2.3 0 1 0 4.6 0a2.3 2.3 0 1 0 -4.6 0M552.3 427.7a2.3 2.3 0 1 0 4.6 0a2.3 2.3 0 1 0 -4.6 0M553.7 428.8a2.3 2.3 0 1 0 4.6 0a2.3 2.3 0 1 0 -4.6 0M555.1 429.2a2.3 2.3 0 1 0 4.6 0a2.3 2.3 0 1 0 -4.6 0M556.5 428.1a2.3 2.3 0 1 0 4.6 0a2.3 2.3 0 1 0 -4.6 0M557.9 429.9a2.3 2.3 0 1 0 4.6 0a2.3 2.3 0 1 0 -4.6 0M559.3 430.8a2.3 2.3 0 1 0 4.6 0a2.3 2.3 0 1 0 -4.6 0M560.8 431.4a2.3 2.3 0 1 0 4.6 0a2.3 2.3 0 1 0 -4.6 0M562.2 432.1a2.3 2.3 0 1 0 4.6 0a2.3 2.3 0 1 0 -4.6 0M563.3 432.6a2.3 2.3 0 1 0 4.6 0a2.3 2.3 0 1 0 -4.6 0M564.9 430.9a2.3 2.3 0 1 0 4.6 0a2.3 2.3 0 1 0 -4.6 0M566.6 433.3a2.3 2.3 0 1 0 4.6 0a2.3 2.3 0 1 0 -4.6 0M568 433.7a2.3 2.3 0 1 0 4.6 0a2.3 2.3 0 1 0 -4.6 0M569 434.3a2.3 2.3 0 1 0 4.6 0a2.3 2.3 0 1 0 -4.6 0M570.4 434.3a2.3 2.3 0 1 0 4.6 0a2.3 2.3 0 1 0 -4.6 0M572.1 435.1a2.3 2.3 0 1 0 4.6 0a2.3 2.3 0 1 0 -4.6 0M573.5 435.5a2.3 2.3 0 1 0 4.6 0a2.3 2.3 0 1 0 -4.6 0M574.5 434.2a2.3 2.3 0 1 0 4.6 0a2.3 2.3 0 1 0 -4.6 0M576.1 434.7a2.3 2.3 0 1 0 4.6 0a2.3 2.3 0 1 0 -4.6 0M577.6 436.3a2.3 2.3 0 1 0 4.6 0a2.3 2.3 0 1 0 -4.6 0M579.1 437.6a2.3 2.3 0 1 0 4.6 0a2.3 2.3 0 1 0 -4.6 0M580.4 438.6a2.3 2.3 0 1 0 4.6 0a2.3 2.3 0 1 0 -4.6 0M581.9 437.9a2.3 2.3 0 1 0 4.6 0a2.3 2.3 0 1 0 -4.6 0M583.4 439.3a2.3 2.3 0 1 0 4.6 0a2.3 2.3 0 1 0 -4.6 0M584.8 439.2a2.3 2.3 0 1 0 4.6 0a2.3 2.3 0 1 0 -4.6 0M585.8 440.4a2.3 2.3 0 1 0 4.6 0a2.3 2.3 0 1 0 -4.6 0M587.6 440.4a2.3 2.3 0 1 0 4.6 0a2.3 2.3 0 1 0 -4.6 0M588.6 442.3a2.3 2.3 0 1 0 4.6 0a2.3 2.3 0 1 0 -4.6 0M589.9 441.4a2.3 2.3 0 1 0 4.6 0a2.3 2.3 0 1 0 -4.6 0M591.8 442.6a2.3 2.3 0 1 0 4.6 0a2.3 2.3 0 1 0 -4.6 0M593.2 441.7a2.3 2.3 0 1 0 4.6 0a2.3 2.3 0 1 0 -4.6 0"/>
<path fill="#FDBB47" d="M424.4 359.1l2.7 2.7 -2.7 2.7 -2.7 -2.7zM425.5 357.8l2.7 2.7 -2.7 2.7 -2.7 -2.7zM427 359.5l2.7 2.7 -2.7 2.7 -2.7 -2.7zM428.4 358.6l2.7 2.7 -2.7 2.7 -2.7 -2.7zM429.7 358.8l2.7 2.7 -2.7 2.7 -2.7 -2.7zM431.4 360.1l2.7 2.7 -2.7 2.7 -2.7 -2.7zM432.6 359.8l2.7 2.7 -2.7 2.7 -2.7 -2.7zM433.9 359.3l2.7 2.7 -2.7 2.7 -2.7 -2.7zM435.2 361.1l2.7 2.7 -2.7 2.7 -2.7 -2.7zM436.7 360.7l2.7 2.7 -2.7 2.7 -2.7 -2.7zM438 361l2.7 2.7 -2.7 2.7 -2.7 -2.7zM439.7 361.9l2.7 2.7 -2.7 2.7 -2.7 -2.7zM441.1 364.3l2.7 2.7 -2.7 2.7 -2.7 -2.7zM442.5 365.3l2.7 2.7 -2.7 2.7 -2.7 -2.7zM443.9 365.5l2.7 2.7 -2.7 2.7 -2.7 -2.7zM445.3 368.7l2.7 2.7 -2.7 2.7 -2.7 -2.7zM446.6 369.4l2.7 2.7 -2.7 2.7 -2.7 -2.7zM447.8 370.2l2.7 2.7 -2.7 2.7 -2.7 -2.7zM449.5 370.6l2.7 2.7 -2.7 2.7 -2.7 -2.7zM450.5 372l2.7 2.7 -2.7 2.7 -2.7 -2.7zM452.2 373.3l2.7 2.7 -2.7 2.7 -2.7 -2.7zM453.4 375.7l2.7 2.7 -2.7 2.7 -2.7 -2.7zM455.1 376.4l2.7 2.7 -2.7 2.7 -2.7 -2.7zM456.5 376.9l2.7 2.7 -2.7 2.7 -2.7 -2.7zM457.7 379.2l2.7 2.7 -2.7 2.7 -2.7 -2.7zM459.3 379.8l2.7 2.7 -2.7 2.7 -2.7 -2.7zM460.7 379.8l2.7 2.7 -2.7 2.7 -2.7 -2.7zM462 381.8l2.7 2.7 -2.7 2.7 -2.7 -2.7zM463.3 382.5l2.7 2.7 -2.7 2.7 -2.7 -2.7zM464.6 384.3l2.7 2.7 -2.7 2.7 -2.7 -2.7zM466.4 384.7l2.7 2.7 -2.7 2.7 -2.7 -2.7zM467.4 387.1l2.7 2.7 -2.7 2.7 -2.7 -2.7zM468.8 387.5l2.7 2.7 -2.7 2.7 -2.7 -2.7zM470.6 388.9l2.7 2.7 -2.7 2.7 -2.7 -2.7zM471.5 389.3l2.7 2.7 -2.7 2.7 -2.7 -2.7zM473 391.3l2.7 2.7 -2.7 2.7 -2.7 -2.7zM474.5 391.6l2.7 2.7 -2.7 2.7 -2.7 -2.7zM475.8 393.9l2.7 2.7 -2.7 2.7 -2.7 -2.7zM477.1 392.1l2.7 2.7 -2.7 2.7 -2.7 -2.7zM479 394.6l2.7 2.7 -2.7 2.7 -2.7 -2.7zM480 394.9l2.7 2.7 -2.7 2.7 -2.7 -2.7zM481.8 395.8l2.7 2.7 -2.7 2.7 -2.7 -2.7zM482.7 395.8l2.7 2.7 -2.7 2.7 -2.7 -2.7zM484.3 397l2.7 2.7 -2.7 2.7 -2.7 -2.7zM485.8 397.3l2.7 2.7 -2.7 2.7 -2.7 -2.7zM487 399.1l2.7 2.7 -2.7 2.7 -2.7 -2.7zM488.6 400l2.7 2.7 -2.7 2.7 -2.7 -2.7zM490 400.8l2.7 2.7 -2.7 2.7 -2.7 -2.7zM491.5 401.6l2.7 2.7 -2.7 2.7 -2.7 -2.7zM493.1 400.9l2.7 2.7 -2.7 2.7 -2.7 -2.7zM494.1 402l2.7 2.7 -2.7 2.7 -2.7 -2.7zM495.8 403.1l2.7 2.7 -2.7 2.7 -2.7 -2.7zM496.8 402.6l2.7 2.7 -2.7 2.7 -2.7 -2.7zM498.5 403.2l2.7 2.7 -2.7 2.7 -2.7 -2.7zM499.8 403.9l2.7 2.7 -2.7 2.7 -2.7 -2.7zM501.4 403.1l2.7 2.7 -2.7 2.7 -2.7 -2.7zM502.6 405.3l2.7 2.7 -2.7 2.7 -2.7 -2.7zM504.2 404.9l2.7 2.7 -2.7 2.7 -2.7 -2.7zM505.2 406.1l2.7 2.7 -2.7 2.7 -2.7 -2.7zM506.7 405.2l2.7 2.7 -2.7 2.7 -2.7 -2.7zM508.2 406.5l2.7 2.7 -2.7 2.7 -2.7 -2.7zM509.7 407.2l2.7 2.7 -2.7 2.7 -2.7 -2.7zM510.9 408.1l2.7 2.7 -2.7 2.7 -2.7 -2.7zM512.6 408.8l2.7 2.7 -2.7 2.7 -2.7 -2.7zM513.7 408.7l2.7 2.7 -2.7 2.7 -2.7 -2.7zM515.5 409.9l2.7 2.7 -2.7 2.7 -2.7 -2.7zM516.9 408.9l2.7 2.7 -2.7 2.7 -2.7 -2.7zM517.7 409.8l2.7 2.7 -2.7 2.7 -2.7 -2.7zM519.5 411.1l2.7 2.7 -2.7 2.7 -2.7 -2.7zM521 410.5l2.7 2.7 -2.7 2.7 -2.7 -2.7zM521.9 411.1l2.7 2.7 -2.7 2.7 -2.7 -2.7zM523.7 411.2l2.7 2.7 -2.7 2.7 -2.7 -2.7zM525 412.5l2.7 2.7 -2.7 2.7 -2.7 -2.7zM526.4 412.2l2.7 2.7 -2.7 2.7 -2.7 -2.7zM527.7 412.3l2.7 2.7 -2.7 2.7 -2.7 -2.7zM529.3 411.4l2.7 2.7 -2.7 2.7 -2.7 -2.7zM530.4 412.5l2.7 2.7 -2.7 2.7 -2.7 -2.7zM531.8 413.6l2.7 2.7 -2.7 2.7 -2.7 -2.7zM533.3 412.6l2.7 2.7 -2.7 2.7 -2.7 -2.7zM535.1 414.2l2.7 2.7 -2.7 2.7 -2.7 -2.7zM536.1 414.9l2.7 2.7 -2.7 2.7 -2.7 -2.7zM537.4 414.8l2.7 2.7 -2.7 2.7 -2.7 -2.7zM538.9 415l2.7 2.7 -2.7 2.7 -2.7 -2.7zM540.6 414.3l2.7 2.7 -2.7 2.7 -2.7 -2.7zM541.9 414.3l2.7 2.7 -2.7 2.7 -2.7 -2.7zM543.3 416.4l2.7 2.7 -2.7 2.7 -2.7 -2.7zM544.8 415.7l2.7 2.7 -2.7 2.7 -2.7 -2.7zM545.9 417.2l2.7 2.7 -2.7 2.7 -2.7 -2.7zM547.3 417.1l2.7 2.7 -2.7 2.7 -2.7 -2.7zM549 418.1l2.7 2.7 -2.7 2.7 -2.7 -2.7zM550.1 416.5l2.7 2.7 -2.7 2.7 -2.7 -2.7zM551.6 418.6l2.7 2.7 -2.7 2.7 -2.7 -2.7zM553.2 418.9l2.7 2.7 -2.7 2.7 -2.7 -2.7zM554.5 419l2.7 2.7 -2.7 2.7 -2.7 -2.7zM556 418.5l2.7 2.7 -2.7 2.7 -2.7 -2.7zM556.9 419l2.7 2.7 -2.7 2.7 -2.7 -2.7zM558.7 421l2.7 2.7 -2.7 2.7 -2.7 -2.7zM560 420.2l2.7 2.7 -2.7 2.7 -2.7 -2.7zM561.3 421.5l2.7 2.7 -2.7 2.7 -2.7 -2.7zM562.7 422.4l2.7 2.7 -2.7 2.7 -2.7 -2.7zM564.1 421.1l2.7 2.7 -2.7 2.7 -2.7 -2.7zM565.8 421.2l2.7 2.7 -2.7 2.7 -2.7 -2.7zM567 421.6l2.7 2.7 -2.7 2.7 -2.7 -2.7zM568.2 422.9l2.7 2.7 -2.7 2.7 -2.7 -2.7zM569.9 424.1l2.7 2.7 -2.7 2.7 -2.7 -2.7zM571.4 424.5l2.7 2.7 -2.7 2.7 -2.7 -2.7zM572.5 424.2l2.7 2.7 -2.7 2.7 -2.7 -2.7zM573.8 424.5l2.7 2.7 -2.7 2.7 -2.7 -2.7zM575.5 424.3l2.7 2.7 -2.7 2.7 -2.7 -2.7zM576.9 424.8l2.7 2.7 -2.7 2.7 -2.7 -2.7zM578.3 425.3l2.7 2.7 -2.7 2.7 -2.7 -2.7zM579.3 427.5l2.7 2.7 -2.7 2.7 -2.7 -2.7zM580.8 426.7l2.7 2.7 -2.7 2.7 -2.7 -2.7zM582.7 427l2.7 2.7 -2.7 2.7 -2.7 -2.7zM583.8 427.7l2.7 2.7 -2.7 2.7 -2.7 -2.7zM585.1 428.2l2.7 2.7 -2.7 2.7 -2.7 -2.7zM586.3 428.6l2.7 2.7 -2.7 2.7 -2.7 -2.7zM588 430.2l2.7 2.7 -2.7 2.7 -2.7 -2.7zM589.3 429.6l2.7 2.7 -2.7 2.7 -2.7 -2.7zM590.6 429.8l2.7 2.7 -2.7 2.7 -2.7 -2.7zM592.3 430.5l2.7 2.7 -2.7 2.7 -2.7 -2.7zM593.4 431.1l2.7 2.7 -2.7 2.7 -2.7 -2.7zM491.7 371.4l2.7 2.7 -2.7 2.7 -2.7 -2.7zM473.4 396.1l2.7 2.7 -2.7 2.7 -2.7 -2.7zM573.1 396.8l2.7 2.7 -2.7 2.7 -2.7 -2.7z"/>
<path fill="none" stroke="#A3BEDD" stroke-width="1.7" d="M421.5 359.4h5.2m-2.6 -2.6v5.2M423.2 359.6h5.2m-2.6 -2.6v5.2M424.1 359h5.2m-2.6 -2.6v5.2M426 358.9h5.2m-2.6 -2.6v5.2M427.3 357.7h5.2m-2.6 -2.6v5.2M428.5 356.9h5.2m-2.6 -2.6v5.2M429.8 356.7h5.2m-2.6 -2.6v5.2M431.4 356.8h5.2m-2.6 -2.6v5.2M433 356.6h5.2m-2.6 -2.6v5.2M434 356h5.2m-2.6 -2.6v5.2M435.4 356.8h5.2m-2.6 -2.6v5.2M437 355.3h5.2m-2.6 -2.6v5.2M438.6 354.6h5.2m-2.6 -2.6v5.2M439.8 355.6h5.2m-2.6 -2.6v5.2M441.1 355.8h5.2m-2.6 -2.6v5.2M442.9 356.4h5.2m-2.6 -2.6v5.2M444 356.1h5.2m-2.6 -2.6v5.2M445.6 355.1h5.2m-2.6 -2.6v5.2M446.9 356.3h5.2m-2.6 -2.6v5.2M448.2 355.8h5.2m-2.6 -2.6v5.2M449.6 356.1h5.2m-2.6 -2.6v5.2M451.1 357.5h5.2m-2.6 -2.6v5.2M452.6 358.1h5.2m-2.6 -2.6v5.2M453.6 358.1h5.2m-2.6 -2.6v5.2M455.1 356.9h5.2m-2.6 -2.6v5.2M456.4 357.5h5.2m-2.6 -2.6v5.2M458.2 359.9h5.2m-2.6 -2.6v5.2M459.3 358.5h5.2m-2.6 -2.6v5.2M460.8 357.5h5.2m-2.6 -2.6v5.2M462.2 358.5h5.2m-2.6 -2.6v5.2M463.9 359.8h5.2m-2.6 -2.6v5.2M464.7 359.4h5.2m-2.6 -2.6v5.2M466.2 359.5h5.2m-2.6 -2.6v5.2M468 360.5h5.2m-2.6 -2.6v5.2M469.2 361.7h5.2m-2.6 -2.6v5.2M470.5 362.6h5.2m-2.6 -2.6v5.2M472.3 363h5.2m-2.6 -2.6v5.2M473.2 363h5.2m-2.6 -2.6v5.2M474.5 363.4h5.2m-2.6 -2.6v5.2M476.4 363.6h5.2m-2.6 -2.6v5.2M477.8 364.5h5.2m-2.6 -2.6v5.2M479 364.6h5.2m-2.6 -2.6v5.2M480.3 365h5.2m-2.6 -2.6v5.2M482 365.8h5.2m-2.6 -2.6v5.2M483 364.4h5.2m-2.6 -2.6v5.2M484.6 364.6h5.2m-2.6 -2.6v5.2M485.8 366h5.2m-2.6 -2.6v5.2M487.3 366.2h5.2m-2.6 -2.6v5.2M488.5 367.6h5.2m-2.6 -2.6v5.2M490.2 366.6h5.2m-2.6 -2.6v5.2M491.6 367.8h5.2m-2.6 -2.6v5.2M493.3 368.1h5.2m-2.6 -2.6v5.2M494.3 367.5h5.2m-2.6 -2.6v5.2M495.8 365.6h5.2m-2.6 -2.6v5.2M497 368.6h5.2m-2.6 -2.6v5.2M498.5 368.4h5.2m-2.6 -2.6v5.2M499.8 368.8h5.2m-2.6 -2.6v5.2M501.7 369.7h5.2m-2.6 -2.6v5.2M502.6 368.8h5.2m-2.6 -2.6v5.2M504.3 369.6h5.2m-2.6 -2.6v5.2M505.8 371.1h5.2m-2.6 -2.6v5.2M507.3 371.1h5.2m-2.6 -2.6v5.2M508.5 371.7h5.2m-2.6 -2.6v5.2M509.6 371.2h5.2m-2.6 -2.6v5.2M511.5 372.4h5.2m-2.6 -2.6v5.2M512.6 373.4h5.2m-2.6 -2.6v5.2M514 372h5.2m-2.6 -2.6v5.2M515.6 372.4h5.2m-2.6 -2.6v5.2M516.5 373.2h5.2m-2.6 -2.6v5.2M518.3 375.4h5.2m-2.6 -2.6v5.2M519.8 374.4h5.2m-2.6 -2.6v5.2M521.1 374.3h5.2m-2.6 -2.6v5.2M522.2 375.6h5.2m-2.6 -2.6v5.2M524 376.1h5.2m-2.6 -2.6v5.2M525 374.3h5.2m-2.6 -2.6v5.2M526.5 375.3h5.2m-2.6 -2.6v5.2M528.2 377.2h5.2m-2.6 -2.6v5.2M529.7 375.5h5.2m-2.6 -2.6v5.2M530.7 376.5h5.2m-2.6 -2.6v5.2M532.2 376.3h5.2m-2.6 -2.6v5.2M533.8 378.4h5.2m-2.6 -2.6v5.2M535 378.2h5.2m-2.6 -2.6v5.2M536.2 375.5h5.2m-2.6 -2.6v5.2M537.7 377.7h5.2m-2.6 -2.6v5.2M539.3 379.7h5.2m-2.6 -2.6v5.2M540.7 378.1h5.2m-2.6 -2.6v5.2M541.9 379.7h5.2m-2.6 -2.6v5.2M543.2 379.8h5.2m-2.6 -2.6v5.2M545 380h5.2m-2.6 -2.6v5.2M546.1 380.7h5.2m-2.6 -2.6v5.2M547.4 380.3h5.2m-2.6 -2.6v5.2M548.9 381.2h5.2m-2.6 -2.6v5.2M550.2 380.5h5.2m-2.6 -2.6v5.2M551.6 381.7h5.2m-2.6 -2.6v5.2M553.1 382.8h5.2m-2.6 -2.6v5.2M554.4 381.3h5.2m-2.6 -2.6v5.2M556.1 381.8h5.2m-2.6 -2.6v5.2M557.2 381.5h5.2m-2.6 -2.6v5.2M558.7 383.6h5.2m-2.6 -2.6v5.2M560.5 383.6h5.2m-2.6 -2.6v5.2M561.6 382.9h5.2m-2.6 -2.6v5.2M563.2 384.9h5.2m-2.6 -2.6v5.2M564.2 383.8h5.2m-2.6 -2.6v5.2M566 385.7h5.2m-2.6 -2.6v5.2M567 384.2h5.2m-2.6 -2.6v5.2M568.9 385h5.2m-2.6 -2.6v5.2M570.3 386.2h5.2m-2.6 -2.6v5.2M571.5 385.5h5.2m-2.6 -2.6v5.2M572.6 386.4h5.2m-2.6 -2.6v5.2M574.4 387.4h5.2m-2.6 -2.6v5.2M575.8 386.2h5.2m-2.6 -2.6v5.2M577.1 387.4h5.2m-2.6 -2.6v5.2M578.6 388.1h5.2m-2.6 -2.6v5.2M579.7 389.1h5.2m-2.6 -2.6v5.2M581.4 388.9h5.2m-2.6 -2.6v5.2M582.4 388h5.2m-2.6 -2.6v5.2M584 389.3h5.2m-2.6 -2.6v5.2M585.3 390.5h5.2m-2.6 -2.6v5.2M586.6 387.7h5.2m-2.6 -2.6v5.2M588.1 389.4h5.2m-2.6 -2.6v5.2M589.8 389.7h5.2m-2.6 -2.6v5.2M590.7 391.8h5.2m-2.6 -2.6v5.2M592.4 392.4h5.2m-2.6 -2.6v5.2M593.8 391.8h5.2m-2.6 -2.6v5.2M595 391.8h5.2m-2.6 -2.6v5.2M596.4 392.4h5.2m-2.6 -2.6v5.2M598 392.2h5.2m-2.6 -2.6v5.2M599.3 393.1h5.2m-2.6 -2.6v5.2M600.7 393.5h5.2m-2.6 -2.6v5.2M602.1 393.9h5.2m-2.6 -2.6v5.2M603.4 393.3h5.2m-2.6 -2.6v5.2M605.1 395.5h5.2m-2.6 -2.6v5.2M606.7 395.1h5.2m-2.6 -2.6v5.2M607.7 395.3h5.2m-2.6 -2.6v5.2M609.1 395.3h5.2m-2.6 -2.6v5.2M610.7 394.7h5.2m-2.6 -2.6v5.2M611.9 396.2h5.2m-2.6 -2.6v5.2M613.2 396.1h5.2m-2.6 -2.6v5.2M614.9 397h5.2m-2.6 -2.6v5.2M616.1 397.9h5.2m-2.6 -2.6v5.2M617.3 396.3h5.2m-2.6 -2.6v5.2M618.9 396.9h5.2m-2.6 -2.6v5.2M620.6 397.6h5.2m-2.6 -2.6v5.2M621.5 398.3h5.2m-2.6 -2.6v5.2M623.4 399.2h5.2m-2.6 -2.6v5.2M624.7 399.3h5.2m-2.6 -2.6v5.2M626.2 399.2h5.2m-2.6 -2.6v5.2M627.4 398.8h5.2m-2.6 -2.6v5.2M628.9 399.8h5.2m-2.6 -2.6v5.2M630.4 399.9h5.2m-2.6 -2.6v5.2M631.4 399.5h5.2m-2.6 -2.6v5.2M632.8 401.6h5.2m-2.6 -2.6v5.2M634.4 401.7h5.2m-2.6 -2.6v5.2M635.8 401.6h5.2m-2.6 -2.6v5.2M637.2 401.1h5.2m-2.6 -2.6v5.2M638.5 402.1h5.2m-2.6 -2.6v5.2M640.3 401.9h5.2m-2.6 -2.6v5.2M641.5 402.9h5.2m-2.6 -2.6v5.2M642.9 401.8h5.2m-2.6 -2.6v5.2M643.9 402.2h5.2m-2.6 -2.6v5.2M645.5 403.6h5.2m-2.6 -2.6v5.2M646.9 404.7h5.2m-2.6 -2.6v5.2M648.7 404.3h5.2m-2.6 -2.6v5.2M649.6 405h5.2m-2.6 -2.6v5.2M489.1 326.3h5.2m-2.6 -2.6v5.2M570.5 348.3h5.2m-2.6 -2.6v5.2"/>
<path fill="none" stroke="#1A72B6" stroke-width="1.6" d="M421.8 353.4l4.6 4.6m0 -4.6l-4.6 4.6M423.5 354.2l4.6 4.6m0 -4.6l-4.6 4.6M425 353.5l4.6 4.6m0 -4.6l-4.6 4.6M426.2 351.5l4.6 4.6m0 -4.6l-4.6 4.6M427.3 351.5l4.6 4.6m0 -4.6l-4.6 4.6M429.2 349.1l4.6 4.6m0 -4.6l-4.6 4.6M430 347.8l4.6 4.6m0 -4.6l-4.6 4.6M431.4 347.8l4.6 4.6m0 -4.6l-4.6 4.6M433.2 346.2l4.6 4.6m0 -4.6l-4.6 4.6M434.8 345.9l4.6 4.6m0 -4.6l-4.6 4.6M436 345l4.6 4.6m0 -4.6l-4.6 4.6M437.5 346.3l4.6 4.6m0 -4.6l-4.6 4.6M438.8 345.4l4.6 4.6m0 -4.6l-4.6 4.6M439.9 346.5l4.6 4.6m0 -4.6l-4.6 4.6M441.6 345.6l4.6 4.6m0 -4.6l-4.6 4.6M443.1 344.2l4.6 4.6m0 -4.6l-4.6 4.6M444.3 344.7l4.6 4.6m0 -4.6l-4.6 4.6M445.8 345l4.6 4.6m0 -4.6l-4.6 4.6M447.1 346.8l4.6 4.6m0 -4.6l-4.6 4.6M448.3 346.5l4.6 4.6m0 -4.6l-4.6 4.6M450.1 346.4l4.6 4.6m0 -4.6l-4.6 4.6M451.1 347.2l4.6 4.6m0 -4.6l-4.6 4.6M452.5 346.8l4.6 4.6m0 -4.6l-4.6 4.6M453.9 345.1l4.6 4.6m0 -4.6l-4.6 4.6M455.4 347.7l4.6 4.6m0 -4.6l-4.6 4.6M456.8 347.6l4.6 4.6m0 -4.6l-4.6 4.6M458.1 346.4l4.6 4.6m0 -4.6l-4.6 4.6M459.5 348.2l4.6 4.6m0 -4.6l-4.6 4.6M461.1 347.4l4.6 4.6m0 -4.6l-4.6 4.6M462.2 348.7l4.6 4.6m0 -4.6l-4.6 4.6M463.9 348.9l4.6 4.6m0 -4.6l-4.6 4.6M465.1 349.3l4.6 4.6m0 -4.6l-4.6 4.6M466.5 347.7l4.6 4.6m0 -4.6l-4.6 4.6M467.9 351l4.6 4.6m0 -4.6l-4.6 4.6M469.7 350.9l4.6 4.6m0 -4.6l-4.6 4.6M471.1 353.5l4.6 4.6m0 -4.6l-4.6 4.6M472.6 352.3l4.6 4.6m0 -4.6l-4.6 4.6M473.9 354.2l4.6 4.6m0 -4.6l-4.6 4.6M475.1 354.6l4.6 4.6m0 -4.6l-4.6 4.6M476.4 353.8l4.6 4.6m0 -4.6l-4.6 4.6M478 354.1l4.6 4.6m0 -4.6l-4.6 4.6M479.4 354.5l4.6 4.6m0 -4.6l-4.6 4.6M481 355.4l4.6 4.6m0 -4.6l-4.6 4.6M482 353.8l4.6 4.6m0 -4.6l-4.6 4.6M483.7 355.7l4.6 4.6m0 -4.6l-4.6 4.6M485.2 355.2l4.6 4.6m0 -4.6l-4.6 4.6M486.6 355.2l4.6 4.6m0 -4.6l-4.6 4.6M487.8 356.5l4.6 4.6m0 -4.6l-4.6 4.6M489.2 355.1l4.6 4.6m0 -4.6l-4.6 4.6M490.8 355.4l4.6 4.6m0 -4.6l-4.6 4.6M491.8 356.9l4.6 4.6m0 -4.6l-4.6 4.6M493.5 357.3l4.6 4.6m0 -4.6l-4.6 4.6M494.4 356.4l4.6 4.6m0 -4.6l-4.6 4.6M495.9 356.2l4.6 4.6m0 -4.6l-4.6 4.6M497.5 357.3l4.6 4.6m0 -4.6l-4.6 4.6M499 356.8l4.6 4.6m0 -4.6l-4.6 4.6M500.1 356.4l4.6 4.6m0 -4.6l-4.6 4.6M501.9 357.4l4.6 4.6m0 -4.6l-4.6 4.6M503.1 358.6l4.6 4.6m0 -4.6l-4.6 4.6M504.3 358.9l4.6 4.6m0 -4.6l-4.6 4.6M505.6 359l4.6 4.6m0 -4.6l-4.6 4.6M507.2 360.4l4.6 4.6m0 -4.6l-4.6 4.6M508.9 359.6l4.6 4.6m0 -4.6l-4.6 4.6M510.4 359.4l4.6 4.6m0 -4.6l-4.6 4.6M511.7 361.4l4.6 4.6m0 -4.6l-4.6 4.6M512.7 361l4.6 4.6m0 -4.6l-4.6 4.6M514.5 361.9l4.6 4.6m0 -4.6l-4.6 4.6M515.5 361.1l4.6 4.6m0 -4.6l-4.6 4.6M517 361.7l4.6 4.6m0 -4.6l-4.6 4.6M518.6 361.3l4.6 4.6m0 -4.6l-4.6 4.6M519.8 362.9l4.6 4.6m0 -4.6l-4.6 4.6M521.2 361.6l4.6 4.6m0 -4.6l-4.6 4.6M522.7 363.3l4.6 4.6m0 -4.6l-4.6 4.6M524.3 363.7l4.6 4.6m0 -4.6l-4.6 4.6M525.5 363.3l4.6 4.6m0 -4.6l-4.6 4.6M526.7 363.3l4.6 4.6m0 -4.6l-4.6 4.6M528.2 363.8l4.6 4.6m0 -4.6l-4.6 4.6M529.8 362.7l4.6 4.6m0 -4.6l-4.6 4.6M531.1 364.7l4.6 4.6m0 -4.6l-4.6 4.6M532.8 363.8l4.6 4.6m0 -4.6l-4.6 4.6M533.9 363.1l4.6 4.6m0 -4.6l-4.6 4.6M535.5 364.7l4.6 4.6m0 -4.6l-4.6 4.6M536.9 363.6l4.6 4.6m0 -4.6l-4.6 4.6M538.1 365l4.6 4.6m0 -4.6l-4.6 4.6M539.5 365.4l4.6 4.6m0 -4.6l-4.6 4.6M540.9 364.5l4.6 4.6m0 -4.6l-4.6 4.6M542.1 364.6l4.6 4.6m0 -4.6l-4.6 4.6M543.5 364.9l4.6 4.6m0 -4.6l-4.6 4.6M544.9 366.3l4.6 4.6m0 -4.6l-4.6 4.6M546.3 366.8l4.6 4.6m0 -4.6l-4.6 4.6M547.6 367.4l4.6 4.6m0 -4.6l-4.6 4.6M549.2 366.4l4.6 4.6m0 -4.6l-4.6 4.6M550.5 366.2l4.6 4.6m0 -4.6l-4.6 4.6M552.4 367.6l4.6 4.6m0 -4.6l-4.6 4.6M553.4 368.4l4.6 4.6m0 -4.6l-4.6 4.6M554.6 368.4l4.6 4.6m0 -4.6l-4.6 4.6M556.4 368.2l4.6 4.6m0 -4.6l-4.6 4.6M557.8 368l4.6 4.6m0 -4.6l-4.6 4.6M559.4 369.2l4.6 4.6m0 -4.6l-4.6 4.6M560.3 369.8l4.6 4.6m0 -4.6l-4.6 4.6M561.8 368.7l4.6 4.6m0 -4.6l-4.6 4.6M563.4 370l4.6 4.6m0 -4.6l-4.6 4.6M564.8 370.4l4.6 4.6m0 -4.6l-4.6 4.6M566.2 371.2l4.6 4.6m0 -4.6l-4.6 4.6M567.8 370.1l4.6 4.6m0 -4.6l-4.6 4.6M569.2 370.4l4.6 4.6m0 -4.6l-4.6 4.6M570 369.9l4.6 4.6m0 -4.6l-4.6 4.6M571.6 370.5l4.6 4.6m0 -4.6l-4.6 4.6M573.4 372l4.6 4.6m0 -4.6l-4.6 4.6M574.2 371.3l4.6 4.6m0 -4.6l-4.6 4.6M575.8 372.9l4.6 4.6m0 -4.6l-4.6 4.6M577.5 371.8l4.6 4.6m0 -4.6l-4.6 4.6M578.4 373.1l4.6 4.6m0 -4.6l-4.6 4.6M580.2 372.3l4.6 4.6m0 -4.6l-4.6 4.6M581.8 373.4l4.6 4.6m0 -4.6l-4.6 4.6M582.9 372.9l4.6 4.6m0 -4.6l-4.6 4.6M584 371.7l4.6 4.6m0 -4.6l-4.6 4.6M585.5 372.8l4.6 4.6m0 -4.6l-4.6 4.6M587 373.2l4.6 4.6m0 -4.6l-4.6 4.6M588.2 373.1l4.6 4.6m0 -4.6l-4.6 4.6M590 374.9l4.6 4.6m0 -4.6l-4.6 4.6M591.2 375.3l4.6 4.6m0 -4.6l-4.6 4.6M592.6 375.2l4.6 4.6m0 -4.6l-4.6 4.6M594.3 373.7l4.6 4.6m0 -4.6l-4.6 4.6M595.6 376.5l4.6 4.6m0 -4.6l-4.6 4.6M597.1 375.8l4.6 4.6m0 -4.6l-4.6 4.6M598.1 376.2l4.6 4.6m0 -4.6l-4.6 4.6M599.6 376l4.6 4.6m0 -4.6l-4.6 4.6M601.2 374.6l4.6 4.6m0 -4.6l-4.6 4.6M602.5 375.8l4.6 4.6m0 -4.6l-4.6 4.6M604.1 376.3l4.6 4.6m0 -4.6l-4.6 4.6M605.2 376.1l4.6 4.6m0 -4.6l-4.6 4.6M606.9 376l4.6 4.6m0 -4.6l-4.6 4.6M607.9 377.7l4.6 4.6m0 -4.6l-4.6 4.6M609.6 377.3l4.6 4.6m0 -4.6l-4.6 4.6M611.1 378.1l4.6 4.6m0 -4.6l-4.6 4.6M612.6 377.3l4.6 4.6m0 -4.6l-4.6 4.6M613.6 379.2l4.6 4.6m0 -4.6l-4.6 4.6M615.3 379.2l4.6 4.6m0 -4.6l-4.6 4.6M616.6 377.9l4.6 4.6m0 -4.6l-4.6 4.6M618 378.6l4.6 4.6m0 -4.6l-4.6 4.6M619.2 380l4.6 4.6m0 -4.6l-4.6 4.6M620.9 378.8l4.6 4.6m0 -4.6l-4.6 4.6M621.8 379l4.6 4.6m0 -4.6l-4.6 4.6M623.8 379.5l4.6 4.6m0 -4.6l-4.6 4.6M624.9 379.8l4.6 4.6m0 -4.6l-4.6 4.6M626.3 381.7l4.6 4.6m0 -4.6l-4.6 4.6M627.5 381.7l4.6 4.6m0 -4.6l-4.6 4.6M629.2 381.6l4.6 4.6m0 -4.6l-4.6 4.6M630.3 381.2l4.6 4.6m0 -4.6l-4.6 4.6M632.1 382.6l4.6 4.6m0 -4.6l-4.6 4.6M633.4 382.5l4.6 4.6m0 -4.6l-4.6 4.6M634.5 381.5l4.6 4.6m0 -4.6l-4.6 4.6M636.3 382.1l4.6 4.6m0 -4.6l-4.6 4.6M637.6 383.5l4.6 4.6m0 -4.6l-4.6 4.6M638.8 383.4l4.6 4.6m0 -4.6l-4.6 4.6M640.4 384l4.6 4.6m0 -4.6l-4.6 4.6M641.8 383.9l4.6 4.6m0 -4.6l-4.6 4.6M643.1 383.5l4.6 4.6m0 -4.6l-4.6 4.6M644.6 384.6l4.6 4.6m0 -4.6l-4.6 4.6M646.1 383.9l4.6 4.6m0 -4.6l-4.6 4.6M647.5 386l4.6 4.6m0 -4.6l-4.6 4.6M648.9 385.9l4.6 4.6m0 -4.6l-4.6 4.6M489.4 321.2l4.6 4.6m0 -4.6l-4.6 4.6M570.8 334.3l4.6 4.6m0 -4.6l-4.6 4.6"/>
<path fill="#EA7016" d="M424.2 355.7l2.9 4.9h-5.8zM425.6 354.8l2.9 4.9h-5.8zM427.2 356.5l2.9 4.9h-5.8zM428.6 355.2l2.9 4.9h-5.8zM429.7 355.6l2.9 4.9h-5.8zM431 354.6l2.9 4.9h-5.8zM432.8 355.7l2.9 4.9h-5.8zM434 354.9l2.9 4.9h-5.8zM435.4 355.4l2.9 4.9h-5.8zM436.8 354.1l2.9 4.9h-5.8zM438.4 355.4l2.9 4.9h-5.8zM439.6 355l2.9 4.9h-5.8zM441.1 355.9l2.9 4.9h-5.8zM442.6 356.7l2.9 4.9h-5.8zM443.5 356.4l2.9 4.9h-5.8zM445.2 356.1l2.9 4.9h-5.8zM446.7 357.4l2.9 4.9h-5.8zM447.8 358.4l2.9 4.9h-5.8zM449.2 357.9l2.9 4.9h-5.8zM450.5 359.1l2.9 4.9h-5.8zM452.1 358.6l2.9 4.9h-5.8zM453.8 358l2.9 4.9h-5.8zM454.8 359.1l2.9 4.9h-5.8zM456.6 359.7l2.9 4.9h-5.8zM457.5 362.3l2.9 4.9h-5.8zM459.1 362.8l2.9 4.9h-5.8zM460.4 364.4l2.9 4.9h-5.8zM462.3 365.5l2.9 4.9h-5.8zM463.2 366.6l2.9 4.9h-5.8zM465 366.8l2.9 4.9h-5.8zM466.2 367.6l2.9 4.9h-5.8zM467.5 368.6l2.9 4.9h-5.8zM469 370.2l2.9 4.9h-5.8zM470.2 371.5l2.9 4.9h-5.8zM471.9 373.2l2.9 4.9h-5.8zM473.3 374.5l2.9 4.9h-5.8zM474.6 374.5l2.9 4.9h-5.8zM476.2 374.6l2.9 4.9h-5.8zM477.6 374.5l2.9 4.9h-5.8zM478.9 375.6l2.9 4.9h-5.8zM480.4 375.4l2.9 4.9h-5.8zM481.6 377.1l2.9 4.9h-5.8zM482.8 376.2l2.9 4.9h-5.8zM484.4 377.1l2.9 4.9h-5.8zM485.8 377.1l2.9 4.9h-5.8zM487 377.6l2.9 4.9h-5.8zM488.7 379.2l2.9 4.9h-5.8zM490 379.5l2.9 4.9h-5.8zM491.5 379.1l2.9 4.9h-5.8zM492.6 378.9l2.9 4.9h-5.8zM494 381.3l2.9 4.9h-5.8zM495.4 381.7l2.9 4.9h-5.8zM497.2 380.9l2.9 4.9h-5.8zM498.5 382.5l2.9 4.9h-5.8zM499.7 381.4l2.9 4.9h-5.8zM500.9 381.9l2.9 4.9h-5.8zM502.5 383l2.9 4.9h-5.8zM504.2 382.7l2.9 4.9h-5.8zM505.6 384.6l2.9 4.9h-5.8zM506.6 385.2l2.9 4.9h-5.8zM508.5 383.7l2.9 4.9h-5.8zM509.4 384.8l2.9 4.9h-5.8zM510.7 385.2l2.9 4.9h-5.8zM512.2 386.9l2.9 4.9h-5.8zM513.5 387.3l2.9 4.9h-5.8zM515 385.7l2.9 4.9h-5.8zM516.8 388l2.9 4.9h-5.8zM518 387.8l2.9 4.9h-5.8zM519.6 387.9l2.9 4.9h-5.8zM520.6 388.4l2.9 4.9h-5.8zM522.3 389.9l2.9 4.9h-5.8zM523.4 388.8l2.9 4.9h-5.8zM524.9 390l2.9 4.9h-5.8zM526.7 389.9l2.9 4.9h-5.8zM527.9 391.1l2.9 4.9h-5.8zM529.3 392.5l2.9 4.9h-5.8zM530.7 392.7l2.9 4.9h-5.8zM531.9 392.2l2.9 4.9h-5.8zM533.5 393l2.9 4.9h-5.8zM534.8 394.5l2.9 4.9h-5.8zM536.4 393.9l2.9 4.9h-5.8zM537.7 394.2l2.9 4.9h-5.8zM539.2 396.5l2.9 4.9h-5.8zM540.6 395.2l2.9 4.9h-5.8zM542 397.7l2.9 4.9h-5.8zM543 397.6l2.9 4.9h-5.8zM544.3 397.4l2.9 4.9h-5.8zM545.9 397.4l2.9 4.9h-5.8zM547.7 397.9l2.9 4.9h-5.8zM548.9 397.5l2.9 4.9h-5.8zM550.2 398.8l2.9 4.9h-5.8zM551.8 398.1l2.9 4.9h-5.8zM553.1 399.3l2.9 4.9h-5.8zM554.2 399l2.9 4.9h-5.8zM555.8 400.5l2.9 4.9h-5.8zM557.4 399.1l2.9 4.9h-5.8zM558.8 400.8l2.9 4.9h-5.8zM559.7 401l2.9 4.9h-5.8zM561.7 400.1l2.9 4.9h-5.8zM562.8 401.4l2.9 4.9h-5.8zM564.1 401.4l2.9 4.9h-5.8zM565.6 400.8l2.9 4.9h-5.8zM567.3 400.9l2.9 4.9h-5.8zM568.6 401.8l2.9 4.9h-5.8zM569.7 401.3l2.9 4.9h-5.8zM571.3 403.4l2.9 4.9h-5.8zM572.3 401.8l2.9 4.9h-5.8zM574.2 403.9l2.9 4.9h-5.8zM575.1 403.2l2.9 4.9h-5.8zM576.9 403.6l2.9 4.9h-5.8zM578.1 403.6l2.9 4.9h-5.8zM579.4 404.5l2.9 4.9h-5.8zM580.8 405.5l2.9 4.9h-5.8zM582.7 405.6l2.9 4.9h-5.8zM583.6 405.2l2.9 4.9h-5.8zM585.2 406.5l2.9 4.9h-5.8zM586.4 406.8l2.9 4.9h-5.8zM588 405.6l2.9 4.9h-5.8zM589.6 406.3l2.9 4.9h-5.8zM590.6 407.1l2.9 4.9h-5.8zM592.3 407.6l2.9 4.9h-5.8zM593.5 405.6l2.9 4.9h-5.8zM594.8 408.9l2.9 4.9h-5.8zM596.6 408.3l2.9 4.9h-5.8zM597.7 409.5l2.9 4.9h-5.8zM599.3 409.6l2.9 4.9h-5.8zM600.9 410.3l2.9 4.9h-5.8zM602.1 409.5l2.9 4.9h-5.8zM603.3 411.6l2.9 4.9h-5.8zM604.9 411.3l2.9 4.9h-5.8zM606.3 411.9l2.9 4.9h-5.8zM607.4 411.9l2.9 4.9h-5.8zM609.3 413.3l2.9 4.9h-5.8zM610.2 413.3l2.9 4.9h-5.8zM611.5 412.2l2.9 4.9h-5.8zM613.2 412.6l2.9 4.9h-5.8zM614.6 413.6l2.9 4.9h-5.8zM615.8 415l2.9 4.9h-5.8zM617.4 414.9l2.9 4.9h-5.8zM618.7 414.2l2.9 4.9h-5.8zM620.4 416.3l2.9 4.9h-5.8zM621.6 416.1l2.9 4.9h-5.8zM623 416l2.9 4.9h-5.8zM624.2 415.6l2.9 4.9h-5.8zM626.1 415.7l2.9 4.9h-5.8zM627.1 416.7l2.9 4.9h-5.8zM628.7 416.8l2.9 4.9h-5.8zM630.2 420.1l2.9 4.9h-5.8zM631.4 418.2l2.9 4.9h-5.8zM632.7 418.6l2.9 4.9h-5.8zM634.3 419.2l2.9 4.9h-5.8zM635.7 419.3l2.9 4.9h-5.8zM636.8 419.1l2.9 4.9h-5.8zM638.3 420.6l2.9 4.9h-5.8zM639.6 421l2.9 4.9h-5.8zM640.9 421.7l2.9 4.9h-5.8zM642.7 421.2l2.9 4.9h-5.8zM644.3 420.7l2.9 4.9h-5.8zM645.3 422.2l2.9 4.9h-5.8zM647.1 421.2l2.9 4.9h-5.8zM648.1 421.9l2.9 4.9h-5.8zM649.8 422l2.9 4.9h-5.8zM650.8 424.2l2.9 4.9h-5.8zM652.3 426.1l2.9 4.9h-5.8zM654 424.4l2.9 4.9h-5.8zM655.4 424.1l2.9 4.9h-5.8zM656.8 425.1l2.9 4.9h-5.8zM491.7 348.2l2.9 4.9h-5.8zM472.7 379.2l2.9 4.9h-5.8zM488.2 384.8l2.9 4.9h-5.8zM573.1 374.2l2.9 4.9h-5.8zM654.6 392.5l2.9 4.9h-5.8z"/>
<path fill="#1B5424" d="M421.4 365.3h4.5v4.5h-4.5zM423 355.4h4.5v4.5h-4.5zM424.4 357.3h4.5v4.5h-4.5zM426.1 358.1h4.5v4.5h-4.5zM427.7 358.5h4.5v4.5h-4.5zM428.4 358h4.5v4.5h-4.5zM430.2 359.7h4.5v4.5h-4.5zM431.2 362.8h4.5v4.5h-4.5zM432.8 361.4h4.5v4.5h-4.5zM434.3 360.9h4.5v4.5h-4.5zM435.6 360.7h4.5v4.5h-4.5zM437.1 355.1h4.5v4.5h-4.5zM438.4 356h4.5v4.5h-4.5zM439.9 354.3h4.5v4.5h-4.5zM441.2 356.3h4.5v4.5h-4.5zM442.7 354h4.5v4.5h-4.5zM443.9 355.6h4.5v4.5h-4.5zM445.5 358.8h4.5v4.5h-4.5zM447.1 358.3h4.5v4.5h-4.5zM448 360.6h4.5v4.5h-4.5zM450.1 354.5h4.5v4.5h-4.5zM450.9 353.7h4.5v4.5h-4.5zM452.8 358.2h4.5v4.5h-4.5zM453.8 359h4.5v4.5h-4.5zM455 360.8h4.5v4.5h-4.5zM457 362.2h4.5v4.5h-4.5zM458.2 362.4h4.5v4.5h-4.5zM459.4 365.4h4.5v4.5h-4.5zM460.9 366.7h4.5v4.5h-4.5zM462.6 368.7h4.5v4.5h-4.5zM463.9 362.8h4.5v4.5h-4.5zM465 362.2h4.5v4.5h-4.5zM466.3 365.7h4.5v4.5h-4.5zM468 365.4h4.5v4.5h-4.5zM469 366h4.5v4.5h-4.5zM470.5 368.1h4.5v4.5h-4.5zM472.4 371.2h4.5v4.5h-4.5zM473.7 371.5h4.5v4.5h-4.5zM474.6 370.2h4.5v4.5h-4.5zM476.3 372.3h4.5v4.5h-4.5zM477.7 375h4.5v4.5h-4.5zM479.3 369.5h4.5v4.5h-4.5zM480.5 369.4h4.5v4.5h-4.5zM481.7 370.8h4.5v4.5h-4.5zM483.6 370.6h4.5v4.5h-4.5zM484.5 372.4h4.5v4.5h-4.5zM486.3 376.4h4.5v4.5h-4.5zM487.4 375.7h4.5v4.5h-4.5zM489 378.4h4.5v4.5h-4.5zM490.1 380.3h4.5v4.5h-4.5zM492.1 373.8h4.5v4.5h-4.5zM493 375.6h4.5v4.5h-4.5zM494.7 376.9h4.5v4.5h-4.5zM496.1 377.2h4.5v4.5h-4.5zM497.3 379.5h4.5v4.5h-4.5zM498.8 381.5h4.5v4.5h-4.5zM499.8 380.5h4.5v4.5h-4.5zM501.6 385.4h4.5v4.5h-4.5zM503 385.7h4.5v4.5h-4.5zM504.7 388.6h4.5v4.5h-4.5zM505.6 389.5h4.5v4.5h-4.5zM506.9 379.9h4.5v4.5h-4.5zM508.5 381.7h4.5v4.5h-4.5zM510.2 385.8h4.5v4.5h-4.5zM511 384.4h4.5v4.5h-4.5zM512.4 387.9h4.5v4.5h-4.5zM514.5 389.7h4.5v4.5h-4.5zM515.6 389.8h4.5v4.5h-4.5zM517.1 390.5h4.5v4.5h-4.5zM518.3 392h4.5v4.5h-4.5zM519.5 393.4h4.5v4.5h-4.5zM521.3 385.7h4.5v4.5h-4.5zM522.3 384.7h4.5v4.5h-4.5zM523.9 388.4h4.5v4.5h-4.5zM525.1 388.2h4.5v4.5h-4.5zM527.1 389.2h4.5v4.5h-4.5zM528.1 391.1h4.5v4.5h-4.5zM529.7 394.4h4.5v4.5h-4.5zM530.7 395.1h4.5v4.5h-4.5zM532.4 395.3h4.5v4.5h-4.5zM533.6 398.1h4.5v4.5h-4.5zM534.8 390.4h4.5v4.5h-4.5zM536.4 391.1h4.5v4.5h-4.5zM537.6 391.4h4.5v4.5h-4.5zM539.4 395.1h4.5v4.5h-4.5zM540.8 394.9h4.5v4.5h-4.5zM542.4 397.1h4.5v4.5h-4.5zM543.2 397h4.5v4.5h-4.5zM544.9 399.8h4.5v4.5h-4.5zM546.7 399.2h4.5v4.5h-4.5zM547.6 400.9h4.5v4.5h-4.5zM548.8 395.2h4.5v4.5h-4.5zM550.8 397.6h4.5v4.5h-4.5zM551.6 397.1h4.5v4.5h-4.5zM553.5 397.9h4.5v4.5h-4.5zM554.8 399.3h4.5v4.5h-4.5zM556.5 400.1h4.5v4.5h-4.5zM557.6 403.4h4.5v4.5h-4.5zM559.1 401.8h4.5v4.5h-4.5zM560.2 404.8h4.5v4.5h-4.5zM562.1 395.8h4.5v4.5h-4.5zM562.9 399.1h4.5v4.5h-4.5zM564.8 397.9h4.5v4.5h-4.5zM566.1 399.9h4.5v4.5h-4.5zM567.3 401h4.5v4.5h-4.5zM568.6 403.2h4.5v4.5h-4.5zM569.8 403.3h4.5v4.5h-4.5zM571.8 406.6h4.5v4.5h-4.5zM572.7 408.3h4.5v4.5h-4.5zM574.6 408.9h4.5v4.5h-4.5zM576.1 399.7h4.5v4.5h-4.5zM576.9 401h4.5v4.5h-4.5zM578.4 404.9h4.5v4.5h-4.5zM580.1 404.9h4.5v4.5h-4.5zM581.6 406.6h4.5v4.5h-4.5zM582.4 408.8h4.5v4.5h-4.5zM584.4 410h4.5v4.5h-4.5zM585.8 410.6h4.5v4.5h-4.5zM587 411h4.5v4.5h-4.5zM588.7 411.6h4.5v4.5h-4.5zM590.1 405.1h4.5v4.5h-4.5zM590.9 405.8h4.5v4.5h-4.5zM592.9 408h4.5v4.5h-4.5zM594.2 412h4.5v4.5h-4.5zM595.4 410.1h4.5v4.5h-4.5zM596.4 412.7h4.5v4.5h-4.5zM598.5 414.7h4.5v4.5h-4.5zM599.7 417.1h4.5v4.5h-4.5zM600.8 418.4h4.5v4.5h-4.5zM602.2 418.5h4.5v4.5h-4.5zM604.1 411.8h4.5v4.5h-4.5zM604.9 413.2h4.5v4.5h-4.5zM606.8 413.8h4.5v4.5h-4.5zM607.9 416.2h4.5v4.5h-4.5zM609.5 417.7h4.5v4.5h-4.5zM611 416.6h4.5v4.5h-4.5zM611.8 418.6h4.5v4.5h-4.5zM613.4 419h4.5v4.5h-4.5zM614.6 419.4h4.5v4.5h-4.5zM616.3 421.8h4.5v4.5h-4.5zM617.5 422.6h4.5v4.5h-4.5zM619.5 415.9h4.5v4.5h-4.5zM620.8 417.3h4.5v4.5h-4.5zM622 418.9h4.5v4.5h-4.5zM623.1 419.7h4.5v4.5h-4.5zM624.5 419.3h4.5v4.5h-4.5zM626.2 423.1h4.5v4.5h-4.5zM627.9 424.9h4.5v4.5h-4.5zM629.3 423.9h4.5v4.5h-4.5zM630.7 427h4.5v4.5h-4.5zM631.6 426.6h4.5v4.5h-4.5zM633.3 421.8h4.5v4.5h-4.5zM634.6 422.1h4.5v4.5h-4.5zM636 424h4.5v4.5h-4.5zM637.5 425.5h4.5v4.5h-4.5zM638.6 425.6h4.5v4.5h-4.5zM640 425.7h4.5v4.5h-4.5zM641.5 429.4h4.5v4.5h-4.5zM642.7 430h4.5v4.5h-4.5zM644.6 429.6h4.5v4.5h-4.5zM645.6 430.4h4.5v4.5h-4.5zM646.8 424.9h4.5v4.5h-4.5zM648.7 425.9h4.5v4.5h-4.5zM650.3 425.3h4.5v4.5h-4.5zM651.4 428.1h4.5v4.5h-4.5zM652.6 427.5h4.5v4.5h-4.5zM654.5 430.9h4.5v4.5h-4.5zM655.7 429.5h4.5v4.5h-4.5zM657 433.9h4.5v4.5h-4.5zM658.3 433.1h4.5v4.5h-4.5zM660 428.6h4.5v4.5h-4.5zM661.3 427.5h4.5v4.5h-4.5zM662.6 429.2h4.5v4.5h-4.5zM663.8 430.1h4.5v4.5h-4.5zM665.6 432.8h4.5v4.5h-4.5zM667.1 433.1h4.5v4.5h-4.5zM667.8 435.2h4.5v4.5h-4.5zM669.2 436.3h4.5v4.5h-4.5zM670.6 437.7h4.5v4.5h-4.5zM672.6 438h4.5v4.5h-4.5zM673.8 430.8h4.5v4.5h-4.5zM675.1 431.1h4.5v4.5h-4.5zM676.9 433.3h4.5v4.5h-4.5zM678.3 434.5h4.5v4.5h-4.5zM679.3 434.4h4.5v4.5h-4.5zM680.6 436.4h4.5v4.5h-4.5zM682.2 436.7h4.5v4.5h-4.5zM683.6 439.3h4.5v4.5h-4.5zM685.2 440.7h4.5v4.5h-4.5zM686.7 443.1h4.5v4.5h-4.5zM687.6 445.4h4.5v4.5h-4.5zM689.4 436.6h4.5v4.5h-4.5zM690.2 439.4h4.5v4.5h-4.5zM691.7 439.9h4.5v4.5h-4.5zM693.3 442.5h4.5v4.5h-4.5zM694.4 444h4.5v4.5h-4.5zM696 446.7h4.5v4.5h-4.5zM697.2 449.4h4.5v4.5h-4.5zM699.2 450.7h4.5v4.5h-4.5zM700.5 450.4h4.5v4.5h-4.5zM701.6 451.9h4.5v4.5h-4.5zM703.2 444.9h4.5v4.5h-4.5zM704.5 446.9h4.5v4.5h-4.5zM706.2 449.7h4.5v4.5h-4.5zM707.2 451.2h4.5v4.5h-4.5zM708.5 452.9h4.5v4.5h-4.5zM710.4 454.1h4.5v4.5h-4.5zM711.8 454.2h4.5v4.5h-4.5zM713.1 458.2h4.5v4.5h-4.5zM714 460.4h4.5v4.5h-4.5zM715.4 462.4h4.5v4.5h-4.5zM717.5 453.6h4.5v4.5h-4.5zM464.9 326.9h4.5v4.5h-4.5zM521.9 329.8h4.5v4.5h-4.5zM536.9 324.1h4.5v4.5h-4.5zM551 360.6h4.5v4.5h-4.5zM532.6 410.1h4.5v4.5h-4.5zM561.8 415.1h4.5v4.5h-4.5zM607.5 352.9h4.5v4.5h-4.5zM622.9 346.4h4.5v4.5h-4.5zM637.1 383.4h4.5v4.5h-4.5zM694.5 373.6h4.5v4.5h-4.5zM709.1 366.4h4.5v4.5h-4.5zM614.8 427.4h4.5v4.5h-4.5zM672 444.4h4.5v4.5h-4.5zM679.2 446.1h4.5v4.5h-4.5zM679.2 450.6h4.5v4.5h-4.5zM476.9 391.6h4.5v4.5h-4.5zM490.1 392.9h4.5v4.5h-4.5zM431.9 369.8h4.5v4.5h-4.5zM433.2 365.6h4.5v4.5h-4.5z"/>
</g>
<g clip-path="url(#cpe)">
<path fill="#9E3A0C" d="M103.2 660.4a2.3 2.3 0 1 0 4.6 0a2.3 2.3 0 1 0 -4.6 0M104.5 662.8a2.3 2.3 0 1 0 4.6 0a2.3 2.3 0 1 0 -4.6 0M106 659.8a2.3 2.3 0 1 0 4.6 0a2.3 2.3 0 1 0 -4.6 0M107.3 664.4a2.3 2.3 0 1 0 4.6 0a2.3 2.3 0 1 0 -4.6 0M109.1 664.2a2.3 2.3 0 1 0 4.6 0a2.3 2.3 0 1 0 -4.6 0M110.3 663.1a2.3 2.3 0 1 0 4.6 0a2.3 2.3 0 1 0 -4.6 0M111.5 666.1a2.3 2.3 0 1 0 4.6 0a2.3 2.3 0 1 0 -4.6 0M113.3 664.5a2.3 2.3 0 1 0 4.6 0a2.3 2.3 0 1 0 -4.6 0M114.5 663.4a2.3 2.3 0 1 0 4.6 0a2.3 2.3 0 1 0 -4.6 0M115.6 666.3a2.3 2.3 0 1 0 4.6 0a2.3 2.3 0 1 0 -4.6 0M117.5 666.8a2.3 2.3 0 1 0 4.6 0a2.3 2.3 0 1 0 -4.6 0M118.8 664.4a2.3 2.3 0 1 0 4.6 0a2.3 2.3 0 1 0 -4.6 0M120.1 666.9a2.3 2.3 0 1 0 4.6 0a2.3 2.3 0 1 0 -4.6 0M121.4 663a2.3 2.3 0 1 0 4.6 0a2.3 2.3 0 1 0 -4.6 0M123 666.7a2.3 2.3 0 1 0 4.6 0a2.3 2.3 0 1 0 -4.6 0M124.6 664.7a2.3 2.3 0 1 0 4.6 0a2.3 2.3 0 1 0 -4.6 0M125.7 666.6a2.3 2.3 0 1 0 4.6 0a2.3 2.3 0 1 0 -4.6 0M127.3 667a2.3 2.3 0 1 0 4.6 0a2.3 2.3 0 1 0 -4.6 0M128.5 662.4a2.3 2.3 0 1 0 4.6 0a2.3 2.3 0 1 0 -4.6 0M129.7 664a2.3 2.3 0 1 0 4.6 0a2.3 2.3 0 1 0 -4.6 0M131.4 665.9a2.3 2.3 0 1 0 4.6 0a2.3 2.3 0 1 0 -4.6 0M132.9 664.5a2.3 2.3 0 1 0 4.6 0a2.3 2.3 0 1 0 -4.6 0M133.9 662.1a2.3 2.3 0 1 0 4.6 0a2.3 2.3 0 1 0 -4.6 0M135.3 661.7a2.3 2.3 0 1 0 4.6 0a2.3 2.3 0 1 0 -4.6 0M136.7 661.1a2.3 2.3 0 1 0 4.6 0a2.3 2.3 0 1 0 -4.6 0M138 661.6a2.3 2.3 0 1 0 4.6 0a2.3 2.3 0 1 0 -4.6 0M139.6 666.3a2.3 2.3 0 1 0 4.6 0a2.3 2.3 0 1 0 -4.6 0M141.1 664.5a2.3 2.3 0 1 0 4.6 0a2.3 2.3 0 1 0 -4.6 0M142.5 664.1a2.3 2.3 0 1 0 4.6 0a2.3 2.3 0 1 0 -4.6 0M143.9 660.1a2.3 2.3 0 1 0 4.6 0a2.3 2.3 0 1 0 -4.6 0M145.5 662.8a2.3 2.3 0 1 0 4.6 0a2.3 2.3 0 1 0 -4.6 0M146.5 661.6a2.3 2.3 0 1 0 4.6 0a2.3 2.3 0 1 0 -4.6 0M148.4 662.4a2.3 2.3 0 1 0 4.6 0a2.3 2.3 0 1 0 -4.6 0M149.7 660.5a2.3 2.3 0 1 0 4.6 0a2.3 2.3 0 1 0 -4.6 0M150.6 660a2.3 2.3 0 1 0 4.6 0a2.3 2.3 0 1 0 -4.6 0M152 661.5a2.3 2.3 0 1 0 4.6 0a2.3 2.3 0 1 0 -4.6 0M153.5 661.5a2.3 2.3 0 1 0 4.6 0a2.3 2.3 0 1 0 -4.6 0M155.2 660.7a2.3 2.3 0 1 0 4.6 0a2.3 2.3 0 1 0 -4.6 0M156.5 659.6a2.3 2.3 0 1 0 4.6 0a2.3 2.3 0 1 0 -4.6 0M157.8 657.9a2.3 2.3 0 1 0 4.6 0a2.3 2.3 0 1 0 -4.6 0M159.4 658.1a2.3 2.3 0 1 0 4.6 0a2.3 2.3 0 1 0 -4.6 0M160.6 659.8a2.3 2.3 0 1 0 4.6 0a2.3 2.3 0 1 0 -4.6 0M162.3 659.7a2.3 2.3 0 1 0 4.6 0a2.3 2.3 0 1 0 -4.6 0M163.6 656.2a2.3 2.3 0 1 0 4.6 0a2.3 2.3 0 1 0 -4.6 0M164.7 659.9a2.3 2.3 0 1 0 4.6 0a2.3 2.3 0 1 0 -4.6 0M166 659.6a2.3 2.3 0 1 0 4.6 0a2.3 2.3 0 1 0 -4.6 0M167.8 659.8a2.3 2.3 0 1 0 4.6 0a2.3 2.3 0 1 0 -4.6 0M168.9 657.2a2.3 2.3 0 1 0 4.6 0a2.3 2.3 0 1 0 -4.6 0M170.5 659a2.3 2.3 0 1 0 4.6 0a2.3 2.3 0 1 0 -4.6 0M172 655.9a2.3 2.3 0 1 0 4.6 0a2.3 2.3 0 1 0 -4.6 0M173.1 656a2.3 2.3 0 1 0 4.6 0a2.3 2.3 0 1 0 -4.6 0M174.9 651a2.3 2.3 0 1 0 4.6 0a2.3 2.3 0 1 0 -4.6 0M176 651.8a2.3 2.3 0 1 0 4.6 0a2.3 2.3 0 1 0 -4.6 0M177.6 649.2a2.3 2.3 0 1 0 4.6 0a2.3 2.3 0 1 0 -4.6 0M178.9 648.8a2.3 2.3 0 1 0 4.6 0a2.3 2.3 0 1 0 -4.6 0M180.4 647.2a2.3 2.3 0 1 0 4.6 0a2.3 2.3 0 1 0 -4.6 0M181.7 646.3a2.3 2.3 0 1 0 4.6 0a2.3 2.3 0 1 0 -4.6 0M183.1 642.5a2.3 2.3 0 1 0 4.6 0a2.3 2.3 0 1 0 -4.6 0M184.5 645.4a2.3 2.3 0 1 0 4.6 0a2.3 2.3 0 1 0 -4.6 0M185.7 644.4a2.3 2.3 0 1 0 4.6 0a2.3 2.3 0 1 0 -4.6 0M187.4 645.8a2.3 2.3 0 1 0 4.6 0a2.3 2.3 0 1 0 -4.6 0M188.4 643.2a2.3 2.3 0 1 0 4.6 0a2.3 2.3 0 1 0 -4.6 0M190.1 643.2a2.3 2.3 0 1 0 4.6 0a2.3 2.3 0 1 0 -4.6 0M191.7 642.4a2.3 2.3 0 1 0 4.6 0a2.3 2.3 0 1 0 -4.6 0M193.1 645.4a2.3 2.3 0 1 0 4.6 0a2.3 2.3 0 1 0 -4.6 0M194.5 640.7a2.3 2.3 0 1 0 4.6 0a2.3 2.3 0 1 0 -4.6 0M195.8 641.4a2.3 2.3 0 1 0 4.6 0a2.3 2.3 0 1 0 -4.6 0M197.4 643a2.3 2.3 0 1 0 4.6 0a2.3 2.3 0 1 0 -4.6 0M198.8 640.5a2.3 2.3 0 1 0 4.6 0a2.3 2.3 0 1 0 -4.6 0M199.8 641.7a2.3 2.3 0 1 0 4.6 0a2.3 2.3 0 1 0 -4.6 0M201.4 637.7a2.3 2.3 0 1 0 4.6 0a2.3 2.3 0 1 0 -4.6 0M202.5 637.4a2.3 2.3 0 1 0 4.6 0a2.3 2.3 0 1 0 -4.6 0M204.2 639a2.3 2.3 0 1 0 4.6 0a2.3 2.3 0 1 0 -4.6 0M205.4 635.9a2.3 2.3 0 1 0 4.6 0a2.3 2.3 0 1 0 -4.6 0M207.1 635.7a2.3 2.3 0 1 0 4.6 0a2.3 2.3 0 1 0 -4.6 0M208.1 635.9a2.3 2.3 0 1 0 4.6 0a2.3 2.3 0 1 0 -4.6 0M209.5 636.5a2.3 2.3 0 1 0 4.6 0a2.3 2.3 0 1 0 -4.6 0M211.2 633.6a2.3 2.3 0 1 0 4.6 0a2.3 2.3 0 1 0 -4.6 0M212.5 632.4a2.3 2.3 0 1 0 4.6 0a2.3 2.3 0 1 0 -4.6 0M214 633.4a2.3 2.3 0 1 0 4.6 0a2.3 2.3 0 1 0 -4.6 0M215.4 634.2a2.3 2.3 0 1 0 4.6 0a2.3 2.3 0 1 0 -4.6 0M216.4 634.3a2.3 2.3 0 1 0 4.6 0a2.3 2.3 0 1 0 -4.6 0M218.2 632.6a2.3 2.3 0 1 0 4.6 0a2.3 2.3 0 1 0 -4.6 0M219.5 630.9a2.3 2.3 0 1 0 4.6 0a2.3 2.3 0 1 0 -4.6 0M220.7 633.4a2.3 2.3 0 1 0 4.6 0a2.3 2.3 0 1 0 -4.6 0M222.5 629.9a2.3 2.3 0 1 0 4.6 0a2.3 2.3 0 1 0 -4.6 0M223.8 631.6a2.3 2.3 0 1 0 4.6 0a2.3 2.3 0 1 0 -4.6 0M225.2 631.1a2.3 2.3 0 1 0 4.6 0a2.3 2.3 0 1 0 -4.6 0M226.4 630.1a2.3 2.3 0 1 0 4.6 0a2.3 2.3 0 1 0 -4.6 0M227.7 629a2.3 2.3 0 1 0 4.6 0a2.3 2.3 0 1 0 -4.6 0M229 626.9a2.3 2.3 0 1 0 4.6 0a2.3 2.3 0 1 0 -4.6 0M230.9 628.2a2.3 2.3 0 1 0 4.6 0a2.3 2.3 0 1 0 -4.6 0M232.1 624.9a2.3 2.3 0 1 0 4.6 0a2.3 2.3 0 1 0 -4.6 0M233.5 629.1a2.3 2.3 0 1 0 4.6 0a2.3 2.3 0 1 0 -4.6 0M234.8 626.5a2.3 2.3 0 1 0 4.6 0a2.3 2.3 0 1 0 -4.6 0M236.3 625a2.3 2.3 0 1 0 4.6 0a2.3 2.3 0 1 0 -4.6 0M237.8 627.6a2.3 2.3 0 1 0 4.6 0a2.3 2.3 0 1 0 -4.6 0M239.1 626.7a2.3 2.3 0 1 0 4.6 0a2.3 2.3 0 1 0 -4.6 0M240.7 623.4a2.3 2.3 0 1 0 4.6 0a2.3 2.3 0 1 0 -4.6 0M241.7 626.1a2.3 2.3 0 1 0 4.6 0a2.3 2.3 0 1 0 -4.6 0M243.1 625.5a2.3 2.3 0 1 0 4.6 0a2.3 2.3 0 1 0 -4.6 0M244.9 621.3a2.3 2.3 0 1 0 4.6 0a2.3 2.3 0 1 0 -4.6 0M245.9 622.1a2.3 2.3 0 1 0 4.6 0a2.3 2.3 0 1 0 -4.6 0M247.4 621.4a2.3 2.3 0 1 0 4.6 0a2.3 2.3 0 1 0 -4.6 0M249 621.7a2.3 2.3 0 1 0 4.6 0a2.3 2.3 0 1 0 -4.6 0M250 623a2.3 2.3 0 1 0 4.6 0a2.3 2.3 0 1 0 -4.6 0M251.7 619.9a2.3 2.3 0 1 0 4.6 0a2.3 2.3 0 1 0 -4.6 0M253 620.7a2.3 2.3 0 1 0 4.6 0a2.3 2.3 0 1 0 -4.6 0M254.8 620a2.3 2.3 0 1 0 4.6 0a2.3 2.3 0 1 0 -4.6 0M255.9 618.9a2.3 2.3 0 1 0 4.6 0a2.3 2.3 0 1 0 -4.6 0M257.3 616a2.3 2.3 0 1 0 4.6 0a2.3 2.3 0 1 0 -4.6 0M258.8 616.7a2.3 2.3 0 1 0 4.6 0a2.3 2.3 0 1 0 -4.6 0M260.3 616.8a2.3 2.3 0 1 0 4.6 0a2.3 2.3 0 1 0 -4.6 0M261.4 617.9a2.3 2.3 0 1 0 4.6 0a2.3 2.3 0 1 0 -4.6 0M262.6 615.7a2.3 2.3 0 1 0 4.6 0a2.3 2.3 0 1 0 -4.6 0M264.4 614.6a2.3 2.3 0 1 0 4.6 0a2.3 2.3 0 1 0 -4.6 0M265.7 613a2.3 2.3 0 1 0 4.6 0a2.3 2.3 0 1 0 -4.6 0M266.9 615.9a2.3 2.3 0 1 0 4.6 0a2.3 2.3 0 1 0 -4.6 0M268.6 613.7a2.3 2.3 0 1 0 4.6 0a2.3 2.3 0 1 0 -4.6 0M270 613.9a2.3 2.3 0 1 0 4.6 0a2.3 2.3 0 1 0 -4.6 0M271.6 615.2a2.3 2.3 0 1 0 4.6 0a2.3 2.3 0 1 0 -4.6 0M273 613.6a2.3 2.3 0 1 0 4.6 0a2.3 2.3 0 1 0 -4.6 0M273.9 611a2.3 2.3 0 1 0 4.6 0a2.3 2.3 0 1 0 -4.6 0M154 642.2a2.3 2.3 0 1 0 4.6 0a2.3 2.3 0 1 0 -4.6 0M124.4 654.1a2.3 2.3 0 1 0 4.6 0a2.3 2.3 0 1 0 -4.6 0"/>
<path fill="none" stroke="#1A72B6" stroke-width="1.6" d="M103.3 669.3l4.6 4.6m0 -4.6l-4.6 4.6M104.8 666.4l4.6 4.6m0 -4.6l-4.6 4.6M105.7 664l4.6 4.6m0 -4.6l-4.6 4.6M107.4 668l4.6 4.6m0 -4.6l-4.6 4.6M108.5 665.9l4.6 4.6m0 -4.6l-4.6 4.6M109.9 668.1l4.6 4.6m0 -4.6l-4.6 4.6M111.3 670.3l4.6 4.6m0 -4.6l-4.6 4.6M112.6 670.1l4.6 4.6m0 -4.6l-4.6 4.6M113.8 678l4.6 4.6m0 -4.6l-4.6 4.6M114.9 672.9l4.6 4.6m0 -4.6l-4.6 4.6M116.1 675.1l4.6 4.6m0 -4.6l-4.6 4.6M117.6 681l4.6 4.6m0 -4.6l-4.6 4.6M119 677l4.6 4.6m0 -4.6l-4.6 4.6M120.3 672.9l4.6 4.6m0 -4.6l-4.6 4.6M121.4 676.6l4.6 4.6m0 -4.6l-4.6 4.6M122.6 671.1l4.6 4.6m0 -4.6l-4.6 4.6M124.4 673.1l4.6 4.6m0 -4.6l-4.6 4.6M125.5 673l4.6 4.6m0 -4.6l-4.6 4.6M126.8 671.8l4.6 4.6m0 -4.6l-4.6 4.6M127.7 671.8l4.6 4.6m0 -4.6l-4.6 4.6M129.3 668.3l4.6 4.6m0 -4.6l-4.6 4.6M130.6 674l4.6 4.6m0 -4.6l-4.6 4.6M131.6 666.5l4.6 4.6m0 -4.6l-4.6 4.6M133 668.1l4.6 4.6m0 -4.6l-4.6 4.6M134.3 666.8l4.6 4.6m0 -4.6l-4.6 4.6M135.9 669.7l4.6 4.6m0 -4.6l-4.6 4.6M137.3 668.1l4.6 4.6m0 -4.6l-4.6 4.6M138.5 671.1l4.6 4.6m0 -4.6l-4.6 4.6M139.6 668.9l4.6 4.6m0 -4.6l-4.6 4.6M141.2 670.8l4.6 4.6m0 -4.6l-4.6 4.6M142.3 669.2l4.6 4.6m0 -4.6l-4.6 4.6M143.8 670.8l4.6 4.6m0 -4.6l-4.6 4.6M144.9 666.4l4.6 4.6m0 -4.6l-4.6 4.6M146 663.9l4.6 4.6m0 -4.6l-4.6 4.6M147.5 664.4l4.6 4.6m0 -4.6l-4.6 4.6M148.7 667.5l4.6 4.6m0 -4.6l-4.6 4.6M150 667.5l4.6 4.6m0 -4.6l-4.6 4.6M151.1 668.8l4.6 4.6m0 -4.6l-4.6 4.6M152.9 661.8l4.6 4.6m0 -4.6l-4.6 4.6M154 666.1l4.6 4.6m0 -4.6l-4.6 4.6M155.2 661.2l4.6 4.6m0 -4.6l-4.6 4.6M156.7 656.8l4.6 4.6m0 -4.6l-4.6 4.6M157.9 660.8l4.6 4.6m0 -4.6l-4.6 4.6M158.9 658.6l4.6 4.6m0 -4.6l-4.6 4.6M160.7 655.4l4.6 4.6m0 -4.6l-4.6 4.6M162 651.9l4.6 4.6m0 -4.6l-4.6 4.6M163.1 653l4.6 4.6m0 -4.6l-4.6 4.6M164.5 646l4.6 4.6m0 -4.6l-4.6 4.6M165.7 650l4.6 4.6m0 -4.6l-4.6 4.6M166.9 643.6l4.6 4.6m0 -4.6l-4.6 4.6M168 645.5l4.6 4.6m0 -4.6l-4.6 4.6M169.7 642.3l4.6 4.6m0 -4.6l-4.6 4.6M170.8 641.8l4.6 4.6m0 -4.6l-4.6 4.6M172.3 642.1l4.6 4.6m0 -4.6l-4.6 4.6M173.4 640.8l4.6 4.6m0 -4.6l-4.6 4.6M174.7 643.9l4.6 4.6m0 -4.6l-4.6 4.6M176.3 639.8l4.6 4.6m0 -4.6l-4.6 4.6M177.2 641.7l4.6 4.6m0 -4.6l-4.6 4.6M178.6 642.3l4.6 4.6m0 -4.6l-4.6 4.6M180.1 637.2l4.6 4.6m0 -4.6l-4.6 4.6M181.3 635.6l4.6 4.6m0 -4.6l-4.6 4.6M182.8 638.9l4.6 4.6m0 -4.6l-4.6 4.6M183.7 638l4.6 4.6m0 -4.6l-4.6 4.6M184.9 639.9l4.6 4.6m0 -4.6l-4.6 4.6M186.7 637.2l4.6 4.6m0 -4.6l-4.6 4.6M187.6 640l4.6 4.6m0 -4.6l-4.6 4.6M189 637.2l4.6 4.6m0 -4.6l-4.6 4.6M190.2 634l4.6 4.6m0 -4.6l-4.6 4.6M191.7 635.1l4.6 4.6m0 -4.6l-4.6 4.6M193.2 635.1l4.6 4.6m0 -4.6l-4.6 4.6M194.3 638.1l4.6 4.6m0 -4.6l-4.6 4.6M195.7 636.6l4.6 4.6m0 -4.6l-4.6 4.6M196.7 637.1l4.6 4.6m0 -4.6l-4.6 4.6M198.2 635.8l4.6 4.6m0 -4.6l-4.6 4.6M199.3 633.3l4.6 4.6m0 -4.6l-4.6 4.6M200.6 630.4l4.6 4.6m0 -4.6l-4.6 4.6M202 629.8l4.6 4.6m0 -4.6l-4.6 4.6M203.3 632.4l4.6 4.6m0 -4.6l-4.6 4.6M204.8 628.5l4.6 4.6m0 -4.6l-4.6 4.6M205.8 626.6l4.6 4.6m0 -4.6l-4.6 4.6M207.2 632.9l4.6 4.6m0 -4.6l-4.6 4.6M208.9 629.5l4.6 4.6m0 -4.6l-4.6 4.6M209.8 628.6l4.6 4.6m0 -4.6l-4.6 4.6M210.9 630.3l4.6 4.6m0 -4.6l-4.6 4.6M212.7 628l4.6 4.6m0 -4.6l-4.6 4.6M213.5 633.1l4.6 4.6m0 -4.6l-4.6 4.6M215 627.1l4.6 4.6m0 -4.6l-4.6 4.6M216.5 632.9l4.6 4.6m0 -4.6l-4.6 4.6M218 623.6l4.6 4.6m0 -4.6l-4.6 4.6M219.2 623.3l4.6 4.6m0 -4.6l-4.6 4.6M220.6 625l4.6 4.6m0 -4.6l-4.6 4.6M221.7 625.1l4.6 4.6m0 -4.6l-4.6 4.6M223.2 622.9l4.6 4.6m0 -4.6l-4.6 4.6M224 624.7l4.6 4.6m0 -4.6l-4.6 4.6M225.4 620l4.6 4.6m0 -4.6l-4.6 4.6M226.9 623.2l4.6 4.6m0 -4.6l-4.6 4.6M228.2 616.3l4.6 4.6m0 -4.6l-4.6 4.6M229.6 617.5l4.6 4.6m0 -4.6l-4.6 4.6M230.5 619.9l4.6 4.6m0 -4.6l-4.6 4.6M231.9 620.3l4.6 4.6m0 -4.6l-4.6 4.6M233.4 617.3l4.6 4.6m0 -4.6l-4.6 4.6M234.4 619.8l4.6 4.6m0 -4.6l-4.6 4.6M235.9 618.3l4.6 4.6m0 -4.6l-4.6 4.6M237.4 615.4l4.6 4.6m0 -4.6l-4.6 4.6M238.2 617.6l4.6 4.6m0 -4.6l-4.6 4.6M240 615.1l4.6 4.6m0 -4.6l-4.6 4.6M241.2 617.9l4.6 4.6m0 -4.6l-4.6 4.6M242.4 616.1l4.6 4.6m0 -4.6l-4.6 4.6M243.5 611.3l4.6 4.6m0 -4.6l-4.6 4.6M245.2 614.3l4.6 4.6m0 -4.6l-4.6 4.6M246.2 612l4.6 4.6m0 -4.6l-4.6 4.6M247.7 610.3l4.6 4.6m0 -4.6l-4.6 4.6M248.7 609.7l4.6 4.6m0 -4.6l-4.6 4.6M250.4 612.2l4.6 4.6m0 -4.6l-4.6 4.6M251.8 612.6l4.6 4.6m0 -4.6l-4.6 4.6M253.1 609.4l4.6 4.6m0 -4.6l-4.6 4.6M254.4 609.1l4.6 4.6m0 -4.6l-4.6 4.6M255.1 607.5l4.6 4.6m0 -4.6l-4.6 4.6M256.9 609.9l4.6 4.6m0 -4.6l-4.6 4.6M257.8 610.4l4.6 4.6m0 -4.6l-4.6 4.6M259.1 604.5l4.6 4.6m0 -4.6l-4.6 4.6M260.8 605.8l4.6 4.6m0 -4.6l-4.6 4.6M262.1 603.5l4.6 4.6m0 -4.6l-4.6 4.6M262.9 603.5l4.6 4.6m0 -4.6l-4.6 4.6M264.3 600.3l4.6 4.6m0 -4.6l-4.6 4.6M265.8 603.1l4.6 4.6m0 -4.6l-4.6 4.6M267.3 600.9l4.6 4.6m0 -4.6l-4.6 4.6M268.4 601.5l4.6 4.6m0 -4.6l-4.6 4.6M269.4 599l4.6 4.6m0 -4.6l-4.6 4.6M271.1 599.4l4.6 4.6m0 -4.6l-4.6 4.6M272.6 601.6l4.6 4.6m0 -4.6l-4.6 4.6M273.4 602.3l4.6 4.6m0 -4.6l-4.6 4.6M275.1 597l4.6 4.6m0 -4.6l-4.6 4.6M276.5 599.3l4.6 4.6m0 -4.6l-4.6 4.6M277.5 595.4l4.6 4.6m0 -4.6l-4.6 4.6M279 599.1l4.6 4.6m0 -4.6l-4.6 4.6M280.2 593.8l4.6 4.6m0 -4.6l-4.6 4.6M281.7 591.7l4.6 4.6m0 -4.6l-4.6 4.6M282.8 596.6l4.6 4.6m0 -4.6l-4.6 4.6M283.9 591.8l4.6 4.6m0 -4.6l-4.6 4.6M285.4 590.1l4.6 4.6m0 -4.6l-4.6 4.6M286.5 590.8l4.6 4.6m0 -4.6l-4.6 4.6M287.8 592.4l4.6 4.6m0 -4.6l-4.6 4.6M288.9 586.2l4.6 4.6m0 -4.6l-4.6 4.6M290.2 588.3l4.6 4.6m0 -4.6l-4.6 4.6M291.6 588.7l4.6 4.6m0 -4.6l-4.6 4.6M293.2 583.8l4.6 4.6m0 -4.6l-4.6 4.6M294.4 588.6l4.6 4.6m0 -4.6l-4.6 4.6M295.6 586.6l4.6 4.6m0 -4.6l-4.6 4.6M297.1 585.3l4.6 4.6m0 -4.6l-4.6 4.6M298.2 582.6l4.6 4.6m0 -4.6l-4.6 4.6M299.5 583l4.6 4.6m0 -4.6l-4.6 4.6M301 579.6l4.6 4.6m0 -4.6l-4.6 4.6M302.3 577.9l4.6 4.6m0 -4.6l-4.6 4.6M303.6 578l4.6 4.6m0 -4.6l-4.6 4.6M304.8 581.1l4.6 4.6m0 -4.6l-4.6 4.6M306.4 575l4.6 4.6m0 -4.6l-4.6 4.6M307.7 584.9l4.6 4.6m0 -4.6l-4.6 4.6M309 578.2l4.6 4.6m0 -4.6l-4.6 4.6M309.9 577l4.6 4.6m0 -4.6l-4.6 4.6M311.4 579l4.6 4.6m0 -4.6l-4.6 4.6M312.4 576.6l4.6 4.6m0 -4.6l-4.6 4.6M314.2 572.1l4.6 4.6m0 -4.6l-4.6 4.6M315.2 575.8l4.6 4.6m0 -4.6l-4.6 4.6M316.2 573.6l4.6 4.6m0 -4.6l-4.6 4.6M317.6 570.4l4.6 4.6m0 -4.6l-4.6 4.6M319.2 576.8l4.6 4.6m0 -4.6l-4.6 4.6M320.5 570.4l4.6 4.6m0 -4.6l-4.6 4.6M321.6 576.1l4.6 4.6m0 -4.6l-4.6 4.6M323 570.2l4.6 4.6m0 -4.6l-4.6 4.6M324.5 567.4l4.6 4.6m0 -4.6l-4.6 4.6M325.8 567.6l4.6 4.6m0 -4.6l-4.6 4.6M327.1 564.9l4.6 4.6m0 -4.6l-4.6 4.6M328.1 567.8l4.6 4.6m0 -4.6l-4.6 4.6M329.4 567.6l4.6 4.6m0 -4.6l-4.6 4.6M330.9 562.7l4.6 4.6m0 -4.6l-4.6 4.6M331.9 564.9l4.6 4.6m0 -4.6l-4.6 4.6M333.5 565.4l4.6 4.6m0 -4.6l-4.6 4.6M283.9 604l4.6 4.6m0 -4.6l-4.6 4.6M291.6 595.8l4.6 4.6m0 -4.6l-4.6 4.6M307.1 586.7l4.6 4.6m0 -4.6l-4.6 4.6M316.2 583.9l4.6 4.6m0 -4.6l-4.6 4.6M276.1 616.9l4.6 4.6m0 -4.6l-4.6 4.6M283.3 604.1l4.6 4.6m0 -4.6l-4.6 4.6M276.3 617.5l4.6 4.6m0 -4.6l-4.6 4.6M151.8 632.2l4.6 4.6m0 -4.6l-4.6 4.6M184.2 670.7l4.6 4.6m0 -4.6l-4.6 4.6"/>
<path fill="none" stroke="#A3BEDD" stroke-width="1.7" d="M103.2 672.6h5.2m-2.6 -2.6v5.2M104.5 667.3h5.2m-2.6 -2.6v5.2M105.4 667.4h5.2m-2.6 -2.6v5.2M106.9 671.1h5.2m-2.6 -2.6v5.2M108.5 670.5h5.2m-2.6 -2.6v5.2M109.4 670.6h5.2m-2.6 -2.6v5.2M110.8 671.9h5.2m-2.6 -2.6v5.2M112.1 674.1h5.2m-2.6 -2.6v5.2M113.5 674h5.2m-2.6 -2.6v5.2M114.8 673.8h5.2m-2.6 -2.6v5.2M115.9 673.5h5.2m-2.6 -2.6v5.2M117.2 676.4h5.2m-2.6 -2.6v5.2M118.7 676.2h5.2m-2.6 -2.6v5.2M120.2 674.8h5.2m-2.6 -2.6v5.2M121.1 673.1h5.2m-2.6 -2.6v5.2M122.5 676.1h5.2m-2.6 -2.6v5.2M123.6 673.1h5.2m-2.6 -2.6v5.2M125.3 674.4h5.2m-2.6 -2.6v5.2M126.1 671.2h5.2m-2.6 -2.6v5.2M127.6 673.6h5.2m-2.6 -2.6v5.2M128.8 670.7h5.2m-2.6 -2.6v5.2M130.3 673.7h5.2m-2.6 -2.6v5.2M131.7 675.4h5.2m-2.6 -2.6v5.2M132.7 671.1h5.2m-2.6 -2.6v5.2M134.3 667.3h5.2m-2.6 -2.6v5.2M135.4 667.1h5.2m-2.6 -2.6v5.2M136.6 669.9h5.2m-2.6 -2.6v5.2M138 670.4h5.2m-2.6 -2.6v5.2M139.7 669.3h5.2m-2.6 -2.6v5.2M140.9 670.8h5.2m-2.6 -2.6v5.2M141.9 669.2h5.2m-2.6 -2.6v5.2M143 667.4h5.2m-2.6 -2.6v5.2M144.4 667.8h5.2m-2.6 -2.6v5.2M145.9 665.4h5.2m-2.6 -2.6v5.2M146.9 668.6h5.2m-2.6 -2.6v5.2M148.6 667.8h5.2m-2.6 -2.6v5.2M149.9 665.4h5.2m-2.6 -2.6v5.2M151 661.8h5.2m-2.6 -2.6v5.2M152.2 663h5.2m-2.6 -2.6v5.2M154 662.4h5.2m-2.6 -2.6v5.2M154.9 660.2h5.2m-2.6 -2.6v5.2M156.1 656.1h5.2m-2.6 -2.6v5.2M157.9 654h5.2m-2.6 -2.6v5.2M159.1 650.8h5.2m-2.6 -2.6v5.2M160.2 647.9h5.2m-2.6 -2.6v5.2M161.4 642.5h5.2m-2.6 -2.6v5.2M163 646h5.2m-2.6 -2.6v5.2M164.2 644.1h5.2m-2.6 -2.6v5.2M165.6 648.3h5.2m-2.6 -2.6v5.2M167 641.5h5.2m-2.6 -2.6v5.2M168 643.5h5.2m-2.6 -2.6v5.2M169.5 639.8h5.2m-2.6 -2.6v5.2M170.8 642.9h5.2m-2.6 -2.6v5.2M171.7 645.7h5.2m-2.6 -2.6v5.2M173.3 641.6h5.2m-2.6 -2.6v5.2M174.7 644.5h5.2m-2.6 -2.6v5.2M176 644h5.2m-2.6 -2.6v5.2M177.2 639.1h5.2m-2.6 -2.6v5.2M178.4 642.8h5.2m-2.6 -2.6v5.2M179.9 642.7h5.2m-2.6 -2.6v5.2M181 642.5h5.2m-2.6 -2.6v5.2M182.2 639.1h5.2m-2.6 -2.6v5.2M183.6 639.1h5.2m-2.6 -2.6v5.2M185.1 640.1h5.2m-2.6 -2.6v5.2M185.9 637.2h5.2m-2.6 -2.6v5.2M187.2 638h5.2m-2.6 -2.6v5.2M188.5 639.2h5.2m-2.6 -2.6v5.2M189.9 634.1h5.2m-2.6 -2.6v5.2M191.2 633.5h5.2m-2.6 -2.6v5.2M192.5 633.6h5.2m-2.6 -2.6v5.2M193.7 634.5h5.2m-2.6 -2.6v5.2M195.2 636.6h5.2m-2.6 -2.6v5.2M196.7 635h5.2m-2.6 -2.6v5.2M198 631.6h5.2m-2.6 -2.6v5.2M199.2 634.2h5.2m-2.6 -2.6v5.2M200.8 633.2h5.2m-2.6 -2.6v5.2M201.5 633.2h5.2m-2.6 -2.6v5.2M203.3 629.6h5.2m-2.6 -2.6v5.2M204.1 629.9h5.2m-2.6 -2.6v5.2M205.8 625.8h5.2m-2.6 -2.6v5.2M206.8 625.3h5.2m-2.6 -2.6v5.2M208.4 627.7h5.2m-2.6 -2.6v5.2M209.7 625.1h5.2m-2.6 -2.6v5.2M211.1 627.1h5.2m-2.6 -2.6v5.2M212.1 626h5.2m-2.6 -2.6v5.2M213.3 623.6h5.2m-2.6 -2.6v5.2M215 621.7h5.2m-2.6 -2.6v5.2M216.2 623h5.2m-2.6 -2.6v5.2M217.4 618.5h5.2m-2.6 -2.6v5.2M218.7 620.9h5.2m-2.6 -2.6v5.2M220 624.8h5.2m-2.6 -2.6v5.2M221.6 617.5h5.2m-2.6 -2.6v5.2M222.4 622.3h5.2m-2.6 -2.6v5.2M224 621.3h5.2m-2.6 -2.6v5.2M225.4 617.6h5.2m-2.6 -2.6v5.2M226.3 619.6h5.2m-2.6 -2.6v5.2M227.9 619h5.2m-2.6 -2.6v5.2M229.3 617.7h5.2m-2.6 -2.6v5.2M230.2 615.3h5.2m-2.6 -2.6v5.2M231.6 614.3h5.2m-2.6 -2.6v5.2M233 612.7h5.2m-2.6 -2.6v5.2M234.6 615.6h5.2m-2.6 -2.6v5.2M235.8 614.2h5.2m-2.6 -2.6v5.2M237.2 615.3h5.2m-2.6 -2.6v5.2M238.1 612.5h5.2m-2.6 -2.6v5.2M239.7 608.2h5.2m-2.6 -2.6v5.2M240.8 607.7h5.2m-2.6 -2.6v5.2M242.2 607.1h5.2m-2.6 -2.6v5.2M243.5 607.9h5.2m-2.6 -2.6v5.2M244.8 609.1h5.2m-2.6 -2.6v5.2M245.9 605.7h5.2m-2.6 -2.6v5.2M247.2 608.1h5.2m-2.6 -2.6v5.2M248.4 606.1h5.2m-2.6 -2.6v5.2M250.1 604.8h5.2m-2.6 -2.6v5.2M251.2 605.4h5.2m-2.6 -2.6v5.2M252.8 603.6h5.2m-2.6 -2.6v5.2M253.7 604.1h5.2m-2.6 -2.6v5.2M255.2 603.3h5.2m-2.6 -2.6v5.2M256.7 601.5h5.2m-2.6 -2.6v5.2M257.8 603.1h5.2m-2.6 -2.6v5.2M259.2 602.4h5.2m-2.6 -2.6v5.2M260.6 597.9h5.2m-2.6 -2.6v5.2M261.6 599.9h5.2m-2.6 -2.6v5.2M262.7 598.3h5.2m-2.6 -2.6v5.2M264.3 601.5h5.2m-2.6 -2.6v5.2M265.6 598.7h5.2m-2.6 -2.6v5.2M266.7 598.1h5.2m-2.6 -2.6v5.2M267.9 597.5h5.2m-2.6 -2.6v5.2M269.3 594.9h5.2m-2.6 -2.6v5.2M270.9 594.5h5.2m-2.6 -2.6v5.2M271.9 597.8h5.2m-2.6 -2.6v5.2M273.5 594.1h5.2m-2.6 -2.6v5.2M274.5 596.6h5.2m-2.6 -2.6v5.2M276.1 596.2h5.2m-2.6 -2.6v5.2M277.3 594.4h5.2m-2.6 -2.6v5.2M278.8 594.7h5.2m-2.6 -2.6v5.2M279.6 589.6h5.2m-2.6 -2.6v5.2M281.3 588.3h5.2m-2.6 -2.6v5.2M282.4 589.5h5.2m-2.6 -2.6v5.2M283.5 589.9h5.2m-2.6 -2.6v5.2M284.8 588h5.2m-2.6 -2.6v5.2M286.1 587.6h5.2m-2.6 -2.6v5.2M287.7 588h5.2m-2.6 -2.6v5.2M289.1 583.6h5.2m-2.6 -2.6v5.2M290.1 586.4h5.2m-2.6 -2.6v5.2M291.4 586h5.2m-2.6 -2.6v5.2M292.6 587.3h5.2m-2.6 -2.6v5.2M294.1 582h5.2m-2.6 -2.6v5.2M295.2 583.6h5.2m-2.6 -2.6v5.2M296.6 579.4h5.2m-2.6 -2.6v5.2M298.2 581.3h5.2m-2.6 -2.6v5.2M299.3 575.9h5.2m-2.6 -2.6v5.2M300.5 574.6h5.2m-2.6 -2.6v5.2M302.1 576.2h5.2m-2.6 -2.6v5.2M302.9 577.5h5.2m-2.6 -2.6v5.2M304.6 575.7h5.2m-2.6 -2.6v5.2M306 576.2h5.2m-2.6 -2.6v5.2M307.1 572.4h5.2m-2.6 -2.6v5.2M308.2 579.4h5.2m-2.6 -2.6v5.2M309.5 575.7h5.2m-2.6 -2.6v5.2M311.2 574.8h5.2m-2.6 -2.6v5.2M312.4 576.6h5.2m-2.6 -2.6v5.2M313.9 576.5h5.2m-2.6 -2.6v5.2M314.7 573.9h5.2m-2.6 -2.6v5.2M316.2 571.1h5.2m-2.6 -2.6v5.2M317.7 573.8h5.2m-2.6 -2.6v5.2M318.9 572.4h5.2m-2.6 -2.6v5.2M320.1 573.6h5.2m-2.6 -2.6v5.2M321.2 570.6h5.2m-2.6 -2.6v5.2M323 573h5.2m-2.6 -2.6v5.2M323.8 569.2h5.2m-2.6 -2.6v5.2M325.4 567.3h5.2m-2.6 -2.6v5.2M326.7 570.4h5.2m-2.6 -2.6v5.2M328.1 564.9h5.2m-2.6 -2.6v5.2M329.4 569.6h5.2m-2.6 -2.6v5.2M330.5 568.9h5.2m-2.6 -2.6v5.2M331.8 564.6h5.2m-2.6 -2.6v5.2M332.8 558.6h5.2m-2.6 -2.6v5.2M304.7 593.9h5.2m-2.6 -2.6v5.2M313.1 596h5.2m-2.6 -2.6v5.2M322.3 587.6h5.2m-2.6 -2.6v5.2M151.5 621.8h5.2m-2.6 -2.6v5.2M150.1 628.8h5.2m-2.6 -2.6v5.2M165.6 614.8h5.2m-2.6 -2.6v5.2M166.3 633.8h5.2m-2.6 -2.6v5.2"/>
<path fill="#EA7016" d="M105.8 658.5l2.9 4.9h-5.8zM106.8 667.7l2.9 4.9h-5.8zM108.3 669.9l2.9 4.9h-5.8zM109.6 673.4l2.9 4.9h-5.8zM110.9 674.2l2.9 4.9h-5.8zM112.7 681.1l2.9 4.9h-5.8zM114.3 680.6l2.9 4.9h-5.8zM115.5 675.6l2.9 4.9h-5.8zM117.1 682.1l2.9 4.9h-5.8zM118.4 681.8l2.9 4.9h-5.8zM119.7 685.7l2.9 4.9h-5.8zM120.9 682.4l2.9 4.9h-5.8zM122.2 683.5l2.9 4.9h-5.8zM124.1 683.1l2.9 4.9h-5.8zM125.5 680l2.9 4.9h-5.8zM126.8 679.5l2.9 4.9h-5.8zM127.9 682.6l2.9 4.9h-5.8zM129.5 674.5l2.9 4.9h-5.8zM130.8 681.8l2.9 4.9h-5.8zM132.4 682.3l2.9 4.9h-5.8zM133.6 680.5l2.9 4.9h-5.8zM134.7 683.9l2.9 4.9h-5.8zM136.3 676.9l2.9 4.9h-5.8zM137.7 676.3l2.9 4.9h-5.8zM139.1 682.6l2.9 4.9h-5.8zM140.5 681.7l2.9 4.9h-5.8zM141.7 674.9l2.9 4.9h-5.8zM143.4 679.8l2.9 4.9h-5.8zM145.1 678l2.9 4.9h-5.8zM146.3 673.9l2.9 4.9h-5.8zM147.4 675l2.9 4.9h-5.8zM149.3 670.9l2.9 4.9h-5.8zM150.6 677.3l2.9 4.9h-5.8zM152 671l2.9 4.9h-5.8zM153 671l2.9 4.9h-5.8zM154.7 668.3l2.9 4.9h-5.8zM155.9 668.7l2.9 4.9h-5.8zM157.6 668.8l2.9 4.9h-5.8zM158.7 667.8l2.9 4.9h-5.8zM160 668.5l2.9 4.9h-5.8zM161.9 667.9l2.9 4.9h-5.8zM163.2 668.3l2.9 4.9h-5.8zM164.5 666l2.9 4.9h-5.8zM165.8 667.1l2.9 4.9h-5.8zM167.2 667.4l2.9 4.9h-5.8zM168.7 671.7l2.9 4.9h-5.8zM170 669.7l2.9 4.9h-5.8zM171.3 664.5l2.9 4.9h-5.8zM172.7 663.7l2.9 4.9h-5.8zM174.3 666.5l2.9 4.9h-5.8zM175.5 662.5l2.9 4.9h-5.8zM177 669.2l2.9 4.9h-5.8zM178.3 663.5l2.9 4.9h-5.8zM180 667.3l2.9 4.9h-5.8zM181.2 662.3l2.9 4.9h-5.8zM182.4 663l2.9 4.9h-5.8zM183.8 659l2.9 4.9h-5.8zM185.6 659.3l2.9 4.9h-5.8zM187.1 659l2.9 4.9h-5.8zM188 664l2.9 4.9h-5.8zM189.6 666.7l2.9 4.9h-5.8zM191 662.5l2.9 4.9h-5.8zM192.4 660.5l2.9 4.9h-5.8zM193.9 661.1l2.9 4.9h-5.8zM195.4 658.4l2.9 4.9h-5.8zM196.8 661l2.9 4.9h-5.8zM197.8 656l2.9 4.9h-5.8zM199.5 660.3l2.9 4.9h-5.8zM200.6 653.1l2.9 4.9h-5.8zM202 656.4l2.9 4.9h-5.8zM203.5 654.6l2.9 4.9h-5.8zM205 656.2l2.9 4.9h-5.8zM206.4 651.3l2.9 4.9h-5.8zM207.5 654.6l2.9 4.9h-5.8zM209.2 655.1l2.9 4.9h-5.8zM210.4 649.1l2.9 4.9h-5.8zM211.8 649.1l2.9 4.9h-5.8zM213.6 650.3l2.9 4.9h-5.8zM214.9 652.5l2.9 4.9h-5.8zM216 647.1l2.9 4.9h-5.8zM217.8 645.2l2.9 4.9h-5.8zM219.3 644.4l2.9 4.9h-5.8zM220.6 650.3l2.9 4.9h-5.8zM221.6 642.9l2.9 4.9h-5.8zM223.3 643.7l2.9 4.9h-5.8zM224.5 642.9l2.9 4.9h-5.8zM226 645.2l2.9 4.9h-5.8zM227.2 644.7l2.9 4.9h-5.8zM228.6 646.8l2.9 4.9h-5.8zM230.5 645.8l2.9 4.9h-5.8zM231.6 644l2.9 4.9h-5.8zM232.8 641.9l2.9 4.9h-5.8zM234.4 643.4l2.9 4.9h-5.8zM235.8 639.8l2.9 4.9h-5.8zM237 646.2l2.9 4.9h-5.8zM238.7 640.6l2.9 4.9h-5.8zM240.1 647l2.9 4.9h-5.8zM241.5 640.4l2.9 4.9h-5.8zM243 641.5l2.9 4.9h-5.8zM244.4 641.8l2.9 4.9h-5.8zM245.9 639.4l2.9 4.9h-5.8zM247.1 644.1l2.9 4.9h-5.8zM248.7 641.3l2.9 4.9h-5.8zM250.1 643.3l2.9 4.9h-5.8zM251 636.1l2.9 4.9h-5.8zM252.5 637l2.9 4.9h-5.8zM254 644l2.9 4.9h-5.8zM255.4 640.1l2.9 4.9h-5.8zM256.6 639.2l2.9 4.9h-5.8zM258.1 642.3l2.9 4.9h-5.8zM259.8 640.8l2.9 4.9h-5.8zM261 641.8l2.9 4.9h-5.8zM262.5 639.9l2.9 4.9h-5.8zM263.9 639.7l2.9 4.9h-5.8zM265.3 637.2l2.9 4.9h-5.8zM266.3 643.3l2.9 4.9h-5.8zM267.9 637.5l2.9 4.9h-5.8zM269.5 636.8l2.9 4.9h-5.8zM270.7 634.6l2.9 4.9h-5.8zM272.5 635.4l2.9 4.9h-5.8zM273.9 633.5l2.9 4.9h-5.8zM275 633.8l2.9 4.9h-5.8zM276.7 631l2.9 4.9h-5.8zM277.6 629.3l2.9 4.9h-5.8zM279.2 633.5l2.9 4.9h-5.8zM280.9 630.3l2.9 4.9h-5.8zM292.5 579.3l2.9 4.9h-5.8zM274.9 551.1l2.9 4.9h-5.8zM291 603.9l2.9 4.9h-5.8zM294 609.3l2.9 4.9h-5.8zM298 617.9l2.9 4.9h-5.8zM296 613.3l2.9 4.9h-5.8zM330.5 590.5l2.9 4.9h-5.8zM331.2 595.4l2.9 4.9h-5.8zM336.1 603.9l2.9 4.9h-5.8zM323.4 609.5l2.9 4.9h-5.8zM327 613.3l2.9 4.9h-5.8zM330.5 616.5l2.9 4.9h-5.8zM327 622.9l2.9 4.9h-5.8zM260.3 584l2.9 4.9h-5.8zM263.1 589.6l2.9 4.9h-5.8zM267.4 593.9l2.9 4.9h-5.8zM268.1 653.6l2.9 4.9h-5.8zM186.5 690.1l2.9 4.9h-5.8zM153.4 647.3l2.9 4.9h-5.8zM250 645.3l2.9 4.9h-5.8zM255 649.3l2.9 4.9h-5.8zM262 637.3l2.9 4.9h-5.8zM270 633.3l2.9 4.9h-5.8zM276 637.3l2.9 4.9h-5.8zM283 627.3l2.9 4.9h-5.8zM287 623.3l2.9 4.9h-5.8zM300 633.3l2.9 4.9h-5.8zM278 642.3l2.9 4.9h-5.8zM284 645.3l2.9 4.9h-5.8z"/>
<path fill="#FDBB47" d="M105.4 656.1l2.7 2.7 -2.7 2.7 -2.7 -2.7zM106.9 655.5l2.7 2.7 -2.7 2.7 -2.7 -2.7zM108.4 658.2l2.7 2.7 -2.7 2.7 -2.7 -2.7zM109.6 656.8l2.7 2.7 -2.7 2.7 -2.7 -2.7zM111.1 659.7l2.7 2.7 -2.7 2.7 -2.7 -2.7zM112.3 656.5l2.7 2.7 -2.7 2.7 -2.7 -2.7zM114 658.2l2.7 2.7 -2.7 2.7 -2.7 -2.7zM115.4 659.3l2.7 2.7 -2.7 2.7 -2.7 -2.7zM117.1 659.2l2.7 2.7 -2.7 2.7 -2.7 -2.7zM118.4 655.7l2.7 2.7 -2.7 2.7 -2.7 -2.7zM119.5 657.5l2.7 2.7 -2.7 2.7 -2.7 -2.7zM121.1 662.4l2.7 2.7 -2.7 2.7 -2.7 -2.7zM122.7 656.9l2.7 2.7 -2.7 2.7 -2.7 -2.7zM123.6 658.5l2.7 2.7 -2.7 2.7 -2.7 -2.7zM125.2 660.5l2.7 2.7 -2.7 2.7 -2.7 -2.7zM126.4 657.5l2.7 2.7 -2.7 2.7 -2.7 -2.7zM127.9 659.1l2.7 2.7 -2.7 2.7 -2.7 -2.7zM129.4 660.8l2.7 2.7 -2.7 2.7 -2.7 -2.7zM130.5 655.1l2.7 2.7 -2.7 2.7 -2.7 -2.7zM132.2 657.6l2.7 2.7 -2.7 2.7 -2.7 -2.7zM133.5 656.6l2.7 2.7 -2.7 2.7 -2.7 -2.7zM134.7 657.1l2.7 2.7 -2.7 2.7 -2.7 -2.7zM136.4 660.8l2.7 2.7 -2.7 2.7 -2.7 -2.7zM137.6 659.4l2.7 2.7 -2.7 2.7 -2.7 -2.7zM139 659.8l2.7 2.7 -2.7 2.7 -2.7 -2.7zM140.9 657.9l2.7 2.7 -2.7 2.7 -2.7 -2.7zM142 660.3l2.7 2.7 -2.7 2.7 -2.7 -2.7zM143.4 656.9l2.7 2.7 -2.7 2.7 -2.7 -2.7zM144.6 656.8l2.7 2.7 -2.7 2.7 -2.7 -2.7zM146.5 655.6l2.7 2.7 -2.7 2.7 -2.7 -2.7zM147.7 660l2.7 2.7 -2.7 2.7 -2.7 -2.7zM148.9 653.5l2.7 2.7 -2.7 2.7 -2.7 -2.7zM150.5 655.8l2.7 2.7 -2.7 2.7 -2.7 -2.7zM151.9 655.9l2.7 2.7 -2.7 2.7 -2.7 -2.7zM153.2 654.5l2.7 2.7 -2.7 2.7 -2.7 -2.7zM154.6 657.7l2.7 2.7 -2.7 2.7 -2.7 -2.7zM155.8 653.9l2.7 2.7 -2.7 2.7 -2.7 -2.7zM157.6 651.6l2.7 2.7 -2.7 2.7 -2.7 -2.7zM158.5 654.8l2.7 2.7 -2.7 2.7 -2.7 -2.7zM159.9 654.6l2.7 2.7 -2.7 2.7 -2.7 -2.7zM161.7 649l2.7 2.7 -2.7 2.7 -2.7 -2.7zM163.2 648.9l2.7 2.7 -2.7 2.7 -2.7 -2.7zM164.6 649.1l2.7 2.7 -2.7 2.7 -2.7 -2.7zM165.6 652l2.7 2.7 -2.7 2.7 -2.7 -2.7zM167.4 652.3l2.7 2.7 -2.7 2.7 -2.7 -2.7zM168.4 647.9l2.7 2.7 -2.7 2.7 -2.7 -2.7zM169.8 649.1l2.7 2.7 -2.7 2.7 -2.7 -2.7zM171.4 652.8l2.7 2.7 -2.7 2.7 -2.7 -2.7zM172.8 650.8l2.7 2.7 -2.7 2.7 -2.7 -2.7zM174.2 651.7l2.7 2.7 -2.7 2.7 -2.7 -2.7zM175.8 651.8l2.7 2.7 -2.7 2.7 -2.7 -2.7zM177 651.7l2.7 2.7 -2.7 2.7 -2.7 -2.7zM178.3 649.5l2.7 2.7 -2.7 2.7 -2.7 -2.7zM179.8 650.1l2.7 2.7 -2.7 2.7 -2.7 -2.7zM181 650.7l2.7 2.7 -2.7 2.7 -2.7 -2.7zM182.7 649.6l2.7 2.7 -2.7 2.7 -2.7 -2.7zM183.8 647.8l2.7 2.7 -2.7 2.7 -2.7 -2.7zM185.4 649.3l2.7 2.7 -2.7 2.7 -2.7 -2.7zM186.6 647.6l2.7 2.7 -2.7 2.7 -2.7 -2.7zM188.3 646.3l2.7 2.7 -2.7 2.7 -2.7 -2.7zM189.5 643.3l2.7 2.7 -2.7 2.7 -2.7 -2.7zM191.2 644.3l2.7 2.7 -2.7 2.7 -2.7 -2.7zM192.2 642.1l2.7 2.7 -2.7 2.7 -2.7 -2.7zM193.8 645.3l2.7 2.7 -2.7 2.7 -2.7 -2.7zM195.4 645.1l2.7 2.7 -2.7 2.7 -2.7 -2.7zM196.7 641.4l2.7 2.7 -2.7 2.7 -2.7 -2.7zM197.8 641.9l2.7 2.7 -2.7 2.7 -2.7 -2.7zM199.2 644.3l2.7 2.7 -2.7 2.7 -2.7 -2.7zM200.9 643.7l2.7 2.7 -2.7 2.7 -2.7 -2.7zM202.5 642.9l2.7 2.7 -2.7 2.7 -2.7 -2.7zM203.5 637.4l2.7 2.7 -2.7 2.7 -2.7 -2.7zM205.1 637.9l2.7 2.7 -2.7 2.7 -2.7 -2.7zM206.5 640.4l2.7 2.7 -2.7 2.7 -2.7 -2.7zM208.1 638.2l2.7 2.7 -2.7 2.7 -2.7 -2.7zM209.1 635.4l2.7 2.7 -2.7 2.7 -2.7 -2.7zM210.4 636.8l2.7 2.7 -2.7 2.7 -2.7 -2.7zM211.8 635.2l2.7 2.7 -2.7 2.7 -2.7 -2.7zM213.6 636.2l2.7 2.7 -2.7 2.7 -2.7 -2.7zM214.6 632.7l2.7 2.7 -2.7 2.7 -2.7 -2.7zM216.3 634.7l2.7 2.7 -2.7 2.7 -2.7 -2.7zM217.7 635.3l2.7 2.7 -2.7 2.7 -2.7 -2.7zM219.2 632.3l2.7 2.7 -2.7 2.7 -2.7 -2.7zM220.4 631.5l2.7 2.7 -2.7 2.7 -2.7 -2.7zM221.7 637.1l2.7 2.7 -2.7 2.7 -2.7 -2.7zM223.4 632.2l2.7 2.7 -2.7 2.7 -2.7 -2.7zM224.7 633.5l2.7 2.7 -2.7 2.7 -2.7 -2.7zM226.3 632.3l2.7 2.7 -2.7 2.7 -2.7 -2.7zM227.6 628.1l2.7 2.7 -2.7 2.7 -2.7 -2.7zM228.9 630.6l2.7 2.7 -2.7 2.7 -2.7 -2.7zM230.2 627.1l2.7 2.7 -2.7 2.7 -2.7 -2.7zM231.3 626.7l2.7 2.7 -2.7 2.7 -2.7 -2.7zM233.2 628.7l2.7 2.7 -2.7 2.7 -2.7 -2.7zM234.3 625l2.7 2.7 -2.7 2.7 -2.7 -2.7zM235.5 626.9l2.7 2.7 -2.7 2.7 -2.7 -2.7zM237.3 629l2.7 2.7 -2.7 2.7 -2.7 -2.7zM238.9 624.9l2.7 2.7 -2.7 2.7 -2.7 -2.7zM240.1 626.7l2.7 2.7 -2.7 2.7 -2.7 -2.7zM241.2 626.2l2.7 2.7 -2.7 2.7 -2.7 -2.7zM242.7 624.8l2.7 2.7 -2.7 2.7 -2.7 -2.7zM244.1 625.9l2.7 2.7 -2.7 2.7 -2.7 -2.7zM245.5 624.7l2.7 2.7 -2.7 2.7 -2.7 -2.7zM247.1 621.1l2.7 2.7 -2.7 2.7 -2.7 -2.7zM248.5 624.2l2.7 2.7 -2.7 2.7 -2.7 -2.7zM249.7 623l2.7 2.7 -2.7 2.7 -2.7 -2.7zM251.1 620l2.7 2.7 -2.7 2.7 -2.7 -2.7zM252.5 621.2l2.7 2.7 -2.7 2.7 -2.7 -2.7zM253.9 621.7l2.7 2.7 -2.7 2.7 -2.7 -2.7zM255.5 622.2l2.7 2.7 -2.7 2.7 -2.7 -2.7zM257 621.3l2.7 2.7 -2.7 2.7 -2.7 -2.7zM258.3 618.4l2.7 2.7 -2.7 2.7 -2.7 -2.7zM259.9 621.8l2.7 2.7 -2.7 2.7 -2.7 -2.7zM261.3 620.5l2.7 2.7 -2.7 2.7 -2.7 -2.7zM262.7 618.2l2.7 2.7 -2.7 2.7 -2.7 -2.7zM264 618.2l2.7 2.7 -2.7 2.7 -2.7 -2.7zM265.1 615l2.7 2.7 -2.7 2.7 -2.7 -2.7zM266.7 615.2l2.7 2.7 -2.7 2.7 -2.7 -2.7zM268.3 614.4l2.7 2.7 -2.7 2.7 -2.7 -2.7zM269.3 614l2.7 2.7 -2.7 2.7 -2.7 -2.7zM270.7 612.9l2.7 2.7 -2.7 2.7 -2.7 -2.7zM271.9 613.8l2.7 2.7 -2.7 2.7 -2.7 -2.7zM273.8 615.9l2.7 2.7 -2.7 2.7 -2.7 -2.7zM275.2 615.4l2.7 2.7 -2.7 2.7 -2.7 -2.7zM276.2 612.8l2.7 2.7 -2.7 2.7 -2.7 -2.7zM155.6 623.3l2.7 2.7 -2.7 2.7 -2.7 -2.7zM154.1 628.9l2.7 2.7 -2.7 2.7 -2.7 -2.7zM175.2 634.6l2.7 2.7 -2.7 2.7 -2.7 -2.7zM186.5 669l2.7 2.7 -2.7 2.7 -2.7 -2.7zM268.1 640.3l2.7 2.7 -2.7 2.7 -2.7 -2.7z"/>
<path fill="#1B5424" d="M101.7 652.4h5v5h-5zM105.9 650.9h5v5h-5zM110.2 648.8h5v5h-5zM113 619.3h5v5h-5zM114.5 645.5h5v5h-5zM117.9 641.8h5v5h-5zM120.7 637.6h5v5h-5zM124.2 628.4h5v5h-5zM127 623.5h5v5h-5zM131.3 629.8h5v5h-5zM134.8 606.6h5v5h-5zM137.8 590h5v5h-5zM141.1 616.5h5v5h-5zM145.3 613.7h5v5h-5zM148.5 613h5v5h-5zM151.6 612.3h5v5h-5zM154.5 605.2h5v5h-5zM158 601.7h5v5h-5zM160.5 601h5v5h-5zM163.6 600.3h5v5h-5zM166.5 599.5h5v5h-5zM169.2 598.9h5v5h-5zM173.5 598h5v5h-5zM177.7 598.9h5v5h-5zM181.9 597.5h5v5h-5zM184.7 586h5v5h-5zM187.5 583.5h5v5h-5zM190.1 581.9h5v5h-5zM193.5 581.5h5v5h-5zM196.8 581.4h5v5h-5zM200.2 580.7h5v5h-5zM201.6 576.5h5v5h-5zM204.5 577.5h5v5h-5zM207.5 577.9h5v5h-5zM210.5 575.5h5v5h-5zM212.8 574.4h5v5h-5zM216.3 583.5h5v5h-5zM218 571.5h5v5h-5zM221.3 568h5v5h-5zM223.5 565.5h5v5h-5zM226.9 563.8h5v5h-5zM230.4 567.2h5v5h-5zM232.5 565.5h5v5h-5zM235.3 564.5h5v5h-5zM237.5 559.5h5v5h-5zM239.8 555.1h5v5h-5zM243.8 557.5h5v5h-5zM246.6 578.6h5v5h-5zM247.9 552.4h5v5h-5zM250.5 551.1h5v5h-5zM253.2 547h5v5h-5zM255.9 555.1h5v5h-5zM258.6 544.3h5v5h-5zM261 549.5h5v5h-5zM264 556.4h5v5h-5zM267.5 555.5h5v5h-5zM270.3 545.7h5v5h-5zM273 547.5h5v5h-5zM275.9 549.2h5v5h-5zM280.2 540.1h5v5h-5zM283.7 548.5h5v5h-5zM287.2 542.9h5v5h-5zM289.5 540.5h5v5h-5zM292.1 538.7h5v5h-5zM295.6 542.9h5v5h-5zM298.4 535.2h5v5h-5zM301.3 539.4h5v5h-5zM305.5 535.9h5v5h-5zM309 532.3h5v5h-5zM311 532.5h5v5h-5zM313.9 533h5v5h-5zM317.5 533.5h5v5h-5zM321.6 533.8h5v5h-5zM324.5 531.6h5v5h-5zM328 527.4h5v5h-5zM331.5 528.8h5v5h-5zM335 526.7h5v5h-5zM338.5 526h5v5h-5zM344.2 526h5v5h-5zM349.5 524.5h5v5h-5zM355.5 522.5h5v5h-5zM318.5 679.1h5v5h-5z"/>
</g>
<g clip-path="url(#cpf)">
<path fill="none" stroke="#1A72B6" stroke-width="1.6" d="M421.6 667.1l4.6 4.6m0 -4.6l-4.6 4.6M423.2 670.1l4.6 4.6m0 -4.6l-4.6 4.6M424.9 676.5l4.6 4.6m0 -4.6l-4.6 4.6M425.9 679.6l4.6 4.6m0 -4.6l-4.6 4.6M427.2 682.8l4.6 4.6m0 -4.6l-4.6 4.6M429.2 687.8l4.6 4.6m0 -4.6l-4.6 4.6M430.3 692l4.6 4.6m0 -4.6l-4.6 4.6M431.5 699.2l4.6 4.6m0 -4.6l-4.6 4.6M433 698.7l4.6 4.6m0 -4.6l-4.6 4.6M434.7 698.7l4.6 4.6m0 -4.6l-4.6 4.6M436.1 700.7l4.6 4.6m0 -4.6l-4.6 4.6M437.2 699.8l4.6 4.6m0 -4.6l-4.6 4.6M438.9 699.8l4.6 4.6m0 -4.6l-4.6 4.6M440 700l4.6 4.6m0 -4.6l-4.6 4.6M441.3 702.2l4.6 4.6m0 -4.6l-4.6 4.6M442.9 701.1l4.6 4.6m0 -4.6l-4.6 4.6M444.2 700.9l4.6 4.6m0 -4.6l-4.6 4.6M445.9 702.4l4.6 4.6m0 -4.6l-4.6 4.6M447.3 701.3l4.6 4.6m0 -4.6l-4.6 4.6M448.8 703.6l4.6 4.6m0 -4.6l-4.6 4.6M450.1 701.5l4.6 4.6m0 -4.6l-4.6 4.6M451.2 704.5l4.6 4.6m0 -4.6l-4.6 4.6M452.6 704.6l4.6 4.6m0 -4.6l-4.6 4.6M453.9 702.5l4.6 4.6m0 -4.6l-4.6 4.6M455.5 702.2l4.6 4.6m0 -4.6l-4.6 4.6M457 705.6l4.6 4.6m0 -4.6l-4.6 4.6M458 704.7l4.6 4.6m0 -4.6l-4.6 4.6M459.5 706.1l4.6 4.6m0 -4.6l-4.6 4.6M461.2 706.4l4.6 4.6m0 -4.6l-4.6 4.6M462.4 703.1l4.6 4.6m0 -4.6l-4.6 4.6M463.9 704.9l4.6 4.6m0 -4.6l-4.6 4.6M465.3 703.1l4.6 4.6m0 -4.6l-4.6 4.6M466.5 704l4.6 4.6m0 -4.6l-4.6 4.6M468.3 702.3l4.6 4.6m0 -4.6l-4.6 4.6M469.5 705l4.6 4.6m0 -4.6l-4.6 4.6M470.6 701.9l4.6 4.6m0 -4.6l-4.6 4.6M472.5 702l4.6 4.6m0 -4.6l-4.6 4.6M473.8 701.7l4.6 4.6m0 -4.6l-4.6 4.6M474.9 704.6l4.6 4.6m0 -4.6l-4.6 4.6M476.7 702.2l4.6 4.6m0 -4.6l-4.6 4.6M477.7 703.8l4.6 4.6m0 -4.6l-4.6 4.6M479.3 701.4l4.6 4.6m0 -4.6l-4.6 4.6M480.8 701.8l4.6 4.6m0 -4.6l-4.6 4.6M482.4 704.3l4.6 4.6m0 -4.6l-4.6 4.6M483.8 701.7l4.6 4.6m0 -4.6l-4.6 4.6M485.1 702.1l4.6 4.6m0 -4.6l-4.6 4.6M486.6 700.8l4.6 4.6m0 -4.6l-4.6 4.6M487.5 703.6l4.6 4.6m0 -4.6l-4.6 4.6M488.8 700.3l4.6 4.6m0 -4.6l-4.6 4.6M490.3 700.3l4.6 4.6m0 -4.6l-4.6 4.6M492 701.7l4.6 4.6m0 -4.6l-4.6 4.6M493 700.5l4.6 4.6m0 -4.6l-4.6 4.6M494.5 699l4.6 4.6m0 -4.6l-4.6 4.6M495.8 700.3l4.6 4.6m0 -4.6l-4.6 4.6M497.6 699.3l4.6 4.6m0 -4.6l-4.6 4.6M499 699.9l4.6 4.6m0 -4.6l-4.6 4.6M500.1 700.4l4.6 4.6m0 -4.6l-4.6 4.6M501.5 699.8l4.6 4.6m0 -4.6l-4.6 4.6M503.4 698.1l4.6 4.6m0 -4.6l-4.6 4.6M504.5 700.2l4.6 4.6m0 -4.6l-4.6 4.6M505.8 698l4.6 4.6m0 -4.6l-4.6 4.6M507.4 700.3l4.6 4.6m0 -4.6l-4.6 4.6M508.8 698.8l4.6 4.6m0 -4.6l-4.6 4.6M510.1 696l4.6 4.6m0 -4.6l-4.6 4.6M511.3 701.2l4.6 4.6m0 -4.6l-4.6 4.6M512.8 697.1l4.6 4.6m0 -4.6l-4.6 4.6M514.5 695.9l4.6 4.6m0 -4.6l-4.6 4.6M515.6 698.4l4.6 4.6m0 -4.6l-4.6 4.6M516.9 696.2l4.6 4.6m0 -4.6l-4.6 4.6M518.4 696.6l4.6 4.6m0 -4.6l-4.6 4.6M520 697.8l4.6 4.6m0 -4.6l-4.6 4.6M521.5 698.5l4.6 4.6m0 -4.6l-4.6 4.6M522.9 694.5l4.6 4.6m0 -4.6l-4.6 4.6M524.3 696.9l4.6 4.6m0 -4.6l-4.6 4.6M525.7 696.1l4.6 4.6m0 -4.6l-4.6 4.6M527.2 696.8l4.6 4.6m0 -4.6l-4.6 4.6M528.5 693.8l4.6 4.6m0 -4.6l-4.6 4.6M529.8 694l4.6 4.6m0 -4.6l-4.6 4.6M531 695.6l4.6 4.6m0 -4.6l-4.6 4.6M532.8 694l4.6 4.6m0 -4.6l-4.6 4.6M533.7 692l4.6 4.6m0 -4.6l-4.6 4.6M535.2 693.2l4.6 4.6m0 -4.6l-4.6 4.6M536.9 690.5l4.6 4.6m0 -4.6l-4.6 4.6M538.1 693.6l4.6 4.6m0 -4.6l-4.6 4.6M539.2 691.1l4.6 4.6m0 -4.6l-4.6 4.6M540.9 687.7l4.6 4.6m0 -4.6l-4.6 4.6M542.5 690l4.6 4.6m0 -4.6l-4.6 4.6M543.7 692.3l4.6 4.6m0 -4.6l-4.6 4.6M545.3 689l4.6 4.6m0 -4.6l-4.6 4.6M546.3 688.9l4.6 4.6m0 -4.6l-4.6 4.6M548.1 688.9l4.6 4.6m0 -4.6l-4.6 4.6M549.2 688.9l4.6 4.6m0 -4.6l-4.6 4.6M550.6 687.4l4.6 4.6m0 -4.6l-4.6 4.6M552.2 687.1l4.6 4.6m0 -4.6l-4.6 4.6M553.5 688.9l4.6 4.6m0 -4.6l-4.6 4.6M554.9 688.6l4.6 4.6m0 -4.6l-4.6 4.6M556.2 685.4l4.6 4.6m0 -4.6l-4.6 4.6M557.6 688.1l4.6 4.6m0 -4.6l-4.6 4.6M559.3 684.9l4.6 4.6m0 -4.6l-4.6 4.6M560.5 685.3l4.6 4.6m0 -4.6l-4.6 4.6M562.1 685.1l4.6 4.6m0 -4.6l-4.6 4.6M563.6 686l4.6 4.6m0 -4.6l-4.6 4.6M564.7 682.8l4.6 4.6m0 -4.6l-4.6 4.6M566.2 684.5l4.6 4.6m0 -4.6l-4.6 4.6M567.2 682l4.6 4.6m0 -4.6l-4.6 4.6M568.9 681.1l4.6 4.6m0 -4.6l-4.6 4.6M570.4 682.5l4.6 4.6m0 -4.6l-4.6 4.6M571.9 681.3l4.6 4.6m0 -4.6l-4.6 4.6M573.2 680.1l4.6 4.6m0 -4.6l-4.6 4.6M574.5 678.2l4.6 4.6m0 -4.6l-4.6 4.6M576.2 679.1l4.6 4.6m0 -4.6l-4.6 4.6M577.1 677l4.6 4.6m0 -4.6l-4.6 4.6M578.8 679.2l4.6 4.6m0 -4.6l-4.6 4.6M580 676.6l4.6 4.6m0 -4.6l-4.6 4.6M581.2 677.3l4.6 4.6m0 -4.6l-4.6 4.6M583.2 676.6l4.6 4.6m0 -4.6l-4.6 4.6M584.5 674.1l4.6 4.6m0 -4.6l-4.6 4.6M585.9 677.6l4.6 4.6m0 -4.6l-4.6 4.6M586.9 673.9l4.6 4.6m0 -4.6l-4.6 4.6M588.7 675.6l4.6 4.6m0 -4.6l-4.6 4.6M589.9 675.9l4.6 4.6m0 -4.6l-4.6 4.6M591.2 673.5l4.6 4.6m0 -4.6l-4.6 4.6M592.7 672.3l4.6 4.6m0 -4.6l-4.6 4.6M594.3 670.8l4.6 4.6m0 -4.6l-4.6 4.6M595.8 671.2l4.6 4.6m0 -4.6l-4.6 4.6M596.9 671.3l4.6 4.6m0 -4.6l-4.6 4.6M598.5 670.5l4.6 4.6m0 -4.6l-4.6 4.6M599.9 669.2l4.6 4.6m0 -4.6l-4.6 4.6M601.2 670.4l4.6 4.6m0 -4.6l-4.6 4.6M602.8 670.5l4.6 4.6m0 -4.6l-4.6 4.6M603.9 668.4l4.6 4.6m0 -4.6l-4.6 4.6M605.1 667.2l4.6 4.6m0 -4.6l-4.6 4.6M606.7 666.9l4.6 4.6m0 -4.6l-4.6 4.6M608.1 665.8l4.6 4.6m0 -4.6l-4.6 4.6M609.7 668.3l4.6 4.6m0 -4.6l-4.6 4.6M611.1 667.3l4.6 4.6m0 -4.6l-4.6 4.6M612 663.3l4.6 4.6m0 -4.6l-4.6 4.6M613.5 662.8l4.6 4.6m0 -4.6l-4.6 4.6M614.9 665.1l4.6 4.6m0 -4.6l-4.6 4.6M616.7 663l4.6 4.6m0 -4.6l-4.6 4.6M617.7 661.6l4.6 4.6m0 -4.6l-4.6 4.6M619.5 663.5l4.6 4.6m0 -4.6l-4.6 4.6M620.5 660.1l4.6 4.6m0 -4.6l-4.6 4.6M622.3 660l4.6 4.6m0 -4.6l-4.6 4.6M623.5 661.2l4.6 4.6m0 -4.6l-4.6 4.6M625.1 660l4.6 4.6m0 -4.6l-4.6 4.6M626.6 658.5l4.6 4.6m0 -4.6l-4.6 4.6M628 655.6l4.6 4.6m0 -4.6l-4.6 4.6M628.8 657l4.6 4.6m0 -4.6l-4.6 4.6M630.7 655.9l4.6 4.6m0 -4.6l-4.6 4.6M632 655.7l4.6 4.6m0 -4.6l-4.6 4.6M633.2 653.5l4.6 4.6m0 -4.6l-4.6 4.6M634.5 654.7l4.6 4.6m0 -4.6l-4.6 4.6M636.2 654.7l4.6 4.6m0 -4.6l-4.6 4.6M637.6 653l4.6 4.6m0 -4.6l-4.6 4.6M638.7 652.2l4.6 4.6m0 -4.6l-4.6 4.6M640.4 652.8l4.6 4.6m0 -4.6l-4.6 4.6M641.7 650.2l4.6 4.6m0 -4.6l-4.6 4.6M643.2 649.3l4.6 4.6m0 -4.6l-4.6 4.6M469.7 689.3l4.6 4.6m0 -4.6l-4.6 4.6M488 689.3l4.6 4.6m0 -4.6l-4.6 4.6M584.4 696.9l4.6 4.6m0 -4.6l-4.6 4.6"/>
<path fill="none" stroke="#A3BEDD" stroke-width="1.7" d="M421.7 667.4h5.2m-2.6 -2.6v5.2M423 670h5.2m-2.6 -2.6v5.2M424.6 675.5h5.2m-2.6 -2.6v5.2M425.8 677.6h5.2m-2.6 -2.6v5.2M426.9 684.2h5.2m-2.6 -2.6v5.2M428.6 685.4h5.2m-2.6 -2.6v5.2M429.8 688.2h5.2m-2.6 -2.6v5.2M431.6 695.6h5.2m-2.6 -2.6v5.2M432.5 693.6h5.2m-2.6 -2.6v5.2M434.2 693.3h5.2m-2.6 -2.6v5.2M435.4 697.5h5.2m-2.6 -2.6v5.2M437 695.3h5.2m-2.6 -2.6v5.2M438.1 697.3h5.2m-2.6 -2.6v5.2M440.1 695.2h5.2m-2.6 -2.6v5.2M441.3 698.6h5.2m-2.6 -2.6v5.2M442.8 699.2h5.2m-2.6 -2.6v5.2M443.9 697.2h5.2m-2.6 -2.6v5.2M445.3 697.5h5.2m-2.6 -2.6v5.2M446.7 697.2h5.2m-2.6 -2.6v5.2M447.9 699h5.2m-2.6 -2.6v5.2M449.7 698.6h5.2m-2.6 -2.6v5.2M451 700.8h5.2m-2.6 -2.6v5.2M452.5 699.5h5.2m-2.6 -2.6v5.2M453.7 699.5h5.2m-2.6 -2.6v5.2M454.9 699.1h5.2m-2.6 -2.6v5.2M456.7 698.7h5.2m-2.6 -2.6v5.2M458.2 698h5.2m-2.6 -2.6v5.2M459.3 700.4h5.2m-2.6 -2.6v5.2M460.7 698.9h5.2m-2.6 -2.6v5.2M462.1 701.2h5.2m-2.6 -2.6v5.2M463.4 699.9h5.2m-2.6 -2.6v5.2M465.1 699.3h5.2m-2.6 -2.6v5.2M466.4 700.2h5.2m-2.6 -2.6v5.2M468.1 697.1h5.2m-2.6 -2.6v5.2M469.3 699.7h5.2m-2.6 -2.6v5.2M470.4 699.1h5.2m-2.6 -2.6v5.2M471.9 696h5.2m-2.6 -2.6v5.2M473.5 696.1h5.2m-2.6 -2.6v5.2M474.7 695.1h5.2m-2.6 -2.6v5.2M476.3 697.5h5.2m-2.6 -2.6v5.2M477.7 695.1h5.2m-2.6 -2.6v5.2M479.2 697.5h5.2m-2.6 -2.6v5.2M480.5 694.9h5.2m-2.6 -2.6v5.2M481.8 694.4h5.2m-2.6 -2.6v5.2M483.2 697h5.2m-2.6 -2.6v5.2M484.5 694.2h5.2m-2.6 -2.6v5.2M485.8 694h5.2m-2.6 -2.6v5.2M487.6 694.7h5.2m-2.6 -2.6v5.2M488.9 694.6h5.2m-2.6 -2.6v5.2M490.2 693.5h5.2m-2.6 -2.6v5.2M491.8 694.9h5.2m-2.6 -2.6v5.2M492.8 693.2h5.2m-2.6 -2.6v5.2M494.5 695.1h5.2m-2.6 -2.6v5.2M496 693.6h5.2m-2.6 -2.6v5.2M497.2 692h5.2m-2.6 -2.6v5.2M498.8 693.7h5.2m-2.6 -2.6v5.2M499.8 691.9h5.2m-2.6 -2.6v5.2M501.7 695.6h5.2m-2.6 -2.6v5.2M502.7 695.4h5.2m-2.6 -2.6v5.2M504.3 692.5h5.2m-2.6 -2.6v5.2M505.9 695.7h5.2m-2.6 -2.6v5.2M507 695.2h5.2m-2.6 -2.6v5.2M508.3 692h5.2m-2.6 -2.6v5.2M510.1 693.6h5.2m-2.6 -2.6v5.2M511.1 693.6h5.2m-2.6 -2.6v5.2M512.7 693h5.2m-2.6 -2.6v5.2M514.1 691.2h5.2m-2.6 -2.6v5.2M515.4 694.8h5.2m-2.6 -2.6v5.2M517 692.5h5.2m-2.6 -2.6v5.2M518.5 693.4h5.2m-2.6 -2.6v5.2M519.9 692.4h5.2m-2.6 -2.6v5.2M521.2 693.6h5.2m-2.6 -2.6v5.2M522.6 690.7h5.2m-2.6 -2.6v5.2M523.5 691.5h5.2m-2.6 -2.6v5.2M525.1 689.8h5.2m-2.6 -2.6v5.2M526.6 692.4h5.2m-2.6 -2.6v5.2M528 689.5h5.2m-2.6 -2.6v5.2M529.7 688h5.2m-2.6 -2.6v5.2M531 689.6h5.2m-2.6 -2.6v5.2M532.2 690.2h5.2m-2.6 -2.6v5.2M533.9 688.6h5.2m-2.6 -2.6v5.2M534.9 689.7h5.2m-2.6 -2.6v5.2M536.6 689.3h5.2m-2.6 -2.6v5.2M537.6 686.7h5.2m-2.6 -2.6v5.2M539.5 687.1h5.2m-2.6 -2.6v5.2M540.6 689.1h5.2m-2.6 -2.6v5.2M542.3 686.7h5.2m-2.6 -2.6v5.2M543.3 687.8h5.2m-2.6 -2.6v5.2M544.7 685.4h5.2m-2.6 -2.6v5.2M546.1 684.2h5.2m-2.6 -2.6v5.2M547.5 686.6h5.2m-2.6 -2.6v5.2M548.8 684.4h5.2m-2.6 -2.6v5.2M550.6 682.1h5.2m-2.6 -2.6v5.2M551.8 684.6h5.2m-2.6 -2.6v5.2M553.2 683.5h5.2m-2.6 -2.6v5.2M554.5 684.3h5.2m-2.6 -2.6v5.2M556 684.4h5.2m-2.6 -2.6v5.2M557.4 682.9h5.2m-2.6 -2.6v5.2M558.5 680.1h5.2m-2.6 -2.6v5.2M560.1 679.5h5.2m-2.6 -2.6v5.2M561.4 682.3h5.2m-2.6 -2.6v5.2M562.9 681.4h5.2m-2.6 -2.6v5.2M564.4 681.4h5.2m-2.6 -2.6v5.2M566.1 679.8h5.2m-2.6 -2.6v5.2M567.1 679.6h5.2m-2.6 -2.6v5.2M568.8 677.1h5.2m-2.6 -2.6v5.2M570.1 678.2h5.2m-2.6 -2.6v5.2M571.7 678.4h5.2m-2.6 -2.6v5.2M573 676.8h5.2m-2.6 -2.6v5.2M574.5 675.6h5.2m-2.6 -2.6v5.2M575.4 678.6h5.2m-2.6 -2.6v5.2M577.2 675.1h5.2m-2.6 -2.6v5.2M578.3 676.2h5.2m-2.6 -2.6v5.2M579.7 676.5h5.2m-2.6 -2.6v5.2M581 675.4h5.2m-2.6 -2.6v5.2M582.4 676.7h5.2m-2.6 -2.6v5.2M584.1 673.5h5.2m-2.6 -2.6v5.2M585.2 675.9h5.2m-2.6 -2.6v5.2M586.9 675.4h5.2m-2.6 -2.6v5.2M588.1 673.7h5.2m-2.6 -2.6v5.2M589.7 672.8h5.2m-2.6 -2.6v5.2M591.1 674.3h5.2m-2.6 -2.6v5.2M592.2 672.3h5.2m-2.6 -2.6v5.2M594 673.9h5.2m-2.6 -2.6v5.2M595.3 670.1h5.2m-2.6 -2.6v5.2M596.6 669.5h5.2m-2.6 -2.6v5.2M598.1 669.4h5.2m-2.6 -2.6v5.2M599.5 671.6h5.2m-2.6 -2.6v5.2M600.7 668h5.2m-2.6 -2.6v5.2M602.3 668.9h5.2m-2.6 -2.6v5.2M603.4 669.2h5.2m-2.6 -2.6v5.2M605.3 666.6h5.2m-2.6 -2.6v5.2M606.5 666.9h5.2m-2.6 -2.6v5.2M608 667.3h5.2m-2.6 -2.6v5.2M609.3 664.5h5.2m-2.6 -2.6v5.2M610.8 665.7h5.2m-2.6 -2.6v5.2M612 665.9h5.2m-2.6 -2.6v5.2M613.3 664.8h5.2m-2.6 -2.6v5.2M614.5 663.4h5.2m-2.6 -2.6v5.2M616.2 662.4h5.2m-2.6 -2.6v5.2M617.4 665.7h5.2m-2.6 -2.6v5.2M619 664.6h5.2m-2.6 -2.6v5.2M620.1 663.1h5.2m-2.6 -2.6v5.2M622 663.4h5.2m-2.6 -2.6v5.2M623.1 660h5.2m-2.6 -2.6v5.2M624.5 663.7h5.2m-2.6 -2.6v5.2M626.2 660.4h5.2m-2.6 -2.6v5.2M627.3 660.4h5.2m-2.6 -2.6v5.2M628.8 658.4h5.2m-2.6 -2.6v5.2M630.3 659h5.2m-2.6 -2.6v5.2M631.3 657.7h5.2m-2.6 -2.6v5.2M632.9 659.4h5.2m-2.6 -2.6v5.2M634.7 658.1h5.2m-2.6 -2.6v5.2M635.9 658.4h5.2m-2.6 -2.6v5.2M637 656h5.2m-2.6 -2.6v5.2M638.9 658.7h5.2m-2.6 -2.6v5.2M640.3 658.5h5.2m-2.6 -2.6v5.2M641.5 654.7h5.2m-2.6 -2.6v5.2M642.5 654.3h5.2m-2.6 -2.6v5.2M644.1 656.5h5.2m-2.6 -2.6v5.2M645.5 654.2h5.2m-2.6 -2.6v5.2M646.8 653.5h5.2m-2.6 -2.6v5.2M502.5 718.3h5.2m-2.6 -2.6v5.2"/>
<path fill="#EA7016" d="M424.3 665.7l2.9 4.9h-5.8zM425.8 673.1l2.9 4.9h-5.8zM427.3 675.6l2.9 4.9h-5.8zM428.4 684l2.9 4.9h-5.8zM429.6 684.7l2.9 4.9h-5.8zM431 688.2l2.9 4.9h-5.8zM432.6 692.6l2.9 4.9h-5.8zM433.9 694.8l2.9 4.9h-5.8zM435.5 696.6l2.9 4.9h-5.8zM436.8 697.5l2.9 4.9h-5.8zM438.2 697.1l2.9 4.9h-5.8zM439.5 696.4l2.9 4.9h-5.8zM441.2 697.2l2.9 4.9h-5.8zM442.4 699.4l2.9 4.9h-5.8zM444 701.9l2.9 4.9h-5.8zM445.2 698.6l2.9 4.9h-5.8zM446.8 699.9l2.9 4.9h-5.8zM448.2 701.7l2.9 4.9h-5.8zM449.3 700.5l2.9 4.9h-5.8zM450.7 702.1l2.9 4.9h-5.8zM452.5 704.5l2.9 4.9h-5.8zM453.5 702.9l2.9 4.9h-5.8zM455.1 705.1l2.9 4.9h-5.8zM456.6 706l2.9 4.9h-5.8zM457.8 706.3l2.9 4.9h-5.8zM458.9 706.3l2.9 4.9h-5.8zM460.5 703.5l2.9 4.9h-5.8zM462 705.1l2.9 4.9h-5.8zM463.7 706.8l2.9 4.9h-5.8zM465.1 705.9l2.9 4.9h-5.8zM466.1 705.8l2.9 4.9h-5.8zM467.4 703.6l2.9 4.9h-5.8zM469 705.7l2.9 4.9h-5.8zM470.4 706l2.9 4.9h-5.8zM472 705.2l2.9 4.9h-5.8zM473.2 702.8l2.9 4.9h-5.8zM474.4 705.7l2.9 4.9h-5.8zM475.9 701.1l2.9 4.9h-5.8zM477.2 701.9l2.9 4.9h-5.8zM479 702.3l2.9 4.9h-5.8zM480.2 702.8l2.9 4.9h-5.8zM481.8 703.2l2.9 4.9h-5.8zM482.8 700.3l2.9 4.9h-5.8zM484.7 701.8l2.9 4.9h-5.8zM485.8 700.6l2.9 4.9h-5.8zM487.3 704l2.9 4.9h-5.8zM488.8 699.6l2.9 4.9h-5.8zM490.1 700.7l2.9 4.9h-5.8zM491.7 702.7l2.9 4.9h-5.8zM492.6 701.7l2.9 4.9h-5.8zM494.4 697.5l2.9 4.9h-5.8zM495.9 699.8l2.9 4.9h-5.8zM497.2 701.6l2.9 4.9h-5.8zM498.6 699.2l2.9 4.9h-5.8zM499.6 700.1l2.9 4.9h-5.8zM501 703.2l2.9 4.9h-5.8zM502.9 699l2.9 4.9h-5.8zM503.9 702.4l2.9 4.9h-5.8zM505.5 703l2.9 4.9h-5.8zM506.8 702l2.9 4.9h-5.8zM508.5 701.5l2.9 4.9h-5.8zM509.5 698.5l2.9 4.9h-5.8zM510.9 702.5l2.9 4.9h-5.8zM512.4 697.9l2.9 4.9h-5.8zM514 704.7l2.9 4.9h-5.8zM515.1 702.3l2.9 4.9h-5.8zM516.4 698.1l2.9 4.9h-5.8zM517.8 699.1l2.9 4.9h-5.8zM519.5 697l2.9 4.9h-5.8zM520.6 700.9l2.9 4.9h-5.8zM522.3 697.1l2.9 4.9h-5.8zM523.9 698.7l2.9 4.9h-5.8zM525.2 696.4l2.9 4.9h-5.8zM526.3 696.7l2.9 4.9h-5.8zM527.5 695.8l2.9 4.9h-5.8zM528.9 694.4l2.9 4.9h-5.8zM530.8 697.4l2.9 4.9h-5.8zM532.2 695.9l2.9 4.9h-5.8zM533.2 696.6l2.9 4.9h-5.8zM534.9 692.6l2.9 4.9h-5.8zM536 691.9l2.9 4.9h-5.8zM537.5 693.1l2.9 4.9h-5.8zM539 694.4l2.9 4.9h-5.8zM540.7 690.9l2.9 4.9h-5.8zM541.5 690.7l2.9 4.9h-5.8zM543.3 691.2l2.9 4.9h-5.8zM544.8 693.5l2.9 4.9h-5.8zM546 689.6l2.9 4.9h-5.8zM547.6 690.6l2.9 4.9h-5.8zM548.7 689.2l2.9 4.9h-5.8zM549.9 687.8l2.9 4.9h-5.8zM551.6 691.1l2.9 4.9h-5.8zM553 688.9l2.9 4.9h-5.8zM554.5 688.2l2.9 4.9h-5.8zM555.5 690.3l2.9 4.9h-5.8zM556.9 686.1l2.9 4.9h-5.8zM558.4 689.9l2.9 4.9h-5.8zM559.8 685.9l2.9 4.9h-5.8zM561.2 688.4l2.9 4.9h-5.8zM562.9 685.1l2.9 4.9h-5.8zM564.1 687.7l2.9 4.9h-5.8zM565.8 685.8l2.9 4.9h-5.8zM567.2 687.5l2.9 4.9h-5.8zM568.6 683.6l2.9 4.9h-5.8zM570 686.2l2.9 4.9h-5.8zM571.5 683.6l2.9 4.9h-5.8zM572.6 681.9l2.9 4.9h-5.8zM573.9 681.1l2.9 4.9h-5.8zM575.4 681.7l2.9 4.9h-5.8zM576.6 683.7l2.9 4.9h-5.8zM578 685.7l2.9 4.9h-5.8zM579.9 681l2.9 4.9h-5.8zM581.1 681.5l2.9 4.9h-5.8zM582.6 682.1l2.9 4.9h-5.8zM584 682.1l2.9 4.9h-5.8zM585.4 681.7l2.9 4.9h-5.8zM586.5 680.5l2.9 4.9h-5.8zM587.7 677.5l2.9 4.9h-5.8zM589.4 680.1l2.9 4.9h-5.8zM591.1 677.4l2.9 4.9h-5.8zM592 677.4l2.9 4.9h-5.8zM593.6 675.9l2.9 4.9h-5.8zM594.8 677.7l2.9 4.9h-5.8zM596.6 678.2l2.9 4.9h-5.8zM598 675l2.9 4.9h-5.8zM599 676.2l2.9 4.9h-5.8zM600.7 674.7l2.9 4.9h-5.8zM602.3 673.1l2.9 4.9h-5.8zM603.3 671l2.9 4.9h-5.8zM604.8 673.9l2.9 4.9h-5.8zM606.2 673.5l2.9 4.9h-5.8zM607.5 671.2l2.9 4.9h-5.8zM609 675.2l2.9 4.9h-5.8zM610.2 674.9l2.9 4.9h-5.8zM611.8 673.7l2.9 4.9h-5.8zM613.2 670.8l2.9 4.9h-5.8zM614.9 674.6l2.9 4.9h-5.8zM615.9 672.7l2.9 4.9h-5.8zM617.6 672.8l2.9 4.9h-5.8zM618.9 672l2.9 4.9h-5.8zM620.5 670.5l2.9 4.9h-5.8zM621.9 668.1l2.9 4.9h-5.8zM623.2 667.4l2.9 4.9h-5.8zM624.4 666.7l2.9 4.9h-5.8zM625.9 669.7l2.9 4.9h-5.8zM627 666.5l2.9 4.9h-5.8zM628.9 667l2.9 4.9h-5.8zM630.2 667.3l2.9 4.9h-5.8zM631.4 663.5l2.9 4.9h-5.8zM633 664.1l2.9 4.9h-5.8zM634.3 666.5l2.9 4.9h-5.8zM635.3 664l2.9 4.9h-5.8zM636.9 662.8l2.9 4.9h-5.8zM638.1 663.9l2.9 4.9h-5.8zM639.9 661.5l2.9 4.9h-5.8zM641.4 663.5l2.9 4.9h-5.8zM642.4 662.6l2.9 4.9h-5.8zM643.8 663.2l2.9 4.9h-5.8zM645.1 659.5l2.9 4.9h-5.8zM646.8 658.8l2.9 4.9h-5.8zM648.5 660.9l2.9 4.9h-5.8zM649.9 659.8l2.9 4.9h-5.8zM651.1 661l2.9 4.9h-5.8zM652.3 660.6l2.9 4.9h-5.8zM654 660l2.9 4.9h-5.8zM654.9 655.5l2.9 4.9h-5.8zM656.6 658.2l2.9 4.9h-5.8zM505.4 720l2.9 4.9h-5.8zM586.7 699.3l2.9 4.9h-5.8z"/>
<path fill="#9E3A0C" d="M421.9 666.7a2.3 2.3 0 1 0 4.6 0a2.3 2.3 0 1 0 -4.6 0M423.2 668.1a2.3 2.3 0 1 0 4.6 0a2.3 2.3 0 1 0 -4.6 0M425 669.3a2.3 2.3 0 1 0 4.6 0a2.3 2.3 0 1 0 -4.6 0M425.8 675.4a2.3 2.3 0 1 0 4.6 0a2.3 2.3 0 1 0 -4.6 0M427.7 675.2a2.3 2.3 0 1 0 4.6 0a2.3 2.3 0 1 0 -4.6 0M428.7 676a2.3 2.3 0 1 0 4.6 0a2.3 2.3 0 1 0 -4.6 0M430.1 679a2.3 2.3 0 1 0 4.6 0a2.3 2.3 0 1 0 -4.6 0M431.9 680.4a2.3 2.3 0 1 0 4.6 0a2.3 2.3 0 1 0 -4.6 0M432.8 687a2.3 2.3 0 1 0 4.6 0a2.3 2.3 0 1 0 -4.6 0M434.6 681.7a2.3 2.3 0 1 0 4.6 0a2.3 2.3 0 1 0 -4.6 0M435.7 687.2a2.3 2.3 0 1 0 4.6 0a2.3 2.3 0 1 0 -4.6 0M437.5 688a2.3 2.3 0 1 0 4.6 0a2.3 2.3 0 1 0 -4.6 0M438.7 683.8a2.3 2.3 0 1 0 4.6 0a2.3 2.3 0 1 0 -4.6 0M439.9 688.1a2.3 2.3 0 1 0 4.6 0a2.3 2.3 0 1 0 -4.6 0M441.6 685.5a2.3 2.3 0 1 0 4.6 0a2.3 2.3 0 1 0 -4.6 0M443 688.2a2.3 2.3 0 1 0 4.6 0a2.3 2.3 0 1 0 -4.6 0M444.5 690.8a2.3 2.3 0 1 0 4.6 0a2.3 2.3 0 1 0 -4.6 0M445.4 688.6a2.3 2.3 0 1 0 4.6 0a2.3 2.3 0 1 0 -4.6 0M447.4 687.5a2.3 2.3 0 1 0 4.6 0a2.3 2.3 0 1 0 -4.6 0M448.7 690.2a2.3 2.3 0 1 0 4.6 0a2.3 2.3 0 1 0 -4.6 0M449.7 690.2a2.3 2.3 0 1 0 4.6 0a2.3 2.3 0 1 0 -4.6 0M451.4 688.5a2.3 2.3 0 1 0 4.6 0a2.3 2.3 0 1 0 -4.6 0M452.7 690.4a2.3 2.3 0 1 0 4.6 0a2.3 2.3 0 1 0 -4.6 0M454.2 690.5a2.3 2.3 0 1 0 4.6 0a2.3 2.3 0 1 0 -4.6 0M455.3 690.2a2.3 2.3 0 1 0 4.6 0a2.3 2.3 0 1 0 -4.6 0M457.2 690.3a2.3 2.3 0 1 0 4.6 0a2.3 2.3 0 1 0 -4.6 0M458.4 693.6a2.3 2.3 0 1 0 4.6 0a2.3 2.3 0 1 0 -4.6 0M459.7 692.5a2.3 2.3 0 1 0 4.6 0a2.3 2.3 0 1 0 -4.6 0M461.4 692.3a2.3 2.3 0 1 0 4.6 0a2.3 2.3 0 1 0 -4.6 0M462.4 692.5a2.3 2.3 0 1 0 4.6 0a2.3 2.3 0 1 0 -4.6 0M463.9 693.1a2.3 2.3 0 1 0 4.6 0a2.3 2.3 0 1 0 -4.6 0M465.4 694.7a2.3 2.3 0 1 0 4.6 0a2.3 2.3 0 1 0 -4.6 0M466.8 690.6a2.3 2.3 0 1 0 4.6 0a2.3 2.3 0 1 0 -4.6 0M468 693.9a2.3 2.3 0 1 0 4.6 0a2.3 2.3 0 1 0 -4.6 0M469.6 686.4a2.3 2.3 0 1 0 4.6 0a2.3 2.3 0 1 0 -4.6 0M470.9 691.3a2.3 2.3 0 1 0 4.6 0a2.3 2.3 0 1 0 -4.6 0M472.4 690.1a2.3 2.3 0 1 0 4.6 0a2.3 2.3 0 1 0 -4.6 0M473.6 685.2a2.3 2.3 0 1 0 4.6 0a2.3 2.3 0 1 0 -4.6 0M475.1 687.6a2.3 2.3 0 1 0 4.6 0a2.3 2.3 0 1 0 -4.6 0M476.6 683.4a2.3 2.3 0 1 0 4.6 0a2.3 2.3 0 1 0 -4.6 0M477.7 687a2.3 2.3 0 1 0 4.6 0a2.3 2.3 0 1 0 -4.6 0M479.3 685.1a2.3 2.3 0 1 0 4.6 0a2.3 2.3 0 1 0 -4.6 0M480.9 683.7a2.3 2.3 0 1 0 4.6 0a2.3 2.3 0 1 0 -4.6 0M482.2 687a2.3 2.3 0 1 0 4.6 0a2.3 2.3 0 1 0 -4.6 0M483.5 687.1a2.3 2.3 0 1 0 4.6 0a2.3 2.3 0 1 0 -4.6 0M484.7 681.4a2.3 2.3 0 1 0 4.6 0a2.3 2.3 0 1 0 -4.6 0M486.3 687.2a2.3 2.3 0 1 0 4.6 0a2.3 2.3 0 1 0 -4.6 0M487.6 690.9a2.3 2.3 0 1 0 4.6 0a2.3 2.3 0 1 0 -4.6 0M489 687.7a2.3 2.3 0 1 0 4.6 0a2.3 2.3 0 1 0 -4.6 0M490.6 686.7a2.3 2.3 0 1 0 4.6 0a2.3 2.3 0 1 0 -4.6 0M492.2 685.4a2.3 2.3 0 1 0 4.6 0a2.3 2.3 0 1 0 -4.6 0M493.3 682.5a2.3 2.3 0 1 0 4.6 0a2.3 2.3 0 1 0 -4.6 0M494.5 680.4a2.3 2.3 0 1 0 4.6 0a2.3 2.3 0 1 0 -4.6 0M496.2 680.5a2.3 2.3 0 1 0 4.6 0a2.3 2.3 0 1 0 -4.6 0M497.5 682.8a2.3 2.3 0 1 0 4.6 0a2.3 2.3 0 1 0 -4.6 0M499.1 677.9a2.3 2.3 0 1 0 4.6 0a2.3 2.3 0 1 0 -4.6 0M500.5 677.8a2.3 2.3 0 1 0 4.6 0a2.3 2.3 0 1 0 -4.6 0M501.6 682.1a2.3 2.3 0 1 0 4.6 0a2.3 2.3 0 1 0 -4.6 0M503.3 676.6a2.3 2.3 0 1 0 4.6 0a2.3 2.3 0 1 0 -4.6 0M504.5 679.2a2.3 2.3 0 1 0 4.6 0a2.3 2.3 0 1 0 -4.6 0M506 680.7a2.3 2.3 0 1 0 4.6 0a2.3 2.3 0 1 0 -4.6 0M507 678.2a2.3 2.3 0 1 0 4.6 0a2.3 2.3 0 1 0 -4.6 0M508.6 679a2.3 2.3 0 1 0 4.6 0a2.3 2.3 0 1 0 -4.6 0M510.3 674.7a2.3 2.3 0 1 0 4.6 0a2.3 2.3 0 1 0 -4.6 0M511.2 678.4a2.3 2.3 0 1 0 4.6 0a2.3 2.3 0 1 0 -4.6 0M513 676.6a2.3 2.3 0 1 0 4.6 0a2.3 2.3 0 1 0 -4.6 0M514.6 679.8a2.3 2.3 0 1 0 4.6 0a2.3 2.3 0 1 0 -4.6 0M515.9 674.9a2.3 2.3 0 1 0 4.6 0a2.3 2.3 0 1 0 -4.6 0M516.9 676.3a2.3 2.3 0 1 0 4.6 0a2.3 2.3 0 1 0 -4.6 0M518.3 676.5a2.3 2.3 0 1 0 4.6 0a2.3 2.3 0 1 0 -4.6 0M519.8 677.5a2.3 2.3 0 1 0 4.6 0a2.3 2.3 0 1 0 -4.6 0M521 671.4a2.3 2.3 0 1 0 4.6 0a2.3 2.3 0 1 0 -4.6 0M522.8 675.2a2.3 2.3 0 1 0 4.6 0a2.3 2.3 0 1 0 -4.6 0M524.2 673.6a2.3 2.3 0 1 0 4.6 0a2.3 2.3 0 1 0 -4.6 0M525.6 674.2a2.3 2.3 0 1 0 4.6 0a2.3 2.3 0 1 0 -4.6 0M527.1 672.5a2.3 2.3 0 1 0 4.6 0a2.3 2.3 0 1 0 -4.6 0M528.2 671.9a2.3 2.3 0 1 0 4.6 0a2.3 2.3 0 1 0 -4.6 0M529.4 670.1a2.3 2.3 0 1 0 4.6 0a2.3 2.3 0 1 0 -4.6 0M530.9 671.8a2.3 2.3 0 1 0 4.6 0a2.3 2.3 0 1 0 -4.6 0M532.7 670.7a2.3 2.3 0 1 0 4.6 0a2.3 2.3 0 1 0 -4.6 0M533.7 669.7a2.3 2.3 0 1 0 4.6 0a2.3 2.3 0 1 0 -4.6 0M535.1 665.7a2.3 2.3 0 1 0 4.6 0a2.3 2.3 0 1 0 -4.6 0M536.8 666a2.3 2.3 0 1 0 4.6 0a2.3 2.3 0 1 0 -4.6 0M538.2 668.4a2.3 2.3 0 1 0 4.6 0a2.3 2.3 0 1 0 -4.6 0M539.8 665.7a2.3 2.3 0 1 0 4.6 0a2.3 2.3 0 1 0 -4.6 0M541.1 665.4a2.3 2.3 0 1 0 4.6 0a2.3 2.3 0 1 0 -4.6 0M542.5 667.3a2.3 2.3 0 1 0 4.6 0a2.3 2.3 0 1 0 -4.6 0M543.9 662.8a2.3 2.3 0 1 0 4.6 0a2.3 2.3 0 1 0 -4.6 0M544.8 665.4a2.3 2.3 0 1 0 4.6 0a2.3 2.3 0 1 0 -4.6 0M546.8 661.2a2.3 2.3 0 1 0 4.6 0a2.3 2.3 0 1 0 -4.6 0M547.8 663.8a2.3 2.3 0 1 0 4.6 0a2.3 2.3 0 1 0 -4.6 0M549.1 659.3a2.3 2.3 0 1 0 4.6 0a2.3 2.3 0 1 0 -4.6 0M550.9 661.5a2.3 2.3 0 1 0 4.6 0a2.3 2.3 0 1 0 -4.6 0M552 657.2a2.3 2.3 0 1 0 4.6 0a2.3 2.3 0 1 0 -4.6 0M553.3 655a2.3 2.3 0 1 0 4.6 0a2.3 2.3 0 1 0 -4.6 0M554.9 657.8a2.3 2.3 0 1 0 4.6 0a2.3 2.3 0 1 0 -4.6 0M556.5 657.7a2.3 2.3 0 1 0 4.6 0a2.3 2.3 0 1 0 -4.6 0M557.6 657a2.3 2.3 0 1 0 4.6 0a2.3 2.3 0 1 0 -4.6 0M559.3 652.2a2.3 2.3 0 1 0 4.6 0a2.3 2.3 0 1 0 -4.6 0M560.8 654.4a2.3 2.3 0 1 0 4.6 0a2.3 2.3 0 1 0 -4.6 0M561.9 654.3a2.3 2.3 0 1 0 4.6 0a2.3 2.3 0 1 0 -4.6 0M563.1 651.9a2.3 2.3 0 1 0 4.6 0a2.3 2.3 0 1 0 -4.6 0M564.6 653.8a2.3 2.3 0 1 0 4.6 0a2.3 2.3 0 1 0 -4.6 0M565.9 651.4a2.3 2.3 0 1 0 4.6 0a2.3 2.3 0 1 0 -4.6 0M567.5 653.7a2.3 2.3 0 1 0 4.6 0a2.3 2.3 0 1 0 -4.6 0M568.8 652.6a2.3 2.3 0 1 0 4.6 0a2.3 2.3 0 1 0 -4.6 0M570.2 648.4a2.3 2.3 0 1 0 4.6 0a2.3 2.3 0 1 0 -4.6 0M571.6 650.3a2.3 2.3 0 1 0 4.6 0a2.3 2.3 0 1 0 -4.6 0M573 649.3a2.3 2.3 0 1 0 4.6 0a2.3 2.3 0 1 0 -4.6 0M574.7 649.1a2.3 2.3 0 1 0 4.6 0a2.3 2.3 0 1 0 -4.6 0M576.1 649.8a2.3 2.3 0 1 0 4.6 0a2.3 2.3 0 1 0 -4.6 0M577.3 647.1a2.3 2.3 0 1 0 4.6 0a2.3 2.3 0 1 0 -4.6 0M578.5 644.9a2.3 2.3 0 1 0 4.6 0a2.3 2.3 0 1 0 -4.6 0M580 648a2.3 2.3 0 1 0 4.6 0a2.3 2.3 0 1 0 -4.6 0M581.6 643.6a2.3 2.3 0 1 0 4.6 0a2.3 2.3 0 1 0 -4.6 0M583.2 646.6a2.3 2.3 0 1 0 4.6 0a2.3 2.3 0 1 0 -4.6 0M584.5 642.6a2.3 2.3 0 1 0 4.6 0a2.3 2.3 0 1 0 -4.6 0M585.4 646.2a2.3 2.3 0 1 0 4.6 0a2.3 2.3 0 1 0 -4.6 0M587 643.1a2.3 2.3 0 1 0 4.6 0a2.3 2.3 0 1 0 -4.6 0M588.2 645.4a2.3 2.3 0 1 0 4.6 0a2.3 2.3 0 1 0 -4.6 0M589.9 642.1a2.3 2.3 0 1 0 4.6 0a2.3 2.3 0 1 0 -4.6 0M591.2 640.4a2.3 2.3 0 1 0 4.6 0a2.3 2.3 0 1 0 -4.6 0M584.4 659.8a2.3 2.3 0 1 0 4.6 0a2.3 2.3 0 1 0 -4.6 0"/>
<path fill="#FDBB47" d="M424.2 665.3l2.7 2.7 -2.7 2.7 -2.7 -2.7zM425.4 666.7l2.7 2.7 -2.7 2.7 -2.7 -2.7zM426.9 671.6l2.7 2.7 -2.7 2.7 -2.7 -2.7zM428.4 664.2l2.7 2.7 -2.7 2.7 -2.7 -2.7zM429.8 668.4l2.7 2.7 -2.7 2.7 -2.7 -2.7zM431.3 678.2l2.7 2.7 -2.7 2.7 -2.7 -2.7zM432.9 676.9l2.7 2.7 -2.7 2.7 -2.7 -2.7zM434.3 676.2l2.7 2.7 -2.7 2.7 -2.7 -2.7zM435.5 679l2.7 2.7 -2.7 2.7 -2.7 -2.7zM436.7 678.9l2.7 2.7 -2.7 2.7 -2.7 -2.7zM437.9 677.3l2.7 2.7 -2.7 2.7 -2.7 -2.7zM439.6 677.6l2.7 2.7 -2.7 2.7 -2.7 -2.7zM440.9 677.2l2.7 2.7 -2.7 2.7 -2.7 -2.7zM442.5 679.7l2.7 2.7 -2.7 2.7 -2.7 -2.7zM443.6 680.6l2.7 2.7 -2.7 2.7 -2.7 -2.7zM445.3 680.1l2.7 2.7 -2.7 2.7 -2.7 -2.7zM446.5 681.5l2.7 2.7 -2.7 2.7 -2.7 -2.7zM447.8 680.3l2.7 2.7 -2.7 2.7 -2.7 -2.7zM449.1 678.8l2.7 2.7 -2.7 2.7 -2.7 -2.7zM450.8 683.1l2.7 2.7 -2.7 2.7 -2.7 -2.7zM452 680.4l2.7 2.7 -2.7 2.7 -2.7 -2.7zM453.4 679l2.7 2.7 -2.7 2.7 -2.7 -2.7zM454.9 678.6l2.7 2.7 -2.7 2.7 -2.7 -2.7zM456.2 681.1l2.7 2.7 -2.7 2.7 -2.7 -2.7zM457.5 680.2l2.7 2.7 -2.7 2.7 -2.7 -2.7zM459 680.8l2.7 2.7 -2.7 2.7 -2.7 -2.7zM460.7 680.2l2.7 2.7 -2.7 2.7 -2.7 -2.7zM462 681.1l2.7 2.7 -2.7 2.7 -2.7 -2.7zM463.5 677.7l2.7 2.7 -2.7 2.7 -2.7 -2.7zM464.9 679l2.7 2.7 -2.7 2.7 -2.7 -2.7zM466.3 679.7l2.7 2.7 -2.7 2.7 -2.7 -2.7zM467.6 682.1l2.7 2.7 -2.7 2.7 -2.7 -2.7zM469.2 678.3l2.7 2.7 -2.7 2.7 -2.7 -2.7zM470.1 675.7l2.7 2.7 -2.7 2.7 -2.7 -2.7zM471.7 679.2l2.7 2.7 -2.7 2.7 -2.7 -2.7zM472.9 677.7l2.7 2.7 -2.7 2.7 -2.7 -2.7zM474.6 682.7l2.7 2.7 -2.7 2.7 -2.7 -2.7zM476.2 674.8l2.7 2.7 -2.7 2.7 -2.7 -2.7zM477.4 677.6l2.7 2.7 -2.7 2.7 -2.7 -2.7zM479 673.3l2.7 2.7 -2.7 2.7 -2.7 -2.7zM480.3 675.5l2.7 2.7 -2.7 2.7 -2.7 -2.7zM481.3 672.4l2.7 2.7 -2.7 2.7 -2.7 -2.7zM482.8 675.2l2.7 2.7 -2.7 2.7 -2.7 -2.7zM484.5 674.9l2.7 2.7 -2.7 2.7 -2.7 -2.7zM486.1 674.9l2.7 2.7 -2.7 2.7 -2.7 -2.7zM487 673.1l2.7 2.7 -2.7 2.7 -2.7 -2.7zM488.9 672.5l2.7 2.7 -2.7 2.7 -2.7 -2.7zM490.1 669.8l2.7 2.7 -2.7 2.7 -2.7 -2.7zM491.2 670.2l2.7 2.7 -2.7 2.7 -2.7 -2.7zM492.7 673.1l2.7 2.7 -2.7 2.7 -2.7 -2.7zM494.4 671.2l2.7 2.7 -2.7 2.7 -2.7 -2.7zM495.8 669.4l2.7 2.7 -2.7 2.7 -2.7 -2.7zM497.1 670.2l2.7 2.7 -2.7 2.7 -2.7 -2.7zM498.7 668.3l2.7 2.7 -2.7 2.7 -2.7 -2.7zM500 667.9l2.7 2.7 -2.7 2.7 -2.7 -2.7zM501.5 670.5l2.7 2.7 -2.7 2.7 -2.7 -2.7zM502.5 670.3l2.7 2.7 -2.7 2.7 -2.7 -2.7zM504 667.6l2.7 2.7 -2.7 2.7 -2.7 -2.7zM505.3 668l2.7 2.7 -2.7 2.7 -2.7 -2.7zM506.6 664.4l2.7 2.7 -2.7 2.7 -2.7 -2.7zM508.1 669.5l2.7 2.7 -2.7 2.7 -2.7 -2.7zM509.4 664.4l2.7 2.7 -2.7 2.7 -2.7 -2.7zM511.3 663.6l2.7 2.7 -2.7 2.7 -2.7 -2.7zM512.5 662.5l2.7 2.7 -2.7 2.7 -2.7 -2.7zM514.1 665.7l2.7 2.7 -2.7 2.7 -2.7 -2.7zM515 665.9l2.7 2.7 -2.7 2.7 -2.7 -2.7zM516.7 662.7l2.7 2.7 -2.7 2.7 -2.7 -2.7zM518 667.6l2.7 2.7 -2.7 2.7 -2.7 -2.7zM519.6 664l2.7 2.7 -2.7 2.7 -2.7 -2.7zM520.5 666.4l2.7 2.7 -2.7 2.7 -2.7 -2.7zM522.3 663.8l2.7 2.7 -2.7 2.7 -2.7 -2.7zM523.6 660.1l2.7 2.7 -2.7 2.7 -2.7 -2.7zM524.7 658.9l2.7 2.7 -2.7 2.7 -2.7 -2.7zM526.4 661.7l2.7 2.7 -2.7 2.7 -2.7 -2.7zM527.7 659.4l2.7 2.7 -2.7 2.7 -2.7 -2.7zM529.1 655.7l2.7 2.7 -2.7 2.7 -2.7 -2.7zM530.3 655.9l2.7 2.7 -2.7 2.7 -2.7 -2.7zM532.2 654.1l2.7 2.7 -2.7 2.7 -2.7 -2.7zM533.2 656.1l2.7 2.7 -2.7 2.7 -2.7 -2.7zM535 657l2.7 2.7 -2.7 2.7 -2.7 -2.7zM536 653l2.7 2.7 -2.7 2.7 -2.7 -2.7zM537.8 650.5l2.7 2.7 -2.7 2.7 -2.7 -2.7zM539.3 654.7l2.7 2.7 -2.7 2.7 -2.7 -2.7zM540.4 653.2l2.7 2.7 -2.7 2.7 -2.7 -2.7zM542 647.6l2.7 2.7 -2.7 2.7 -2.7 -2.7zM543.1 648.2l2.7 2.7 -2.7 2.7 -2.7 -2.7zM544.4 650.2l2.7 2.7 -2.7 2.7 -2.7 -2.7zM546.1 650.7l2.7 2.7 -2.7 2.7 -2.7 -2.7zM547.4 641.4l2.7 2.7 -2.7 2.7 -2.7 -2.7zM549 649.6l2.7 2.7 -2.7 2.7 -2.7 -2.7zM550.2 645.9l2.7 2.7 -2.7 2.7 -2.7 -2.7zM551.9 643.7l2.7 2.7 -2.7 2.7 -2.7 -2.7zM553 642.9l2.7 2.7 -2.7 2.7 -2.7 -2.7zM554.3 643.6l2.7 2.7 -2.7 2.7 -2.7 -2.7zM556 640.6l2.7 2.7 -2.7 2.7 -2.7 -2.7zM557.5 639.7l2.7 2.7 -2.7 2.7 -2.7 -2.7zM558.5 642.4l2.7 2.7 -2.7 2.7 -2.7 -2.7zM559.8 638.1l2.7 2.7 -2.7 2.7 -2.7 -2.7zM561.6 640.2l2.7 2.7 -2.7 2.7 -2.7 -2.7zM562.7 636.5l2.7 2.7 -2.7 2.7 -2.7 -2.7zM564 637.7l2.7 2.7 -2.7 2.7 -2.7 -2.7zM565.6 632.7l2.7 2.7 -2.7 2.7 -2.7 -2.7zM566.9 635.2l2.7 2.7 -2.7 2.7 -2.7 -2.7zM568.2 633.8l2.7 2.7 -2.7 2.7 -2.7 -2.7zM569.9 635l2.7 2.7 -2.7 2.7 -2.7 -2.7zM571.1 633.2l2.7 2.7 -2.7 2.7 -2.7 -2.7zM572.4 632.7l2.7 2.7 -2.7 2.7 -2.7 -2.7zM573.9 629l2.7 2.7 -2.7 2.7 -2.7 -2.7zM575.4 635.4l2.7 2.7 -2.7 2.7 -2.7 -2.7zM576.6 632.3l2.7 2.7 -2.7 2.7 -2.7 -2.7zM578.3 628.8l2.7 2.7 -2.7 2.7 -2.7 -2.7zM579.3 628.8l2.7 2.7 -2.7 2.7 -2.7 -2.7zM581 626.1l2.7 2.7 -2.7 2.7 -2.7 -2.7zM582.3 623.1l2.7 2.7 -2.7 2.7 -2.7 -2.7zM584 627.6l2.7 2.7 -2.7 2.7 -2.7 -2.7zM585 626.9l2.7 2.7 -2.7 2.7 -2.7 -2.7zM586.3 627.1l2.7 2.7 -2.7 2.7 -2.7 -2.7zM587.9 629.4l2.7 2.7 -2.7 2.7 -2.7 -2.7zM589.7 630.3l2.7 2.7 -2.7 2.7 -2.7 -2.7zM590.8 625.1l2.7 2.7 -2.7 2.7 -2.7 -2.7zM592.4 629.5l2.7 2.7 -2.7 2.7 -2.7 -2.7zM593.3 627.3l2.7 2.7 -2.7 2.7 -2.7 -2.7zM473.4 650.9l2.7 2.7 -2.7 2.7 -2.7 -2.7zM493.8 654.4l2.7 2.7 -2.7 2.7 -2.7 -2.7zM442.5 672.7l2.7 2.7 -2.7 2.7 -2.7 -2.7zM474.9 665l2.7 2.7 -2.7 2.7 -2.7 -2.7zM586.7 650.7l2.7 2.7 -2.7 2.7 -2.7 -2.7z"/>
<path fill="#1B5424" d="M422.2 652.1h4.5v4.5h-4.5zM423.2 656h4.5v4.5h-4.5zM424.7 658h4.5v4.5h-4.5zM426.4 663.5h4.5v4.5h-4.5zM428.1 668.3h4.5v4.5h-4.5zM429.3 669.7h4.5v4.5h-4.5zM432.1 652.7h4.5v4.5h-4.5zM433.6 653.1h4.5v4.5h-4.5zM435.7 656.1h4.5v4.5h-4.5zM437.1 654.2h4.5v4.5h-4.5zM439.2 657.7h4.5v4.5h-4.5zM441 655.4h4.5v4.5h-4.5zM442.9 655.9h4.5v4.5h-4.5zM444.3 659.2h4.5v4.5h-4.5zM446.3 657.3h4.5v4.5h-4.5zM448.3 659.4h4.5v4.5h-4.5zM449.8 661.5h4.5v4.5h-4.5zM451.9 659h4.5v4.5h-4.5zM453.7 655.4h4.5v4.5h-4.5zM455.1 656h4.5v4.5h-4.5zM458.8 671.8h4.5v4.5h-4.5zM460 669.2h4.5v4.5h-4.5zM460.9 668.4h4.5v4.5h-4.5zM462.2 670.6h4.5v4.5h-4.5zM463.5 668.7h4.5v4.5h-4.5zM465.3 669.4h4.5v4.5h-4.5zM466.3 668.2h4.5v4.5h-4.5zM467.9 671.2h4.5v4.5h-4.5zM469 668.4h4.5v4.5h-4.5zM470.4 669.9h4.5v4.5h-4.5zM471.3 669.3h4.5v4.5h-4.5zM473 669.5h4.5v4.5h-4.5zM474 667.1h4.5v4.5h-4.5zM475.5 666.1h4.5v4.5h-4.5zM476.5 669.3h4.5v4.5h-4.5zM477.9 667h4.5v4.5h-4.5zM479.5 667.7h4.5v4.5h-4.5zM480.4 666h4.5v4.5h-4.5zM481.7 663.5h4.5v4.5h-4.5zM483.1 663.6h4.5v4.5h-4.5zM484.4 663.3h4.5v4.5h-4.5zM486 662.4h4.5v4.5h-4.5zM487.4 665.4h4.5v4.5h-4.5zM488.6 666.2h4.5v4.5h-4.5zM489.7 663h4.5v4.5h-4.5zM491.1 665.5h4.5v4.5h-4.5zM492.4 660.8h4.5v4.5h-4.5zM493.7 661.6h4.5v4.5h-4.5zM495 662.5h4.5v4.5h-4.5zM496.5 662.3h4.5v4.5h-4.5zM497.6 658.8h4.5v4.5h-4.5zM498.6 662.7h4.5v4.5h-4.5zM500.3 662.8h4.5v4.5h-4.5zM501.5 658.9h4.5v4.5h-4.5zM502.9 658.7h4.5v4.5h-4.5zM504 660.2h4.5v4.5h-4.5zM505.2 659h4.5v4.5h-4.5zM506.7 659.4h4.5v4.5h-4.5zM507.8 661h4.5v4.5h-4.5zM509.3 659.8h4.5v4.5h-4.5zM510.6 657h4.5v4.5h-4.5zM512 657.9h4.5v4.5h-4.5zM512.9 660.5h4.5v4.5h-4.5zM514.6 660.7h4.5v4.5h-4.5zM515.5 657.4h4.5v4.5h-4.5zM517 656.4h4.5v4.5h-4.5zM518.3 660.3h4.5v4.5h-4.5zM519.9 657.7h4.5v4.5h-4.5zM521.1 658.1h4.5v4.5h-4.5zM522.5 658.9h4.5v4.5h-4.5zM523.4 656.5h4.5v4.5h-4.5zM524.9 659.4h4.5v4.5h-4.5zM526.4 658.8h4.5v4.5h-4.5zM527.7 656.8h4.5v4.5h-4.5zM528.8 656.3h4.5v4.5h-4.5zM530.1 652.8h4.5v4.5h-4.5zM531.2 653.1h4.5v4.5h-4.5zM532.7 651.3h4.5v4.5h-4.5zM534.2 650.3h4.5v4.5h-4.5zM535.4 650.3h4.5v4.5h-4.5zM536.7 650.2h4.5v4.5h-4.5zM537.9 647.9h4.5v4.5h-4.5zM538.9 650.5h4.5v4.5h-4.5zM540.3 650h4.5v4.5h-4.5zM541.7 647.7h4.5v4.5h-4.5zM543.3 647.9h4.5v4.5h-4.5zM544.3 646.6h4.5v4.5h-4.5zM545.9 645.2h4.5v4.5h-4.5zM546.9 648.9h4.5v4.5h-4.5zM548.4 648.9h4.5v4.5h-4.5zM549.7 645.4h4.5v4.5h-4.5zM550.6 646.8h4.5v4.5h-4.5zM552.1 644.9h4.5v4.5h-4.5zM553.5 646.7h4.5v4.5h-4.5zM555 644.6h4.5v4.5h-4.5zM556.2 645.5h4.5v4.5h-4.5zM557.2 643.6h4.5v4.5h-4.5zM558.5 643.2h4.5v4.5h-4.5zM559.9 643.1h4.5v4.5h-4.5zM561.2 643.8h4.5v4.5h-4.5zM562.5 639.8h4.5v4.5h-4.5zM563.9 642.4h4.5v4.5h-4.5zM564.9 642.3h4.5v4.5h-4.5zM566.4 643.6h4.5v4.5h-4.5zM567.5 640.2h4.5v4.5h-4.5zM568.8 641.8h4.5v4.5h-4.5zM570.6 640h4.5v4.5h-4.5zM571.4 641h4.5v4.5h-4.5zM573 638h4.5v4.5h-4.5zM574.4 640.7h4.5v4.5h-4.5zM575.3 638.6h4.5v4.5h-4.5zM576.6 640h4.5v4.5h-4.5zM577.9 638.2h4.5v4.5h-4.5zM579.7 641.8h4.5v4.5h-4.5zM580.7 640.5h4.5v4.5h-4.5zM581.8 641.4h4.5v4.5h-4.5zM583.6 641.3h4.5v4.5h-4.5zM584.7 640.6h4.5v4.5h-4.5zM586.2 637.5h4.5v4.5h-4.5zM587 636h4.5v4.5h-4.5zM588.6 635.6h4.5v4.5h-4.5zM590 638.8h4.5v4.5h-4.5zM591.1 636.2h4.5v4.5h-4.5zM592.4 638.2h4.5v4.5h-4.5zM593.5 635.8h4.5v4.5h-4.5zM594.9 637.2h4.5v4.5h-4.5zM596.2 633.9h4.5v4.5h-4.5zM597.6 632h4.5v4.5h-4.5zM598.7 635.1h4.5v4.5h-4.5zM600 631.9h4.5v4.5h-4.5zM601.6 631.8h4.5v4.5h-4.5zM603.1 633.2h4.5v4.5h-4.5zM604 630h4.5v4.5h-4.5zM605.5 632.9h4.5v4.5h-4.5zM606.7 627.8h4.5v4.5h-4.5zM608.2 630.9h4.5v4.5h-4.5zM609.4 630.8h4.5v4.5h-4.5zM610.7 622.2h4.5v4.5h-4.5zM612.5 622.1h4.5v4.5h-4.5zM613.5 621.9h4.5v4.5h-4.5zM615.1 624.1h4.5v4.5h-4.5zM616.1 620.1h4.5v4.5h-4.5zM617.6 622.9h4.5v4.5h-4.5zM618.8 623h4.5v4.5h-4.5zM619.8 619.5h4.5v4.5h-4.5zM621.2 618.5h4.5v4.5h-4.5zM622.7 619.6h4.5v4.5h-4.5zM624.1 618.7h4.5v4.5h-4.5zM625 618.8h4.5v4.5h-4.5zM626.6 622.3h4.5v4.5h-4.5zM628 618.6h4.5v4.5h-4.5zM629 619.7h4.5v4.5h-4.5zM630.4 618.8h4.5v4.5h-4.5zM631.6 619.1h4.5v4.5h-4.5zM633.2 620.9h4.5v4.5h-4.5zM634.2 622.6h4.5v4.5h-4.5zM635.9 622.5h4.5v4.5h-4.5zM637.1 619h4.5v4.5h-4.5zM638.3 622.3h4.5v4.5h-4.5zM639.8 622.3h4.5v4.5h-4.5zM640.7 619h4.5v4.5h-4.5zM641.9 618.3h4.5v4.5h-4.5zM643.6 618.6h4.5v4.5h-4.5zM644.9 620.1h4.5v4.5h-4.5zM646.3 620.6h4.5v4.5h-4.5zM647.2 618.1h4.5v4.5h-4.5zM648.4 617h4.5v4.5h-4.5zM650 616.4h4.5v4.5h-4.5zM651.2 616.3h4.5v4.5h-4.5zM652.4 614.9h4.5v4.5h-4.5zM654 616.5h4.5v4.5h-4.5zM655.2 615.5h4.5v4.5h-4.5zM656.5 614h4.5v4.5h-4.5zM658 615.1h4.5v4.5h-4.5zM659.3 614h4.5v4.5h-4.5zM660.2 611.7h4.5v4.5h-4.5zM661.4 612.2h4.5v4.5h-4.5zM663 612.8h4.5v4.5h-4.5zM664 612.8h4.5v4.5h-4.5zM665.4 609.2h4.5v4.5h-4.5zM667.1 608.9h4.5v4.5h-4.5zM668.1 611.5h4.5v4.5h-4.5zM669.6 611.4h4.5v4.5h-4.5zM670.8 608.9h4.5v4.5h-4.5zM671.8 610.8h4.5v4.5h-4.5zM673.5 612.2h4.5v4.5h-4.5zM674.8 612.4h4.5v4.5h-4.5zM675.7 614.2h4.5v4.5h-4.5zM677.5 612.1h4.5v4.5h-4.5zM678.3 613.7h4.5v4.5h-4.5zM678.1 590.4h4.5v4.5h-4.5zM679.1 594h4.5v4.5h-4.5zM680.6 598.1h4.5v4.5h-4.5zM682.1 597.6h4.5v4.5h-4.5zM683.3 596.4h4.5v4.5h-4.5zM684.5 598.1h4.5v4.5h-4.5zM685.8 593.9h4.5v4.5h-4.5zM686.9 596.2h4.5v4.5h-4.5zM688.3 593.5h4.5v4.5h-4.5zM690 594.7h4.5v4.5h-4.5zM690.8 591.8h4.5v4.5h-4.5zM692.5 594.3h4.5v4.5h-4.5zM693.8 591.7h4.5v4.5h-4.5zM695 589.4h4.5v4.5h-4.5zM696.4 591.9h4.5v4.5h-4.5zM697.3 589.3h4.5v4.5h-4.5zM698.8 588h4.5v4.5h-4.5zM700.1 591.1h4.5v4.5h-4.5zM701.3 587.4h4.5v4.5h-4.5zM702.6 587.7h4.5v4.5h-4.5zM703.9 587.4h4.5v4.5h-4.5zM705.6 588.2h4.5v4.5h-4.5zM706.6 590.5h4.5v4.5h-4.5zM708.1 586.1h4.5v4.5h-4.5zM709.4 590.1h4.5v4.5h-4.5zM710.7 586.8h4.5v4.5h-4.5zM711.8 588.4h4.5v4.5h-4.5zM713.2 591.1h4.5v4.5h-4.5zM714.3 590.7h4.5v4.5h-4.5zM716 590h4.5v4.5h-4.5zM431.1 644.4h4.5v4.5h-4.5zM441.6 641.5h4.5v4.5h-4.5zM453.6 641.5h4.5v4.5h-4.5zM431.9 660.5h4.5v4.5h-4.5zM455.8 651.4h4.5v4.5h-4.5zM476.9 675.2h4.5v4.5h-4.5zM489.4 659h4.5v4.5h-4.5zM493.4 550h4.5v4.5h-4.5zM651.5 625.4h4.5v4.5h-4.5zM681.4 605.9h4.5v4.5h-4.5zM641.6 623.2h4.5v4.5h-4.5z"/>
</g>
<rect x="102.5" y="94.5" width="295" height="195" fill="none" stroke="#000" stroke-width="2.45" stroke-linejoin="round"/>
<path d="M169.5 289.5v-6M169.5 94.5v6M236.6 289.5v-6M236.6 94.5v6M303.6 289.5v-6M303.6 94.5v6M370.7 289.5v-6M370.7 94.5v6M102.5 143.2h6M397.5 143.2h-6M102.5 192h6M397.5 192h-6M102.5 240.8h6M397.5 240.8h-6" stroke="#000" stroke-width="2.4" fill="none"/>
<rect x="424.0" y="94.2" width="296" height="195.3" fill="none" stroke="#000" stroke-width="2.45" stroke-linejoin="round"/>
<path d="M491.3 289.5v-6M491.3 94.2v6M558.5 289.5v-6M558.5 94.2v6M625.8 289.5v-6M625.8 94.2v6M693.1 289.5v-6M693.1 94.2v6M424 143h6M720 143h-6M424 191.9h6M720 191.9h-6M424 240.7h6M720 240.7h-6" stroke="#000" stroke-width="2.4" fill="none"/>
<rect x="103.5" y="311.0" width="296.7" height="195" fill="none" stroke="#000" stroke-width="2.45" stroke-linejoin="round"/>
<path d="M170.9 506v-6M170.9 311v6M238.4 506v-6M238.4 311v6M305.8 506v-6M305.8 311v6M373.2 506v-6M373.2 311v6M103.5 359.8h6M400.2 359.8h-6M103.5 408.5h6M400.2 408.5h-6M103.5 457.2h6M400.2 457.2h-6" stroke="#000" stroke-width="2.4" fill="none"/>
<rect x="423.8" y="311.0" width="296.2" height="195" fill="none" stroke="#000" stroke-width="2.45" stroke-linejoin="round"/>
<path d="M491.1 506v-6M491.1 311v6M558.4 506v-6M558.4 311v6M625.8 506v-6M625.8 311v6M693.1 506v-6M693.1 311v6M423.8 359.8h6M720 359.8h-6M423.8 408.5h6M720 408.5h-6M423.8 457.2h6M720 457.2h-6" stroke="#000" stroke-width="2.4" fill="none"/>
<rect x="105.0" y="528.0" width="297" height="195" fill="none" stroke="#000" stroke-width="2.45" stroke-linejoin="round"/>
<path d="M172.5 723v-6M172.5 528v6M240 723v-6M240 528v6M307.5 723v-6M307.5 528v6M375 723v-6M375 528v6M105 570.4h6M402 570.4h-6M105 612.8h6M402 612.8h-6M105 655.2h6M402 655.2h-6M105 697.6h6M402 697.6h-6" stroke="#000" stroke-width="2.4" fill="none"/>
<rect x="423.8" y="528.0" width="296.2" height="195.3" fill="none" stroke="#000" stroke-width="2.45" stroke-linejoin="round"/>
<path d="M491.1 723.3v-6M491.1 528v6M558.4 723.3v-6M558.4 528v6M625.8 723.3v-6M625.8 528v6M693.1 723.3v-6M693.1 528v6M423.8 570.5h6M720 570.5h-6M423.8 612.9h6M720 612.9h-6M423.8 655.4h6M720 655.4h-6M423.8 697.8h6M720 697.8h-6" stroke="#000" stroke-width="2.4" fill="none"/>
<path fill="#9E3A0C" d="M102.6 633.8a2.3 2.3 0 1 0 4.6 0a2.3 2.3 0 1 0 -4.6 0"/>
<path fill="none" stroke="#A3BEDD" stroke-width="1.7" d="M102.3 617.6h5.2m-2.6 -2.6v5.2"/>
<path fill="#EA7016" d="M105.6 647.3l2.9 4.9h-5.8zM104.9 610.7l2.9 4.9h-5.8z"/>
<path fill="#FDBB47" d="M104.9 633.2l2.7 2.7 -2.7 2.7 -2.7 -2.7z"/>
<path fill="none" stroke="#1A72B6" stroke-width="1.6" d="M421.2 617.5l4.6 4.6m0 -4.6l-4.6 4.6"/>
<path fill="#EA7016" d="M423.5 612.9l2.9 4.9h-5.8zM424.2 648.1l2.9 4.9h-5.8z"/>
<path fill="#9E3A0C" d="M421.2 634.5a2.3 2.3 0 1 0 4.6 0a2.3 2.3 0 1 0 -4.6 0"/>
<path fill="#FDBB47" d="M423.5 631.2l2.7 2.7 -2.7 2.7 -2.7 -2.7z"/>
<text x="250" y="66" font-size="20.8" text-anchor="middle" >2VC1DTD</text>
<text x="250" y="88.8" font-size="20.8" text-anchor="middle" >3.0-4.20 V; C/3:C/3; RT</text>
<text x="571.5" y="66" font-size="20.8" text-anchor="middle" >2FEC1LFO</text>
<text x="571.5" y="88.8" font-size="20.8" text-anchor="middle" >3.0-4.20 V; C/3:C/3; RT</text>
<text x="378.5" y="125.5" font-size="20.8" font-weight="bold" text-anchor="end">a</text>
<text x="703.2" y="125.3" font-size="20.8" font-weight="bold" text-anchor="end">b</text>
<text x="379.2" y="336.6" font-size="20.8" font-weight="bold" text-anchor="end">c</text>
<text x="703.4" y="336" font-size="20.8" font-weight="bold" text-anchor="end">d</text>
<text x="383.4" y="554.7" font-size="20.8" font-weight="bold" text-anchor="end">e</text>
<text x="703.7" y="554.1" font-size="20.8" font-weight="bold" text-anchor="end">f</text>
<text x="91.7" y="100.6" font-size="20.8" text-anchor="end" >200</text>
<text x="91.7" y="149.3" font-size="20.8" text-anchor="end" >190</text>
<text x="91.7" y="198.1" font-size="20.8" text-anchor="end" >180</text>
<text x="91.7" y="246.8" font-size="20.8" text-anchor="end" >170</text>
<text x="91.7" y="295.6" font-size="20.8" text-anchor="end" >160</text>
<text x="90" y="366.9" font-size="20.8" text-anchor="end" >1</text>
<text x="90" y="415.7" font-size="20.8" text-anchor="end" >0.95</text>
<text x="90" y="464.4" font-size="20.8" text-anchor="end" >0.9</text>
<text x="90" y="513.2" font-size="20.8" text-anchor="end" >0.85</text>
<text x="92.8" y="535" font-size="20.8" text-anchor="end" >1.3</text>
<text x="92.8" y="577.4" font-size="20.8" text-anchor="end" >1.2</text>
<text x="92.8" y="619.8" font-size="20.8" text-anchor="end" >1.1</text>
<text x="92.8" y="662.2" font-size="20.8" text-anchor="end" >1</text>
<text x="92.8" y="704.6" font-size="20.8" text-anchor="end" >0.9</text>
<text x="105" y="752.4" font-size="20.8" text-anchor="middle" >0</text>
<text x="172.5" y="752.4" font-size="20.8" text-anchor="middle" >500</text>
<text x="240" y="752.4" font-size="20.8" text-anchor="middle" >1000</text>
<text x="307.5" y="752.4" font-size="20.8" text-anchor="middle" >1500</text>
<text x="375" y="752.4" font-size="20.8" text-anchor="middle" >2000</text>
<text x="249.6" y="774.8" font-size="20.8" text-anchor="middle" >Cycle</text>
<text x="423.8" y="752.4" font-size="20.8" text-anchor="middle" >0</text>
<text x="491.1" y="752.4" font-size="20.8" text-anchor="middle" >500</text>
<text x="558.4" y="752.4" font-size="20.8" text-anchor="middle" >1000</text>
<text x="625.8" y="752.4" font-size="20.8" text-anchor="middle" >1500</text>
<text x="693.1" y="752.4" font-size="20.8" text-anchor="middle" >2000</text>
<text x="568" y="774.8" font-size="20.8" text-anchor="middle" >Cycle</text>
<text transform="translate(47.3 191) rotate(-90)" font-size="20.8" text-anchor="middle">Disch. Capacity (mAh)</text>
<text transform="translate(18.3 409) rotate(-90)" font-size="20.8" text-anchor="middle">Normalized</text>
<text transform="translate(41.3 408) rotate(-90)" font-size="20.8" text-anchor="middle">Disch. Capacity</text>
<text transform="translate(56 625.6) rotate(-90)" font-size="20.8" text-anchor="middle">Normalized ΔV</text>
<path fill="#FDBB47" d="M103.1 13.1l9.3 9.3-9.3 9.3-9.3-9.3z"/>
<text x="124.5" y="28.4" font-size="20.8" text-anchor="start" >NGA</text>
<path fill="#EA7016" d="M196 14.2l9.2 16.3h-18.4z"/>
<text x="217" y="28.4" font-size="20.8" text-anchor="start" >NGB</text>
<circle fill="#9E3A0C" cx="289" cy="22.3" r="9.4"/>
<text x="310.3" y="28.4" font-size="20.8" text-anchor="start" >NGC</text>
<rect fill="#1B5424" x="373.8" y="12.9" width="19" height="18.8"/>
<text x="403.8" y="28.4" font-size="20.8" text-anchor="start" >AGA (1C:1C)</text>
<path stroke="#1A72B6" stroke-width="4.6" fill="none" d="M545.8 14.8l15 15m0-15l-15 15"/>
<text x="573.9" y="28.4" font-size="20.8" text-anchor="start" >AGB</text>
<path stroke="#A3BEDD" stroke-width="4.6" fill="none" d="M635.9 22.4h19m-9.5-9.5v19"/>
<text x="665.6" y="28.4" font-size="20.8" text-anchor="start" >AGC</text>
</svg></body></html>
